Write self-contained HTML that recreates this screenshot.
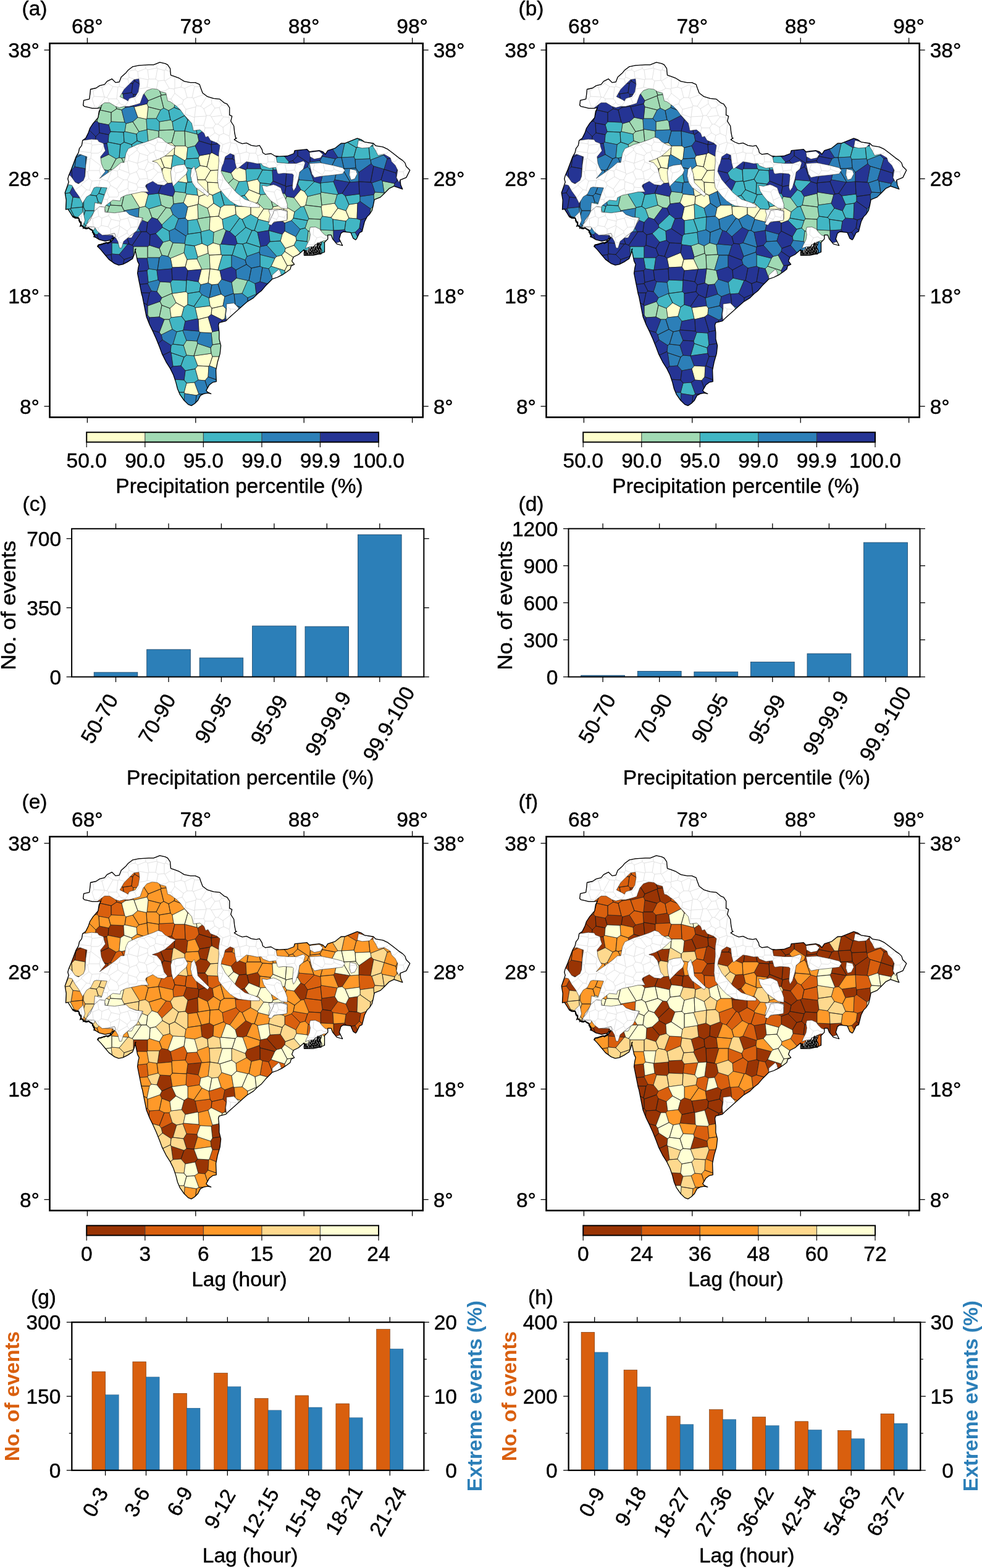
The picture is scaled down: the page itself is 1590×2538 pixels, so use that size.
<!DOCTYPE html>
<html><head><meta charset="utf-8"><style>html,body{margin:0;padding:0;background:#fff;}svg{display:block;}text{stroke-width:0.45px;}</style></head><body>
<svg width="1590" height="2538" viewBox="0 0 1590 2538" font-family='"Liberation Sans", Arial, Helvetica, sans-serif' font-size="33.5">
<rect width="1590" height="2538" fill="#fff"/>
<clipPath id="clip0"><path d="M134.6,170.3 135.6,162.4 144.6,160.4 145.6,153.5 146.5,144.5 155.5,142.5 161.4,138.6 169.4,136.6 173.3,131.6 181.3,127.7 187.2,133.6 193.2,132.6 196.2,124.7 204.1,117.7 207.1,113.8 215.0,107.8 224.9,105.8 240.8,104.8 248.7,104.8 258.7,100.9 267.6,102.9 271.5,104.8 275.5,110.8 276.5,121.7 282.5,123.7 290.4,126.7 298.3,131.6 308.3,133.6 316.2,133.6 323.1,136.6 325.1,142.5 328.1,150.5 336.0,156.4 346.0,159.4 355.9,160.4 362.8,166.3 367.8,168.3 371.7,174.3 371.7,186.2 375.7,188.2 373.7,196.1 378.7,204.0 379.7,214.0 381.7,223.9 383.2,223.4 379.2,226.0 385.8,230.0 392.4,232.6 399.0,231.3 407.0,235.3 414.9,236.6 420.2,235.3 424.2,241.9 425.5,247.2 429.5,249.8 438.7,248.5 445.3,252.5 452.0,253.1 465.2,252.5 475.8,248.5 477.2,243.7 497.1,241.7 501.0,245.7 507.0,244.7 516.9,243.7 522.9,245.7 526.8,249.7 530.8,243.7 542.7,239.8 552.6,231.8 558.6,231.8 568.5,227.9 578.4,223.9 584.4,225.9 590.3,229.8 604.2,231.8 608.2,235.8 620.1,237.8 628.0,241.7 636.0,247.7 645.9,255.6 651.8,259.6 655.8,263.6 657.8,269.5 663.7,275.5 659.8,283.4 657.8,287.4 647.9,291.3 648.8,299.3 651.8,306.2 643.9,303.3 637.9,301.3 630.0,305.2 622.1,313.2 616.1,319.1 606.2,323.1 604.2,333.0 602.2,341.0 598.3,346.9 594.3,350.9 590.3,358.8 588.3,366.7 586.3,374.7 582.1,376.7 577.3,386.6 575.8,388.2 571.8,385.6 567.8,376.3 555.9,375.0 552.0,377.6 549.3,386.9 554.6,397.5 545.3,394.8 538.7,386.9 536.1,380.3 530.8,380.3 530.8,386.9 525.5,392.2 525.5,408.0 518.9,410.7 507.0,413.3 492.4,413.3 493.8,406.7 492.4,404.1 483.2,412.0 475.2,416.0 472.6,422.6 476.6,427.9 471.3,430.5 469.9,435.8 464.7,439.8 456.7,445.1 448.8,449.0 440.8,451.7 436.9,455.7 430.3,462.3 423.7,470.2 417.0,475.5 410.4,482.1 399.8,488.7 370.8,514.4 365.5,519.7 354.9,522.3 353.6,526.3 354.9,538.2 354.9,548.8 357.6,559.4 356.2,572.6 352.3,585.8 349.6,599.0 350.3,617.6 344.3,618.9 339.0,622.9 333.8,632.1 336.4,634.8 341.7,637.4 336.4,636.1 329.8,637.4 324.5,640.1 320.5,648.0 315.2,653.3 309.9,656.6 304.7,654.6 298.0,648.0 291.4,638.7 287.5,629.5 284.8,618.9 280.8,607.0 275.6,596.4 268.9,585.8 262.3,572.6 258.4,562.0 253.1,548.8 247.8,536.9 242.5,526.3 237.2,513.1 233.2,493.2 230.6,480.0 229.2,475.5 227.9,468.9 226.6,462.3 225.2,455.7 223.9,449.0 222.6,442.4 223.9,433.2 225.2,427.9 222.6,422.6 221.3,416.0 219.9,409.4 218.6,404.1 219.9,402.8 218.6,406.7 217.3,412.0 214.7,418.6 206.7,423.9 198.8,427.9 192.2,429.2 185.6,426.6 176.3,419.9 169.7,412.0 163.1,404.1 157.8,398.8 158.4,397.5 160.8,395.9 164.0,395.1 170.3,393.5 176.7,392.7 181.4,389.5 185.4,384.0 183.0,385.6 178.3,388.7 170.3,390.3 160.8,387.9 154.4,384.0 151.3,379.2 149.7,374.4 148.1,371.3 143.3,369.7 135.4,368.1 131.4,364.9 129.8,358.6 127.5,353.8 121.9,352.2 117.1,349.8 114.8,345.9 110.0,338.3 106.5,339.1 107.2,323.9 105.2,312.0 111.2,294.8 109.8,289.5 111.2,284.2 115.1,274.9 119.1,264.4 123.1,253.8 127.0,247.2 128.4,240.6 132.3,235.3 133.7,227.3 138.9,223.4 142.9,215.4 145.6,207.5 150.8,199.6 158.8,190.3 160.4,180.2 163.4,174.3 157.5,175.3 149.5,175.3 141.6,173.3 136.6,172.3Z"/></clipPath>
<g clip-path="url(#clip0)">
<path d="M238 192L240 173L238 168L217 173L223 190L237 193ZM280 252L282 250L283 236L278 231L261 233L258 252L259 253ZM299 260L282 250L283 236L300 236L304 239L302 257ZM266 271L263 273L243 276L242 275L241 256L258 252L259 253ZM277 273L280 252L259 253L266 271ZM340 249L335 270L324 268L321 256L323 252ZM360 257L360 256L343 247L340 249L335 270L341 276L356 275ZM223 288L227 279L242 275L243 276L247 290L238 297ZM243 276L263 273L260 296L247 290ZM277 273L283 278L282 293L279 296L262 298L260 296L263 273L266 271ZM300 271L304 295L302 296L282 293L283 278L299 270ZM324 268L335 270L341 276L332 291L320 291L316 274ZM357 276L356 296L336 295L332 291L341 276L356 275ZM378 289L374 280L384 270L398 275L399 293L387 294ZM336 295L332 291L320 291L317 294L320 316L322 318L337 313ZM360 306L356 296L336 295L337 313L344 316L357 310L361 306ZM421 296L420 314L403 307L400 294L417 290ZM217 308L212 313L226 336L235 334L240 315L236 311ZM304 335L297 328L302 314L320 316L322 318L321 330L320 331ZM344 316L337 313L322 318L321 330L336 337L346 329ZM420 314L403 307L396 316L408 331L417 328L422 315ZM487 307L476 320L487 335L492 334L495 332L498 318L493 310ZM319 355L304 357L300 353L304 335L320 331L321 354ZM340 351L354 350L357 336L346 329L336 337L340 351ZM354 350L357 336L363 332L380 332L381 334L382 347L360 355ZM406 347L392 355L388 353L382 347L381 334L406 334ZM406 347L406 334L408 331L417 328L427 338L417 353ZM417 353L418 355L438 360L443 356L440 339L427 338ZM458 359L460 333L459 331L442 335L440 339L443 356ZM458 359L460 333L477 343L475 353L472 357L461 361ZM536 352L547 337L542 329L521 332L520 335L522 350ZM560 358L565 353L560 341L547 337L536 352L539 355ZM579 329L578 354L565 353L560 341L565 331ZM362 370L360 355L354 350L340 351L339 372L346 376ZM476 397L462 402L454 390L457 379L461 374L479 383L480 389ZM337 410L320 416L315 398L327 394L336 398ZM356 396L345 393L336 398L337 410L339 413L358 412ZM480 420L488 411L476 397L462 402L461 407ZM298 409L276 418L279 433L300 432L303 420ZM327 436L319 419L303 420L300 432L304 438L326 436ZM358 412L360 413L353 437L340 435L339 413ZM465 430L461 438L439 431L445 418L448 415L456 413ZM480 420L461 407L456 413L465 430L479 428ZM327 436L340 435L337 458L325 461L321 456L326 436ZM340 435L340 435L353 437L356 438L359 452L353 460L343 461L337 458ZM479 428L484 434L482 453L478 455L467 452L462 448L461 438L465 430ZM304 493L298 497L285 490L278 475L279 475L301 472L304 475ZM339 482L338 482L340 495L343 499L361 495L364 480L358 476ZM277 514L294 512L298 497L285 490L275 499ZM340 495L343 499L342 509L337 513L321 517L320 516L316 498ZM361 495L366 500L364 516L360 518L342 509L343 499ZM324 538L342 539L344 537L337 513L321 517L322 536ZM342 572L314 576L320 592L338 593L339 592L344 577ZM344 577L358 577L362 579L359 600L339 592ZM338 593L337 610L332 616L321 615L316 597L320 592ZM315 619L322 638L318 640L299 637L298 635L302 620Z" fill="#ffffcc" stroke="#1a1a1a" stroke-width="0.7" stroke-linejoin="round"/>
<path d="M242 115L226 82L256 -648L276 -53L269 75L258 108ZM264 118L258 108L269 75L283 113L275 120ZM264 118L258 108L242 115L240 119L246 135L255 138L257 137ZM264 118L257 137L277 132L275 120ZM275 120L283 113L293 116L297 131L296 132L280 135L277 132ZM320 114L304 106L293 116L297 131L313 129ZM332 116L338 135L337 137L323 143L313 129L320 114L323 113ZM240 163L233 152L236 142L246 135L255 138L261 154L260 155ZM257 137L255 138L261 154L277 152L280 135L277 132ZM296 155L286 157L277 152L280 135L296 132L299 153ZM317 155L323 143L313 129L297 131L296 132L299 153ZM343 160L320 161L317 155L323 143L337 137L345 156ZM119 178L135 180L142 170L140 156L139 156L117 158L114 172ZM162 178L142 170L140 156L155 150L170 156L162 178ZM162 178L170 156L178 154L181 155L189 176L180 182ZM199 152L195 150L181 155L189 176L197 178L203 174ZM260 178L240 173L238 168L240 163L260 155L265 175ZM265 175L260 155L261 154L277 152L286 157L282 174L273 179ZM162 178L142 170L135 180L137 189L147 199L157 196ZM176 202L180 197L180 182L162 178L162 178L157 196L160 199ZM180 182L189 176L197 178L202 198L180 197ZM260 178L240 173L238 192L253 192ZM225 213L221 217L202 213L204 200L215 197ZM237 193L238 209L238 210L225 213L215 197L223 190ZM276 194L279 197L281 210L258 211L258 197ZM257 230L257 212L238 209L238 210L240 230ZM278 231L283 212L281 210L258 211L257 212L257 230L261 233ZM283 236L300 236L299 212L283 212L278 231ZM319 217L299 212L299 212L300 236L304 239L316 236L322 228L320 218ZM261 233L257 230L240 230L237 233L234 252L241 256L258 252ZM188 257L179 274L175 276L160 273L159 272L159 258L176 250ZM188 257L179 274L199 286L200 285L205 274L197 256L193 255ZM219 270L222 254L217 251L197 256L205 274ZM177 299L197 289L199 286L179 274L175 276L176 299ZM223 288L227 279L219 270L205 274L200 285L217 293ZM378 289L374 280L357 276L356 296L360 306ZM201 315L212 313L217 308L217 293L200 285L199 286L197 289L198 313ZM378 289L360 306L361 306L378 314L387 294ZM635 314L639 297L619 293L622 312L626 314ZM201 315L197 333L179 332L178 318L186 311L198 313ZM201 315L212 313L226 336L225 337L201 341L197 333ZM261 332L269 336L276 337L281 330L280 318L257 313ZM281 330L280 318L283 310L300 312L302 314L297 328ZM436 314L442 335L440 339L427 338L417 328L422 315ZM436 314L442 335L459 331L464 318L461 313L437 313ZM464 318L459 331L460 333L477 343L487 335L476 320ZM498 318L495 332L520 335L521 332L519 313ZM546 315L542 329L521 332L519 313L520 311ZM617 332L606 332L605 315L607 311L622 312L626 314ZM162 354L173 347L177 334L159 327L153 341L161 353ZM179 332L177 334L173 347L185 354L199 353L201 341L197 333ZM225 337L226 336L235 334L241 338L246 352L239 360L224 354ZM241 338L246 352L255 355L269 336L261 332ZM276 337L269 336L255 355L262 364L280 347ZM340 351L336 337L321 330L320 331L321 354ZM522 350L520 335L495 332L492 334L500 354L519 355ZM627 340L617 332L606 332L600 338L599 348L621 352ZM162 354L168 369L176 371L185 354L173 347ZM199 353L185 354L176 371L183 378L200 372L203 361ZM326 375L319 355L321 354L340 351L340 351L339 372ZM519 355L500 354L498 357L494 369L499 374L518 375L519 372ZM356 396L358 395L366 373L362 370L346 376L345 393ZM503 397L518 388L518 375L499 374L497 391ZM540 373L540 393L527 395L518 388L518 375L519 372L540 373ZM238 418L219 418L216 415L216 399L239 399L239 417ZM239 417L239 399L242 397L258 402L262 413L258 417ZM272 415L280 393L275 389L264 392L258 402L262 413ZM300 396L299 394L280 393L272 415L276 418L298 409ZM327 436L319 419L320 416L337 410L339 413L340 435L340 435ZM254 472L259 456L276 457L279 475L278 475L262 482ZM375 457L378 475L379 476L392 475L401 454L383 450ZM262 494L275 499L285 490L278 475L262 482L259 488ZM262 494L258 513L242 514L239 510L239 495L259 488ZM262 494L275 499L277 514L274 517L266 517L258 513ZM274 517L279 533L261 542L258 538L266 517ZM342 539L344 558L364 555L364 541L354 535L344 537ZM302 551L297 559L302 575L314 576L320 556L319 552ZM342 572L341 563L320 556L314 576L314 576ZM342 572L341 563L344 558L364 555L365 556L358 577L344 577Z" fill="#a1dab4" stroke="#1a1a1a" stroke-width="0.7" stroke-linejoin="round"/>
<path d="M300 180L300 181L282 174L286 157L296 155ZM320 171L320 161L317 155L299 153L296 155L300 180ZM320 172L320 171L320 161L343 160L346 176L340 181ZM356 177L364 154L361 153L345 156L343 160L346 176L356 177ZM356 177L364 154L375 154L377 155L377 175L375 178ZM260 178L253 192L258 197L276 194L273 179L265 175ZM273 179L282 174L300 181L299 187L279 197L276 194ZM321 193L316 196L304 194L299 187L300 181L300 180L320 171L320 172ZM321 193L338 197L340 181L320 172ZM338 197L338 198L360 196L356 177L346 176L340 181ZM378 199L375 178L356 177L356 177L360 196L363 199ZM179 213L200 214L202 213L204 200L202 198L180 197L176 202ZM258 197L258 211L257 212L238 209L237 193L238 192L253 192ZM299 212L299 212L283 212L281 210L279 197L299 187L304 194ZM319 217L299 212L304 194L316 196ZM321 193L316 196L319 217L320 218L338 206L338 198L338 197ZM363 199L360 196L338 198L338 206L346 216L355 214ZM378 199L363 199L355 214L364 221L377 217L379 214L379 199ZM195 234L201 230L200 214L179 213L176 218L175 230ZM213 234L201 230L200 214L202 213L221 217L222 228ZM240 230L237 233L222 228L221 217L225 213L238 210ZM441 233L439 216L419 220L421 238L425 241L436 238ZM586 236L577 239L560 229L559 217L574 216L578 218ZM598 213L578 218L586 236L595 236L599 214ZM599 214L616 219L617 234L597 237L595 236ZM188 257L176 250L173 232L175 230L195 234L193 255ZM193 255L197 256L217 251L213 234L201 230L195 234ZM237 233L222 228L213 234L217 251L222 254L234 252ZM323 252L321 256L302 257L304 239L316 236ZM436 238L425 241L424 252L442 258L442 258ZM553 255L553 255L558 232L560 229L577 239L573 254ZM599 257L597 237L595 236L586 236L577 239L573 254L575 258ZM600 259L621 251L622 238L617 234L597 237L599 257ZM242 275L241 256L234 252L222 254L219 270L227 279ZM277 273L283 278L299 270L299 260L282 250L280 252ZM324 268L316 274L300 271L299 270L299 260L302 257L321 256ZM441 276L442 275L442 258L424 252L419 257L422 273L425 275ZM468 262L461 275L442 275L442 258L442 258L457 249ZM300 271L304 295L317 294L320 291L316 274ZM425 275L422 273L400 273L398 275L399 293L400 294L417 290ZM438 298L421 296L417 290L425 275L441 276L442 293ZM121 296L113 312L-45 336L-267 343L117 291ZM160 313L164 303L155 290L137 295L135 297L142 315L156 317ZM186 311L177 299L176 299L164 303L160 313L178 318ZM198 313L197 289L177 299L186 311ZM302 296L300 312L283 310L279 296L282 293ZM304 295L317 294L320 316L302 314L300 312L302 296ZM387 294L399 293L400 294L403 307L396 316L382 320L378 314ZM438 298L437 313L436 314L422 315L420 314L421 296ZM484 291L482 298L487 307L493 310L509 294L508 293ZM493 310L498 318L519 313L520 311L519 297L509 294ZM519 296L519 297L520 311L546 315L548 314L540 294ZM115 337L114 338L74 342L-45 336L113 312L118 319ZM115 337L135 335L136 321L118 319ZM159 327L156 317L142 315L136 321L135 335L138 341L153 341ZM179 332L177 334L159 327L156 317L160 313L178 318ZM240 315L256 313L257 313L261 332L241 338L235 334ZM357 310L363 332L357 336L346 329L344 316ZM378 314L382 320L380 332L363 332L357 310L361 306ZM408 331L396 316L382 320L380 332L381 334L406 334ZM565 331L559 317L554 313L548 314L546 315L542 329L547 337L560 341ZM579 329L583 326L583 318L582 314L559 317L565 331ZM123 356L118 360L74 342L114 338ZM138 341L135 335L115 337L114 338L123 356L133 357ZM161 353L139 366L133 357L138 341L153 341ZM475 353L477 343L487 335L492 334L500 354L498 357ZM139 366L140 369L117 381L111 376L118 360L123 356L133 357ZM162 354L168 369L157 380L145 377L140 369L139 366L161 353ZM280 347L262 364L263 368L274 374L283 370L289 354ZM326 375L319 355L304 357L304 379L325 376ZM366 373L362 370L360 355L382 347L388 353L372 375ZM381 383L398 368L392 355L388 353L372 375ZM406 347L392 355L398 368L408 373L412 373L418 355L417 353ZM435 373L438 360L418 355L412 373L417 376ZM475 353L498 357L494 369L486 371L472 357ZM539 355L536 352L522 350L519 355L519 372L540 373ZM558 372L540 373L540 373L539 355L560 358ZM584 356L578 354L565 353L560 358L558 372L562 378L575 376L582 369ZM275 389L274 374L263 368L252 378L264 392ZM315 398L300 396L299 394L301 382L304 379L325 376L327 394ZM345 393L346 376L339 372L326 375L325 376L327 394L336 398ZM384 394L393 395L399 393L408 373L398 368L381 383ZM421 400L422 399L417 376L412 373L408 373L399 393ZM437 391L435 373L457 379L454 390ZM480 389L479 383L486 371L494 369L499 374L497 391ZM575 376L562 378L560 388L564 393L585 394ZM207 395L181 393L181 411L193 412ZM320 416L315 398L300 396L298 409L303 420L319 419ZM356 396L358 395L381 397L376 413L375 413L360 413L358 412ZM381 397L376 413L397 421L400 415L393 395L384 394ZM393 395L399 393L421 400L420 408L400 415ZM456 413L448 415L432 397L437 391L454 390L462 402L461 407ZM501 411L503 397L497 391L480 389L476 397L488 411ZM501 411L502 412L524 412L527 395L518 388L503 397ZM375 413L375 432L356 438L353 437L360 413ZM439 431L445 418L421 412L421 431L425 433L435 435ZM480 420L488 411L501 411L502 412L504 430L484 434L479 428ZM504 430L509 435L519 436L519 436L529 419L524 412L502 412ZM254 437L256 453L240 457L238 438L241 435ZM439 431L461 438L462 448L442 454L435 435ZM301 472L279 475L276 457L279 453L302 454ZM325 461L323 472L304 475L301 472L302 454L302 453L321 456ZM392 475L401 482L415 476L413 459L403 454L401 454ZM327 477L314 496L304 493L304 475L323 472ZM327 477L314 496L316 498L340 495L338 482ZM314 496L304 493L298 497L294 512L300 520L320 516L316 498ZM274 517L279 533L286 537L296 535L297 534L300 520L294 512L277 514ZM296 535L286 537L280 557L297 559L302 551ZM280 557L277 559L276 569L277 571L298 578L302 575L297 559ZM298 578L293 592L280 593L277 571ZM314 576L314 576L302 575L298 578L293 592L300 600L316 597L320 592ZM315 619L321 615L316 597L300 600L298 615L302 620ZM302 620L298 615L280 614L278 617L277 630L282 635L298 635ZM298 635L282 635L275 653L277 655L298 653L299 637Z" fill="#41b6c4" stroke="#1a1a1a" stroke-width="0.7" stroke-linejoin="round"/>
<path d="M223 190L215 197L204 200L202 198L197 178L203 174L216 172L217 173ZM137 236L118 230L116 231L115 250L123 255L136 248ZM547 255L535 236L558 232L553 255ZM121 270L123 255L115 250L75 261L116 275ZM121 270L123 255L136 248L139 251L139 273L138 273ZM159 258L159 272L139 273L139 251L158 257ZM500 264L498 270L501 273L524 277L526 274L518 260L502 262ZM526 274L518 260L522 253L543 257L535 273ZM556 276L557 273L553 255L553 255L547 255L543 257L535 273L544 282ZM576 272L557 273L553 255L573 254L575 258ZM576 272L575 258L599 257L600 259L601 265L581 279ZM600 259L621 251L627 257L622 274L622 274L605 269L601 265ZM164 303L155 290L160 273L175 276L176 299ZM487 276L483 283L484 291L508 293L501 273L498 270ZM544 282L535 273L526 274L524 277L519 296L540 294L542 291ZM566 295L542 291L544 282L556 276L567 295ZM576 272L557 273L556 276L567 295L581 294L581 294L581 279ZM617 291L602 296L607 311L622 312L619 293ZM606 332L600 338L583 326L583 318L605 315ZM199 353L201 341L225 337L224 354L218 360L203 361ZM300 353L289 354L280 347L276 337L281 330L297 328L304 335ZM203 376L200 372L203 361L218 360L228 375ZM304 379L301 382L283 370L289 354L300 353L304 357ZM461 361L472 357L486 371L479 383L461 374ZM299 394L280 393L275 389L274 374L283 370L301 382ZM421 412L420 408L421 400L422 399L432 397L448 415L445 418ZM254 437L241 435L238 418L239 417L258 417L255 437ZM255 437L278 435L279 433L276 418L272 415L262 413L258 417ZM375 413L376 413L397 421L399 428L382 437L375 432ZM397 421L400 415L420 408L421 412L421 431L407 434L399 428ZM399 428L407 434L403 454L401 454L383 450L382 437ZM421 431L407 434L403 454L413 459L421 456L425 433ZM435 435L425 433L421 456L439 461L442 454ZM240 457L239 459L245 471L254 472L259 456L256 453ZM325 461L323 472L327 477L338 482L339 482L343 461L337 458ZM343 461L339 482L358 476L353 460ZM353 460L359 452L375 457L378 475L364 480L358 476ZM378 475L379 476L381 494L377 498L366 500L361 495L364 480ZM392 475L401 482L401 497L398 501L381 494L379 476ZM401 482L401 497L418 500L422 497L420 478L415 476ZM366 500L364 516L378 521L383 518L377 498ZM398 501L395 514L383 518L377 498L381 494ZM261 542L263 550L277 559L280 557L286 537L279 533ZM296 535L302 551L319 552L324 538L322 536L297 534ZM324 538L342 539L344 558L341 563L320 556L319 552ZM339 592L359 600L361 602L363 614L360 618L337 610L338 593ZM315 619L321 615L332 616L338 635L336 637L322 638ZM337 610L332 616L338 635L357 632L360 618ZM318 640L316 659L301 657L298 653L299 637ZM322 638L336 637L337 653L320 662L316 659L318 640Z" fill="#2c7fb8" stroke="#1a1a1a" stroke-width="0.7" stroke-linejoin="round"/>
<path d="M170 -8L197 113L197 114L213 114L226 82L256 -648L249 -2154L175 -2077L169 -32ZM240 119L219 122L213 114L226 82L242 115ZM177 141L162 129L165 120L175 116L179 117L183 132ZM196 134L197 134L197 114L197 113L179 117L183 132ZM218 131L219 122L213 114L197 114L197 134L215 135ZM240 119L219 122L218 131L236 142L246 135ZM140 156L155 150L156 135L142 129L133 138L139 156ZM155 150L156 135L162 129L177 141L178 154L170 156ZM195 150L196 134L183 132L177 141L178 154L181 155ZM213 150L215 135L197 134L196 134L195 150L199 152ZM216 153L233 152L236 142L218 131L215 135L213 150ZM216 153L216 172L203 174L199 152L213 150ZM238 168L240 163L233 152L216 153L216 172L217 173ZM161 215L155 221L142 208L147 199L157 196L160 199ZM176 218L161 215L160 199L176 202L179 213ZM379 199L391 196L408 217L402 222L379 214ZM139 235L137 211L120 210L119 212L118 230L137 236ZM139 235L137 211L142 208L155 221L154 231ZM173 232L158 234L154 231L155 221L161 215L176 218L175 230ZM320 218L322 228L342 234L342 234L346 216L338 206ZM364 221L360 232L342 234L346 216L355 214ZM377 217L381 236L381 236L366 239L360 232L364 221ZM377 217L381 236L398 239L402 222L379 214ZM399 242L421 238L419 220L411 216L408 217L402 222L398 239ZM158 257L139 251L136 248L137 236L139 235L154 231L158 234ZM176 250L159 258L158 257L158 234L173 232ZM343 247L342 234L322 228L316 236L323 252L340 249ZM366 239L360 256L343 247L342 234L342 234L360 232ZM366 239L360 256L360 257L376 257L381 236ZM381 236L376 257L381 260L400 249L399 242L398 239L381 236ZM399 242L421 238L425 241L424 252L419 257L403 253L400 249ZM459 240L441 233L436 238L442 258L457 249ZM482 237L482 252L474 260L468 262L457 249L459 240L463 236L479 236ZM482 237L490 234L503 241L502 262L500 264L482 252ZM502 262L518 260L522 253L520 236L519 236L503 241ZM543 257L522 253L520 236L531 234L535 236L547 255ZM621 251L622 238L634 234L639 239L646 254L646 254L627 257ZM376 257L360 257L356 275L357 276L374 280L384 270L381 260ZM381 260L384 270L398 275L400 273L403 253L400 249ZM419 257L403 253L400 273L422 273ZM474 260L487 276L483 283L464 278L461 275L468 262ZM482 252L500 264L498 270L487 276L474 260ZM627 257L646 254L643 276L641 280L622 274ZM663 257L660 274L643 276L646 254L646 254L658 252ZM663 257L660 274L664 279L681 271L677 261ZM117 291L-267 343L-302 345L-1084 359L-2275 364L-2116 218L-894 221L-147 240L75 261L116 275ZM137 295L138 273L121 270L116 275L117 291L121 296L135 297ZM137 295L155 290L160 273L159 272L139 273L138 273ZM442 293L462 301L464 278L461 275L442 275L441 276ZM483 283L464 278L462 301L463 302L482 298L484 291ZM524 277L501 273L508 293L509 294L519 297L519 296ZM581 279L581 294L600 295L605 269L601 265ZM622 274L617 291L602 296L600 295L605 269ZM622 274L617 291L619 293L639 297L643 292L641 280L622 274ZM663 297L664 297L664 279L660 274L643 276L641 280L643 292ZM135 297L142 315L136 321L118 319L113 312L121 296ZM223 288L238 297L236 311L217 308L217 293ZM238 297L247 290L260 296L262 298L256 313L240 315L236 311ZM256 313L262 298L279 296L283 310L280 318L257 313ZM438 298L437 313L461 313L463 302L462 301L442 293ZM487 307L476 320L464 318L461 313L463 302L482 298ZM566 295L554 313L548 314L540 294L542 291ZM566 295L554 313L559 317L582 314L581 294L567 295ZM607 311L605 315L583 318L582 314L581 294L581 294L600 295L602 296ZM638 318L656 320L663 310L663 297L643 292L639 297L635 314ZM596 352L599 348L600 338L583 326L579 329L578 354L584 356ZM229 375L237 375L239 360L224 354L218 360L228 375ZM237 375L239 360L246 352L255 355L262 364L263 368L252 378L243 380ZM435 373L438 360L443 356L458 359L461 361L461 374L457 379L435 373ZM596 352L606 372L597 382L582 369L584 356ZM157 380L161 391L157 400L142 404L136 394L145 377ZM176 371L168 369L157 380L161 391L180 392L183 378ZM209 395L207 395L181 393L180 392L183 378L200 372L203 376ZM214 397L229 375L228 375L203 376L209 395ZM214 397L216 399L239 399L242 397L243 380L237 375L229 375ZM242 397L258 402L264 392L252 378L243 380ZM381 397L358 395L366 373L372 375L381 383L384 394ZM432 397L422 399L417 376L435 373L435 373L437 391ZM558 372L562 378L560 388L542 394L540 393L540 373ZM582 369L575 376L585 394L587 395L594 394L597 382ZM161 391L157 400L167 414L180 412L181 411L181 393L180 392ZM214 397L216 399L216 415L201 420L193 412L207 395L209 395ZM165 416L167 414L180 412L182 429L176 435L159 433ZM198 436L182 429L180 412L181 411L193 412L201 420ZM218 440L199 437L198 436L201 420L216 415L219 418ZM241 435L238 438L219 440L218 440L219 418L238 418ZM240 457L239 459L220 461L219 459L219 440L238 438ZM254 437L256 453L259 456L276 457L279 453L278 435L255 437ZM304 438L302 453L302 454L279 453L278 435L279 433L300 432ZM326 436L304 438L302 453L321 456ZM375 432L382 437L383 450L375 457L359 452L356 438ZM245 471L239 459L220 461L220 467L225 474L242 474ZM415 476L420 478L437 474L441 469L439 461L421 456L413 459ZM227 488L225 474L242 474L238 493ZM259 488L262 482L254 472L245 471L242 474L238 493L239 495ZM239 495L238 493L227 488L217 492L220 509L223 511L239 510ZM239 510L223 511L217 532L220 534L238 535L240 533L242 514ZM242 514L240 533L258 538L266 517L258 513ZM297 534L300 520L320 516L321 517L322 536ZM337 513L342 509L360 518L354 535L344 537ZM378 521L364 516L360 518L354 535L364 541L379 534ZM258 538L240 533L238 535L237 551L239 555L255 557L263 550L261 542ZM277 559L276 569L255 579L255 579L255 557L263 550ZM277 571L276 569L255 579L260 592L263 595L275 597L280 593ZM293 592L300 600L298 615L280 614L275 597L280 593Z" fill="#253494" stroke="#1a1a1a" stroke-width="0.7" stroke-linejoin="round"/>
<path d="M309.8,274.4 314.5,269.1 318.4,281.0 320.4,295.5 328.4,303.5 338.9,314.0 336.3,318.0 325.7,310.1 316.5,303.5 311.2,295.5 308.5,284.9Z" fill="#fff" fill-rule="evenodd" stroke="#222" stroke-width="0.6"/>
<path d="M278.9,270.1 286.9,267.4 298.8,266.1 304.1,275.4 301.4,282.0 293.5,288.6 285.6,296.5 280.3,301.8 277.6,291.2 276.3,278.0Z" fill="#fff" fill-rule="evenodd" stroke="#222" stroke-width="0.6"/>
<path d="M134.6,170.3 135.6,162.4 144.6,160.4 145.6,153.5 146.5,144.5 155.5,142.5 161.4,138.6 169.4,136.6 173.3,131.6 181.3,127.7 187.2,133.6 193.2,132.6 196.2,124.7 204.1,117.7 207.1,113.8 215.0,107.8 224.9,105.8 240.8,104.8 248.7,104.8 258.7,100.9 267.6,102.9 271.5,104.8 275.5,110.8 276.5,121.7 282.5,123.7 290.4,126.7 298.3,131.6 308.3,133.6 316.2,133.6 323.1,136.6 325.1,142.5 328.1,150.5 336.0,156.4 346.0,159.4 355.9,160.4 362.8,166.3 367.8,168.3 371.7,174.3 371.7,186.2 375.7,188.2 373.7,196.1 378.7,204.0 379.7,214.0 381.7,223.9 383.2,223.4 379.2,226.0 385.8,230.0 392.4,232.6 399.0,231.3 407.0,235.3 414.9,236.6 420.2,235.3 424.2,241.9 425.5,247.2 429.5,249.8 438.7,248.5 446.7,252.5 448.7,263.0 465.2,264.4 480.0,264.4 491.1,260.6 494.1,263.6 491.1,273.5 485.2,278.5 483.2,289.4 479.2,303.3 475.2,309.2 473.3,303.3 475.2,283.4 473.3,281.4 459.4,280.4 451.4,281.4 449.3,280.2 446.7,271.0 436.1,272.3 425.5,268.3 422.9,264.4 416.2,265.0 407.0,263.0 399.0,261.7 393.8,265.7 385.8,272.3 383.2,273.6 380.5,263.0 379.2,251.1 372.6,248.5 364.7,253.8 362.0,264.4 359.4,269.7 358.0,277.6 364.7,290.8 372.6,300.1 383.2,312.0 396.4,322.6 412.3,327.9 420.2,331.8 420.2,335.8 407.0,335.8 396.4,334.5 385.8,333.1 380.5,330.5 372.6,325.2 364.7,317.3 359.4,310.7 354.1,304.0 352.1,290.8 352.8,277.6 354.1,264.4 354.1,248.5 356.1,235.3 351.4,231.3 340.8,227.3 336.9,220.7 332.9,222.0 330.3,215.4 323.7,210.1 313.1,211.5 310.4,199.6 297.2,185.0 292.4,178.3 286.4,172.3 275.5,164.4 271.5,163.4 268.6,150.5 260.6,148.5 254.7,144.5 246.7,143.5 237.8,146.5 231.9,153.5 228.9,161.4 226.9,167.3 217.0,170.3 209.0,172.3 201.1,172.3 193.2,174.3 187.2,172.3 177.3,166.3 169.4,166.3 166.4,168.3 157.5,175.3 149.5,175.3 141.6,173.3 136.6,172.3ZM194.2,156.4 201.1,144.5 209.0,136.6 217.0,128.7 224.9,127.7 225.9,136.6 223.9,148.5 219.0,156.4 209.0,159.4 207.1,163.4 204.1,161.4Z" fill="#fff" fill-rule="evenodd" stroke="#222" stroke-width="0.6"/>
<path d="M133.7,227.3 148.2,225.3 158.1,226.0 160.1,229.3 167.4,232.0 168.7,237.9 170.7,243.9 162.8,253.8 164.1,264.4 166.7,271.0 170.7,277.6 161.4,288.8 174.7,279.6 186.6,271.0 195.8,263.0 201.1,263.0 203.8,248.5 207.7,240.6 222.3,233.9 235.5,230.0 248.7,225.3 256.0,222.0 262.0,224.0 267.2,229.3 275.2,233.9 284.4,237.2 275.2,245.8 267.2,252.5 256.7,257.8 246.7,261.1 254.0,263.0 256.7,266.3 260.6,271.0 263.3,280.2 265.9,289.5 271.2,296.1 265.9,300.1 255.3,298.8 247.4,293.5 236.8,298.8 235.5,301.4 240.8,310.7 228.9,310.7 217.0,313.3 203.8,316.0 195.8,319.9 194.5,325.2 182.6,323.9 170.7,333.1 169.4,338.4 172.0,343.7 182.6,346.4 194.5,343.7 202.4,342.4 209.0,347.7 222.3,351.7 231.5,353.0 230.2,357.0 222.3,370.2 217.0,378.1 213.0,385.0 185.2,385.0 182.6,380.8 172.0,380.8 161.4,375.5 153.5,368.9 152.2,372.8 145.6,370.2 135.0,366.2 129.7,360.9 125.7,351.7 116.5,349.0 106.5,339.1 107.2,323.9 105.2,312.0 111.2,294.8 109.8,289.5 111.2,284.2 115.1,274.9 119.1,264.4 123.1,253.8 127.0,247.2 128.4,240.6 132.3,235.3ZM118.4,264.4 123.1,251.1 129.7,249.8 140.9,253.8 138.9,267.0 137.6,285.5 135.0,292.1 127.0,297.4 121.7,294.8 115.1,285.5 111.8,282.9 116.5,271.0ZM104.6,312.0 111.2,298.8 116.5,300.1 121.7,309.3 128.4,318.6 133.7,329.2 133.7,343.7 125.7,351.7 116.5,349.0 106.5,339.1 105.9,323.9ZM133.7,366.2 137.6,357.0 133.7,337.1 133.7,329.2 140.3,318.6 146.9,314.6 152.2,304.0 156.1,302.7 173.3,304.0 169.4,314.6 164.1,330.5 153.5,327.9 152.2,343.7 142.9,357.0 138.9,366.9Z" fill="#fff" fill-rule="evenodd" stroke="#222" stroke-width="0.6"/>
<path d="M424.2,300.1 432.1,301.4 442.7,298.8 446.7,300.1 454.6,304.0 457.2,312.0 462.5,322.6 465.2,330.5 465.2,338.4 455.9,337.1 446.7,330.5 438.7,325.2 432.1,317.3 426.8,309.3Z" fill="#fff" fill-rule="evenodd" stroke="#222" stroke-width="0.6"/>
<path d="M434.8,339.8 444.0,338.4 455.9,338.4 465.2,341.1 465.2,354.3 455.9,357.0 445.3,359.6 437.4,363.6 434.8,357.0 437.4,347.7Z" fill="#fff" fill-rule="evenodd" stroke="#222" stroke-width="0.6"/>
<path d="M443.5,340.6 454.1,339.3 464.7,341.9 464.7,356.5 458.0,357.8 443.5,359.1 439.5,364.4 434.2,363.1 438.2,353.8 442.2,345.9Z" fill="#fff" fill-rule="evenodd" stroke="#222" stroke-width="0.6"/>
<path d="M152.5,341.9 161.7,334.0 169.7,335.3 169.7,343.2 185.6,344.6 204.1,341.9 209.4,347.2 219.9,351.2 230.5,352.5 225.2,365.7 221.3,373.7 209.4,382.9 200.1,390.8 196.8,401.4 193.5,401.4 190.8,390.8 186.9,384.2 187.0,380.8 185.4,377.6 175.1,380.0 165.6,380.8 157.6,374.4 152.9,367.3 141.9,367.0 139.3,364.4 145.9,356.5Z" fill="#fff" fill-rule="evenodd" stroke="#222" stroke-width="0.6"/>
<path d="M604.2,231.8 608.2,235.8 620.1,237.8 628.0,241.7 636.0,247.7 645.9,255.6 651.8,259.6 655.8,263.6 657.8,269.5 663.7,275.5 659.8,283.4 657.8,287.4 647.9,291.3 645.9,295.3 641.9,287.4 643.9,275.5 639.9,267.5 634.0,261.6 632.0,255.6 622.1,249.7 612.1,251.7 608.2,243.7 604.2,237.8Z" fill="#fff" fill-rule="evenodd" stroke="#222" stroke-width="0.6"/>
<path d="M501.0,264.6 518.9,263.6 538.7,267.5 554.6,271.5 558.6,275.5 554.6,281.4 538.7,283.4 518.9,285.4 509.0,287.4 505.0,281.4 503.0,273.5Z" fill="#fff" fill-rule="evenodd" stroke="#222" stroke-width="0.6"/>
<path d="M566.5,273.5 576.4,275.5 578.4,281.4 574.4,289.4 568.5,291.3 565.5,283.4Z" fill="#fff" fill-rule="evenodd" stroke="#222" stroke-width="0.6"/>
<path d="M501.0,246.7 516.9,244.7 522.9,249.7 518.9,255.6 509.0,257.6 502.0,253.7Z" fill="#fff" fill-rule="evenodd" stroke="#222" stroke-width="0.6"/>
<path d="M580.4,226.9 590.3,229.8 604.2,232.8 598.3,238.8 586.3,239.8 578.4,237.8Z" fill="#fff" fill-rule="evenodd" stroke="#222" stroke-width="0.6"/>
<path d="M502.3,367.9 510.3,367.3 517.5,370.6 520.8,375.2 526.1,380.5 530.1,381.8 531.4,385.8 528.8,389.1 523.5,389.8 519.5,391.7 518.2,397.0 516.9,399.7 506.3,399.0 501.0,399.7 497.0,401.0 494.4,402.3 496.4,397.0 501.0,387.8 502.3,379.8 501.0,373.2Z" fill="#fff" fill-rule="evenodd" stroke="#222" stroke-width="0.6"/>
<path d="M440.8,445.1 451.4,435.8 454.1,439.8 455.4,445.1 448.8,449.0 440.8,451.7Z" fill="#fff" fill-rule="evenodd" stroke="#222" stroke-width="0.6"/>
<path d="M366.8,491.9 378.7,490.6 385.3,497.2 388.0,503.8 378.7,509.1 370.8,514.4 366.8,519.7 365.5,509.1 366.8,499.8Z" fill="#fff" fill-rule="evenodd" stroke="#222" stroke-width="0.6"/>
<clipPath id="wclip0"><path clip-rule="evenodd" d="M309.8,274.4 314.5,269.1 318.4,281.0 320.4,295.5 328.4,303.5 338.9,314.0 336.3,318.0 325.7,310.1 316.5,303.5 311.2,295.5 308.5,284.9Z"/><path clip-rule="evenodd" d="M278.9,270.1 286.9,267.4 298.8,266.1 304.1,275.4 301.4,282.0 293.5,288.6 285.6,296.5 280.3,301.8 277.6,291.2 276.3,278.0Z"/><path clip-rule="evenodd" d="M134.6,170.3 135.6,162.4 144.6,160.4 145.6,153.5 146.5,144.5 155.5,142.5 161.4,138.6 169.4,136.6 173.3,131.6 181.3,127.7 187.2,133.6 193.2,132.6 196.2,124.7 204.1,117.7 207.1,113.8 215.0,107.8 224.9,105.8 240.8,104.8 248.7,104.8 258.7,100.9 267.6,102.9 271.5,104.8 275.5,110.8 276.5,121.7 282.5,123.7 290.4,126.7 298.3,131.6 308.3,133.6 316.2,133.6 323.1,136.6 325.1,142.5 328.1,150.5 336.0,156.4 346.0,159.4 355.9,160.4 362.8,166.3 367.8,168.3 371.7,174.3 371.7,186.2 375.7,188.2 373.7,196.1 378.7,204.0 379.7,214.0 381.7,223.9 383.2,223.4 379.2,226.0 385.8,230.0 392.4,232.6 399.0,231.3 407.0,235.3 414.9,236.6 420.2,235.3 424.2,241.9 425.5,247.2 429.5,249.8 438.7,248.5 446.7,252.5 448.7,263.0 465.2,264.4 480.0,264.4 491.1,260.6 494.1,263.6 491.1,273.5 485.2,278.5 483.2,289.4 479.2,303.3 475.2,309.2 473.3,303.3 475.2,283.4 473.3,281.4 459.4,280.4 451.4,281.4 449.3,280.2 446.7,271.0 436.1,272.3 425.5,268.3 422.9,264.4 416.2,265.0 407.0,263.0 399.0,261.7 393.8,265.7 385.8,272.3 383.2,273.6 380.5,263.0 379.2,251.1 372.6,248.5 364.7,253.8 362.0,264.4 359.4,269.7 358.0,277.6 364.7,290.8 372.6,300.1 383.2,312.0 396.4,322.6 412.3,327.9 420.2,331.8 420.2,335.8 407.0,335.8 396.4,334.5 385.8,333.1 380.5,330.5 372.6,325.2 364.7,317.3 359.4,310.7 354.1,304.0 352.1,290.8 352.8,277.6 354.1,264.4 354.1,248.5 356.1,235.3 351.4,231.3 340.8,227.3 336.9,220.7 332.9,222.0 330.3,215.4 323.7,210.1 313.1,211.5 310.4,199.6 297.2,185.0 292.4,178.3 286.4,172.3 275.5,164.4 271.5,163.4 268.6,150.5 260.6,148.5 254.7,144.5 246.7,143.5 237.8,146.5 231.9,153.5 228.9,161.4 226.9,167.3 217.0,170.3 209.0,172.3 201.1,172.3 193.2,174.3 187.2,172.3 177.3,166.3 169.4,166.3 166.4,168.3 157.5,175.3 149.5,175.3 141.6,173.3 136.6,172.3ZM194.2,156.4 201.1,144.5 209.0,136.6 217.0,128.7 224.9,127.7 225.9,136.6 223.9,148.5 219.0,156.4 209.0,159.4 207.1,163.4 204.1,161.4Z"/><path clip-rule="evenodd" d="M133.7,227.3 148.2,225.3 158.1,226.0 160.1,229.3 167.4,232.0 168.7,237.9 170.7,243.9 162.8,253.8 164.1,264.4 166.7,271.0 170.7,277.6 161.4,288.8 174.7,279.6 186.6,271.0 195.8,263.0 201.1,263.0 203.8,248.5 207.7,240.6 222.3,233.9 235.5,230.0 248.7,225.3 256.0,222.0 262.0,224.0 267.2,229.3 275.2,233.9 284.4,237.2 275.2,245.8 267.2,252.5 256.7,257.8 246.7,261.1 254.0,263.0 256.7,266.3 260.6,271.0 263.3,280.2 265.9,289.5 271.2,296.1 265.9,300.1 255.3,298.8 247.4,293.5 236.8,298.8 235.5,301.4 240.8,310.7 228.9,310.7 217.0,313.3 203.8,316.0 195.8,319.9 194.5,325.2 182.6,323.9 170.7,333.1 169.4,338.4 172.0,343.7 182.6,346.4 194.5,343.7 202.4,342.4 209.0,347.7 222.3,351.7 231.5,353.0 230.2,357.0 222.3,370.2 217.0,378.1 213.0,385.0 185.2,385.0 182.6,380.8 172.0,380.8 161.4,375.5 153.5,368.9 152.2,372.8 145.6,370.2 135.0,366.2 129.7,360.9 125.7,351.7 116.5,349.0 106.5,339.1 107.2,323.9 105.2,312.0 111.2,294.8 109.8,289.5 111.2,284.2 115.1,274.9 119.1,264.4 123.1,253.8 127.0,247.2 128.4,240.6 132.3,235.3ZM118.4,264.4 123.1,251.1 129.7,249.8 140.9,253.8 138.9,267.0 137.6,285.5 135.0,292.1 127.0,297.4 121.7,294.8 115.1,285.5 111.8,282.9 116.5,271.0ZM104.6,312.0 111.2,298.8 116.5,300.1 121.7,309.3 128.4,318.6 133.7,329.2 133.7,343.7 125.7,351.7 116.5,349.0 106.5,339.1 105.9,323.9ZM133.7,366.2 137.6,357.0 133.7,337.1 133.7,329.2 140.3,318.6 146.9,314.6 152.2,304.0 156.1,302.7 173.3,304.0 169.4,314.6 164.1,330.5 153.5,327.9 152.2,343.7 142.9,357.0 138.9,366.9Z"/><path clip-rule="evenodd" d="M424.2,300.1 432.1,301.4 442.7,298.8 446.7,300.1 454.6,304.0 457.2,312.0 462.5,322.6 465.2,330.5 465.2,338.4 455.9,337.1 446.7,330.5 438.7,325.2 432.1,317.3 426.8,309.3Z"/><path clip-rule="evenodd" d="M434.8,339.8 444.0,338.4 455.9,338.4 465.2,341.1 465.2,354.3 455.9,357.0 445.3,359.6 437.4,363.6 434.8,357.0 437.4,347.7Z"/><path clip-rule="evenodd" d="M443.5,340.6 454.1,339.3 464.7,341.9 464.7,356.5 458.0,357.8 443.5,359.1 439.5,364.4 434.2,363.1 438.2,353.8 442.2,345.9Z"/><path clip-rule="evenodd" d="M152.5,341.9 161.7,334.0 169.7,335.3 169.7,343.2 185.6,344.6 204.1,341.9 209.4,347.2 219.9,351.2 230.5,352.5 225.2,365.7 221.3,373.7 209.4,382.9 200.1,390.8 196.8,401.4 193.5,401.4 190.8,390.8 186.9,384.2 187.0,380.8 185.4,377.6 175.1,380.0 165.6,380.8 157.6,374.4 152.9,367.3 141.9,367.0 139.3,364.4 145.9,356.5Z"/><path clip-rule="evenodd" d="M604.2,231.8 608.2,235.8 620.1,237.8 628.0,241.7 636.0,247.7 645.9,255.6 651.8,259.6 655.8,263.6 657.8,269.5 663.7,275.5 659.8,283.4 657.8,287.4 647.9,291.3 645.9,295.3 641.9,287.4 643.9,275.5 639.9,267.5 634.0,261.6 632.0,255.6 622.1,249.7 612.1,251.7 608.2,243.7 604.2,237.8Z"/><path clip-rule="evenodd" d="M501.0,264.6 518.9,263.6 538.7,267.5 554.6,271.5 558.6,275.5 554.6,281.4 538.7,283.4 518.9,285.4 509.0,287.4 505.0,281.4 503.0,273.5Z"/><path clip-rule="evenodd" d="M566.5,273.5 576.4,275.5 578.4,281.4 574.4,289.4 568.5,291.3 565.5,283.4Z"/><path clip-rule="evenodd" d="M501.0,246.7 516.9,244.7 522.9,249.7 518.9,255.6 509.0,257.6 502.0,253.7Z"/><path clip-rule="evenodd" d="M580.4,226.9 590.3,229.8 604.2,232.8 598.3,238.8 586.3,239.8 578.4,237.8Z"/><path clip-rule="evenodd" d="M502.3,367.9 510.3,367.3 517.5,370.6 520.8,375.2 526.1,380.5 530.1,381.8 531.4,385.8 528.8,389.1 523.5,389.8 519.5,391.7 518.2,397.0 516.9,399.7 506.3,399.0 501.0,399.7 497.0,401.0 494.4,402.3 496.4,397.0 501.0,387.8 502.3,379.8 501.0,373.2Z"/><path clip-rule="evenodd" d="M440.8,445.1 451.4,435.8 454.1,439.8 455.4,445.1 448.8,449.0 440.8,451.7Z"/><path clip-rule="evenodd" d="M366.8,491.9 378.7,490.6 385.3,497.2 388.0,503.8 378.7,509.1 370.8,514.4 366.8,519.7 365.5,509.1 366.8,499.8Z"/></clipPath>
<path clip-path="url(#wclip0)" d="M165 142L169 157M165 142L175 135M175 135L183 140M183 140L173 158M173 158L170 157M169 157L170 157M138 160L133 171M132 300L132 298M119 309L132 300M116 290L112 295M414 248L416 238M417 252L432 247M414 248L417 252M132 300L140 307M140 307L128 323M444 262L446 248M444 262L434 262M434 262L433 248M449 267L444 262M449 267L461 264M449 267L446 275M431 265L436 277M431 265L434 262M419 264L431 265M417 252L419 264M522 385L536 387M175 134L175 135M165 142L162 141M152 156L151 147M152 156L169 157M162 141L151 147M149 160L152 156M151 147L146 144M175 134L179 127M183 140L191 141M176 160L189 160M173 158L176 160M189 160L191 141M404 248L414 248M401 264L404 248M419 264L418 264M446 361L448 355M448 355L433 350M460 352L461 354M451 350L448 355M451 350L460 352M451 350L449 342M449 342L434 341M159 369L151 367M151 367L145 370M163 384L159 369M179 379L179 371M179 371L175 367M159 369L164 365M164 365L175 367M151 367L150 354M150 354L148 353M132 351L133 368M132 298L144 289M144 289L142 278M142 278L135 276M526 276L522 283M526 276L523 264M507 274L522 283M507 274L507 273M507 273L511 263M461 264L464 277M464 277L463 280M446 275L452 283M591 231L585 231M595 236L591 231M492 264L489 267M489 267L479 265M479 265L479 265M504 248L508 260M494 274L489 267M464 277L477 275M477 275L479 265M390 264L374 265M371 190L372 198M374 200L372 198M390 264L388 249M401 264L390 264M404 248L399 246M388 249L399 246M399 246L399 230M273 98L268 113M268 113L283 119M236 111L235 100M254 97L254 110M236 111L239 113M239 113L254 110M266 114L268 113M266 114L255 111M255 111L254 110M236 111L223 116M219 103L219 113M219 113L223 116M191 141L193 140M193 140L194 127M219 113L208 115M296 130L293 141M299 143L293 141M299 143L312 137M179 379L190 383M190 383L192 385M192 385L193 392M193 392L193 392M206 377L192 385M206 377L206 374M190 383L194 366M206 374L194 366M179 371L193 365M194 366L193 365M419 340L415 325M402 337L409 324M444 311L431 309M444 311L448 324M448 324L448 325M429 307L431 309M452 336L448 325M449 342L452 336M389 323L388 312M388 324L391 333M388 324L389 323M507 380L513 385M521 383L513 385M507 380L508 367M521 383L522 385M459 319L448 324M452 336L466 335M460 352L470 337M526 276L537 277M581 277L567 279M567 279L568 291M165 290L174 293M165 290L161 276M180 278L174 293M159 173L153 172M153 172L150 175M170 157L159 173M175 172L176 160M149 160L153 172M193 365L194 358M175 367L180 355M180 355L194 358M145 308L149 311M145 308L149 293M159 304L162 292M149 293L162 292M144 289L149 293M132 298L132 298M140 307L145 308M174 323L177 319M173 310L177 319M174 323L163 322M165 353L176 349M165 353L160 350M160 350L158 337M176 349L178 339M161 335L158 337M161 335L175 337M164 365L165 353M180 355L176 349M150 354L160 350M150 336L158 337M195 356L194 358M189 337L195 356M174 323L175 337M190 319L177 319M132 351L132 350M132 350L132 343M165 290L162 292M161 276L161 276M142 278L144 276M144 276L161 276M477 275L481 282M507 274L504 290M448 306L460 311M444 311L448 306M541 274L554 279M541 274L539 264M554 279L556 277M537 277L541 274M332 207L329 219M332 207L345 207M345 207L348 215M348 215L337 223M337 223L329 219M347 232L353 228M355 219L353 228M355 219L348 215M330 203L332 207M330 203L314 203M312 214L314 203M371 190L371 190M371 190L368 170M353 159L359 170M359 170L368 170M353 228L361 234M353 247L358 245M361 234L358 245M513 385L508 396M495 396L508 396M283 263L282 277M361 275L358 263M353 247L356 262M297 162L303 158M297 162L283 151M303 158L299 143M283 151L282 144M293 141L283 143M283 143L282 144M283 143L283 122M239 113L241 128M255 111L252 128M241 128L252 128M241 128L240 129M223 116L224 126M224 126L240 129M180 177L193 166M196 169L193 166M189 160L192 163M193 166L192 163M203 171L196 169M203 171L204 171M315 189L317 173M315 189L334 188M334 188L334 187M334 187L330 176M330 176L325 172M325 172L318 171M317 173L318 171M335 156L325 172M342 157L343 168M343 168L330 176M283 151L277 160M295 168L283 172M297 162L295 168M283 172L277 160M277 160L270 161M311 158L313 159M311 158L315 140M313 159L330 153M315 140L326 141M295 168L301 177M301 177L317 173M303 158L311 158M318 171L313 159M312 137L315 140M335 156L330 153M195 356L207 353M206 374L212 368M212 368L207 353M209 351L207 353M206 377L210 383M193 392L205 395M209 351L224 356M212 368L223 367M224 356L223 367M225 369L223 367M390 264L390 264M585 231L584 233M200 291L191 286M200 291L189 306M191 286L177 295M189 306L179 300M179 300L177 295M174 293L177 295M180 278L183 275M190 277L183 275M190 277L191 286M192 312L192 316M192 316L190 319M173 310L179 300M192 312L189 306M206 261L196 262M206 261L209 280M196 262L193 274M209 280L193 274M210 282L209 280M210 282L221 278M221 278L225 273M222 264L225 273M222 264L208 260M208 260L206 261M190 277L193 274M206 291L210 282M206 291L200 291M192 312L207 305M206 291L208 294M208 294L207 305M132 350L121 352M159 248L164 245M168 234L164 245M161 276L163 268M481 282L477 290M475 291L477 290M298 186L300 185M300 185L315 190M315 190L314 202M314 203L314 202M301 177L300 185M315 189L315 190M330 203L334 188M361 206L372 198M361 206L353 201M371 190L362 189M362 189L353 201M362 216L361 206M355 219L362 216M345 207L349 201M349 201L353 201M356 262L358 263M358 245L369 249M388 249L387 248M371 252L387 248M508 396L508 396M520 402L508 396M285 280L283 290M268 295L266 293M282 277L285 280M262 279L266 293M266 293L252 297M254 147L267 147M253 145L256 131M267 147L274 143M274 143L267 131M256 131L266 130M266 130L267 131M240 129L238 141M238 141L253 145M252 128L256 131M282 144L274 143M283 121L267 131M266 114L266 130M208 115L209 125M222 130L209 125M194 127L207 128M207 128L209 125M238 141L237 142M224 356L226 354M144 276L146 257M134 261L146 257M159 248L148 248M163 268L147 256M148 248L147 256M146 257L147 256M208 260L209 253M209 253L203 245M207 305L209 309M209 309L208 320M504 248L506 244M359 187L342 189M359 187L355 174M348 175L355 174M348 175L340 187M340 187L342 189M362 189L359 187M349 201L342 189M359 170L355 174M343 168L348 175M334 187L340 187M383 233L383 233M383 233L374 231M373 230L374 231M373 230L371 220M372 218L371 220M387 248L383 233M369 249L374 231M361 234L373 230M362 216L371 220M374 200L372 218M167 233L168 234M222 264L223 264M225 273L234 275M223 264L239 258M234 275L240 262M239 258L240 262M252 243L251 236M252 243L265 246M255 230L251 236M255 230L271 231M271 231L267 244M267 244L265 246M249 246L255 261M249 246L252 243M268 259L265 246M253 219L255 230M240 231L251 236M284 246L267 244M221 278L226 290M208 294L221 298M226 290L221 298M245 291L256 279M245 291L240 291M239 289L240 291M239 289L237 278M237 278L249 273M249 273L256 279M262 279L256 279M252 297L245 291M234 275L237 278M226 290L239 289M240 262L249 266M249 266L249 273M255 261L249 266M283 290L286 295M315 276L316 277M316 277L309 291M298 275L294 278M313 265L315 276M298 261L298 275M316 298L309 291M285 280L294 278M317 303L316 298M388 324L371 326M375 308L368 322M361 292L345 289M361 292L358 278M225 144L225 153M225 153L218 160M218 160L212 158M237 142L225 144M207 128L210 141M203 171L212 158M193 140L206 144M218 160L223 172M609 249L613 231M610 250L627 248M628 246L627 248M453 442L451 439M239 252L243 248M239 252L226 248M243 248L233 235M226 248L222 243M222 243L222 240M222 240L227 234M227 234L233 235M249 246L243 248M239 258L239 252M223 264L226 248M240 231L233 235M209 253L222 243M211 234L222 240M221 309L223 303M223 303L236 304M239 310L236 304M209 309L221 309M221 298L223 303M240 291L236 304M317 303L330 308M329 318L330 308M330 308L331 307M361 292L361 292M375 308L374 304M629 260L639 262M656 292L653 278M653 278L643 278M658 271L645 256M653 278L656 275M656 275L658 271M639 262L645 256M130 235L129 245M130 235L135 231M129 245L147 247M135 231L148 233M147 247L149 235M149 235L148 233M129 246L129 245M148 248L147 247M149 223L148 233M167 233L149 235M371 516L363 514M453 442L449 453M388 501L373 500M373 500L373 515M369 497L373 500M374 304L355 309M361 292L355 308" fill="none" stroke="#d2d2d2" stroke-width="0.7"/>
</g>
<path d="M492.4,413.3 493.0,407.6 497.0,405.0 502.0,400.0 507.0,398.5 512.0,397.0 516.0,394.0 519.5,393.0 520.0,404.0 519.0,410.7 507.0,413.3Z" fill="#fff"/><path d="M492.5 413.0L492.1 409.9L492.9 406.7L491.0 404.6M493.7 412.9L495.2 410.5L494.7 407.5L494.1 404.6M494.6 412.9L494.7 409.2L495.1 405.7M495.4 412.9L494.8 409.7L496.5 407.6L496.1 404.7M496.7 412.8L496.4 408.9L496.5 405.3M497.9 412.7L496.8 410.5L499.3 408.1L498.3 405.2M498.9 412.7L498.4 409.9L499.1 406.7L499.4 402.9M500.1 412.6L500.7 408.6L501.2 406.3L501.4 402.4M501.2 412.6L502.2 410.1L500.6 407.0L502.3 404.9L500.0 400.9M502.4 412.5L501.8 410.2L503.6 406.7L502.8 404.6L503.1 402.5L503.6 399.8M503.7 412.4L503.2 408.4L504.0 406.3L502.8 404.2L504.1 401.4M504.6 412.4L504.0 408.7L505.8 404.7L504.5 402.0L505.0 398.9M505.7 412.3L507.0 409.1L505.5 406.1L504.9 402.6L507.1 400.0M506.8 412.3L506.5 410.3L505.3 407.1L507.2 403.9L507.1 401.8L507.3 398.8M507.7 412.2L506.3 408.8L508.3 406.6L507.0 402.7L508.0 399.8M508.7 412.2L508.3 409.6L508.1 406.4L509.5 403.6L508.9 401.6L508.1 398.1M509.6 412.1L508.7 409.7L510.2 406.8L509.1 404.6L510.6 401.9L510.7 399.0M510.5 412.1L511.6 408.8L509.7 405.9L510.6 403.7L511.4 401.3L509.5 397.6L511.4 395.0M511.6 412.0L510.5 409.4L512.5 406.8L511.2 404.2L511.4 401.4L512.9 398.6M512.5 412.0L513.6 408.1L512.3 404.1L513.8 400.2L513.2 397.8L513.0 394.1M513.6 411.9L512.7 409.3L513.8 407.1L514.5 404.6L514.8 402.5L514.8 399.1L514.7 395.3M514.6 411.9L513.7 408.4L515.1 405.8L514.4 402.8L515.0 398.9L513.9 396.2L514.6 392.5M515.8 411.8L515.9 409.4L514.8 405.8L517.1 402.2L516.8 398.6L516.2 396.6L514.5 392.9M516.8 411.8L516.5 408.7L517.6 405.8L515.4 403.8L515.6 401.5L518.2 399.4L515.5 395.7L516.2 392.7M517.7 411.7L518.0 408.4L516.8 405.7L516.6 403.1L518.4 400.0L516.5 397.2L517.3 394.8L518.6 391.6M518.7 411.7L518.5 408.4L518.7 405.7L518.5 402.3L518.6 398.9L518.8 396.4L517.4 393.0M519.7 411.6L521.0 407.9L520.9 405.1L519.0 401.5L518.6 398.6L520.2 395.0L520.6 391.2" fill="none" stroke="#000" stroke-width="1.2"/>
<path d="M134.6,170.3 135.6,162.4 144.6,160.4 145.6,153.5 146.5,144.5 155.5,142.5 161.4,138.6 169.4,136.6 173.3,131.6 181.3,127.7 187.2,133.6 193.2,132.6 196.2,124.7 204.1,117.7 207.1,113.8 215.0,107.8 224.9,105.8 240.8,104.8 248.7,104.8 258.7,100.9 267.6,102.9 271.5,104.8 275.5,110.8 276.5,121.7 282.5,123.7 290.4,126.7 298.3,131.6 308.3,133.6 316.2,133.6 323.1,136.6 325.1,142.5 328.1,150.5 336.0,156.4 346.0,159.4 355.9,160.4 362.8,166.3 367.8,168.3 371.7,174.3 371.7,186.2 375.7,188.2 373.7,196.1 378.7,204.0 379.7,214.0 381.7,223.9 383.2,223.4 379.2,226.0 385.8,230.0 392.4,232.6 399.0,231.3 407.0,235.3 414.9,236.6 420.2,235.3 424.2,241.9 425.5,247.2 429.5,249.8 438.7,248.5 445.3,252.5 452.0,253.1 465.2,252.5 475.8,248.5 477.2,243.7 497.1,241.7 501.0,245.7 507.0,244.7 516.9,243.7 522.9,245.7 526.8,249.7 530.8,243.7 542.7,239.8 552.6,231.8 558.6,231.8 568.5,227.9 578.4,223.9 584.4,225.9 590.3,229.8 604.2,231.8 608.2,235.8 620.1,237.8 628.0,241.7 636.0,247.7 645.9,255.6 651.8,259.6 655.8,263.6 657.8,269.5 663.7,275.5 659.8,283.4 657.8,287.4 647.9,291.3 648.8,299.3 651.8,306.2 643.9,303.3 637.9,301.3 630.0,305.2 622.1,313.2 616.1,319.1 606.2,323.1 604.2,333.0 602.2,341.0 598.3,346.9 594.3,350.9 590.3,358.8 588.3,366.7 586.3,374.7 582.1,376.7 577.3,386.6 575.8,388.2 571.8,385.6 567.8,376.3 555.9,375.0 552.0,377.6 549.3,386.9 554.6,397.5 545.3,394.8 538.7,386.9 536.1,380.3 530.8,380.3 530.8,386.9 525.5,392.2 525.5,408.0 518.9,410.7 507.0,413.3 492.4,413.3 493.8,406.7 492.4,404.1 483.2,412.0 475.2,416.0 472.6,422.6 476.6,427.9 471.3,430.5 469.9,435.8 464.7,439.8 456.7,445.1 448.8,449.0 440.8,451.7 436.9,455.7 430.3,462.3 423.7,470.2 417.0,475.5 410.4,482.1 399.8,488.7 370.8,514.4 365.5,519.7 354.9,522.3 353.6,526.3 354.9,538.2 354.9,548.8 357.6,559.4 356.2,572.6 352.3,585.8 349.6,599.0 350.3,617.6 344.3,618.9 339.0,622.9 333.8,632.1 336.4,634.8 341.7,637.4 336.4,636.1 329.8,637.4 324.5,640.1 320.5,648.0 315.2,653.3 309.9,656.6 304.7,654.6 298.0,648.0 291.4,638.7 287.5,629.5 284.8,618.9 280.8,607.0 275.6,596.4 268.9,585.8 262.3,572.6 258.4,562.0 253.1,548.8 247.8,536.9 242.5,526.3 237.2,513.1 233.2,493.2 230.6,480.0 229.2,475.5 227.9,468.9 226.6,462.3 225.2,455.7 223.9,449.0 222.6,442.4 223.9,433.2 225.2,427.9 222.6,422.6 221.3,416.0 219.9,409.4 218.6,404.1 219.9,402.8 218.6,406.7 217.3,412.0 214.7,418.6 206.7,423.9 198.8,427.9 192.2,429.2 185.6,426.6 176.3,419.9 169.7,412.0 163.1,404.1 157.8,398.8 158.4,397.5 160.8,395.9 164.0,395.1 170.3,393.5 176.7,392.7 181.4,389.5 185.4,384.0 183.0,385.6 178.3,388.7 170.3,390.3 160.8,387.9 154.4,384.0 151.3,379.2 149.7,374.4 148.1,371.3 143.3,369.7 135.4,368.1 131.4,364.9 129.8,358.6 127.5,353.8 121.9,352.2 117.1,349.8 114.8,345.9 110.0,338.3 106.5,339.1 107.2,323.9 105.2,312.0 111.2,294.8 109.8,289.5 111.2,284.2 115.1,274.9 119.1,264.4 123.1,253.8 127.0,247.2 128.4,240.6 132.3,235.3 133.7,227.3 138.9,223.4 142.9,215.4 145.6,207.5 150.8,199.6 158.8,190.3 160.4,180.2 163.4,174.3 157.5,175.3 149.5,175.3 141.6,173.3 136.6,172.3Z" fill="none" stroke="#000" stroke-width="1.3" stroke-linejoin="round"/>
<path d="M117.4 350.4L119.5 351.8L120.9 352.5L120.7 352.1L124.9 353.1L126.7 352.3L127.4 353.1L128.4 355.6L127.8 356.3L129.2 359.7L130.9 359.3L131.4 360.8L131.3 362.4L130.1 365.9L132.0 365.2L135.3 368.0L134.9 369.3L137.1 368.9L137.8 369.9L140.6 370.3L142.7 368.9L142.9 368.8L144.0 369.1L146.0 371.0L146.8 371.8L148.5 372.4L150.5 374.3L149.8 376.0L151.3 376.4L152.5 378.0L153.0 381.7L152.1 383.1L154.4 384.0" fill="none" stroke="#000" stroke-width="1.8"/>
<path d="M158.4 399.8L159.2 396.8L159.5 396.3L162.3 396.2L163.7 395.8L165.0 395.5L167.7 394.1L168.8 394.4L169.5 393.6L172.7 392.7L174.3 393.6L176.0 392.5L175.6 393.5L179.1 391.5L178.8 389.8L181.4 389.5" fill="none" stroke="#000" stroke-width="1.8"/>
<clipPath id="clip1"><path d="M938.6,170.3 939.6,162.4 948.6,160.4 949.6,153.5 950.5,144.5 959.5,142.5 965.4,138.6 973.4,136.6 977.3,131.6 985.3,127.7 991.2,133.6 997.2,132.6 1000.2,124.7 1008.1,117.7 1011.1,113.8 1019.0,107.8 1028.9,105.8 1044.8,104.8 1052.7,104.8 1062.7,100.9 1071.6,102.9 1075.5,104.8 1079.5,110.8 1080.5,121.7 1086.5,123.7 1094.4,126.7 1102.3,131.6 1112.3,133.6 1120.2,133.6 1127.1,136.6 1129.1,142.5 1132.1,150.5 1140.0,156.4 1150.0,159.4 1159.9,160.4 1166.8,166.3 1171.8,168.3 1175.7,174.3 1175.7,186.2 1179.7,188.2 1177.7,196.1 1182.7,204.0 1183.7,214.0 1185.7,223.9 1187.2,223.4 1183.2,226.0 1189.8,230.0 1196.4,232.6 1203.0,231.3 1211.0,235.3 1218.9,236.6 1224.2,235.3 1228.2,241.9 1229.5,247.2 1233.5,249.8 1242.7,248.5 1249.3,252.5 1256.0,253.1 1269.2,252.5 1279.8,248.5 1281.2,243.7 1301.1,241.7 1305.0,245.7 1311.0,244.7 1320.9,243.7 1326.9,245.7 1330.8,249.7 1334.8,243.7 1346.7,239.8 1356.6,231.8 1362.6,231.8 1372.5,227.9 1382.4,223.9 1388.4,225.9 1394.3,229.8 1408.2,231.8 1412.2,235.8 1424.1,237.8 1432.0,241.7 1440.0,247.7 1449.9,255.6 1455.8,259.6 1459.8,263.6 1461.8,269.5 1467.7,275.5 1463.8,283.4 1461.8,287.4 1451.9,291.3 1452.8,299.3 1455.8,306.2 1447.9,303.3 1441.9,301.3 1434.0,305.2 1426.1,313.2 1420.1,319.1 1410.2,323.1 1408.2,333.0 1406.2,341.0 1402.3,346.9 1398.3,350.9 1394.3,358.8 1392.3,366.7 1390.3,374.7 1386.1,376.7 1381.3,386.6 1379.8,388.2 1375.8,385.6 1371.8,376.3 1359.9,375.0 1356.0,377.6 1353.3,386.9 1358.6,397.5 1349.3,394.8 1342.7,386.9 1340.1,380.3 1334.8,380.3 1334.8,386.9 1329.5,392.2 1329.5,408.0 1322.9,410.7 1311.0,413.3 1296.4,413.3 1297.8,406.7 1296.4,404.1 1287.2,412.0 1279.2,416.0 1276.6,422.6 1280.6,427.9 1275.3,430.5 1273.9,435.8 1268.7,439.8 1260.7,445.1 1252.8,449.0 1244.8,451.7 1240.9,455.7 1234.3,462.3 1227.7,470.2 1221.0,475.5 1214.4,482.1 1203.8,488.7 1174.8,514.4 1169.5,519.7 1158.9,522.3 1157.6,526.3 1158.9,538.2 1158.9,548.8 1161.6,559.4 1160.2,572.6 1156.3,585.8 1153.6,599.0 1154.3,617.6 1148.3,618.9 1143.0,622.9 1137.8,632.1 1140.4,634.8 1145.7,637.4 1140.4,636.1 1133.8,637.4 1128.5,640.1 1124.5,648.0 1119.2,653.3 1113.9,656.6 1108.7,654.6 1102.0,648.0 1095.4,638.7 1091.5,629.5 1088.8,618.9 1084.8,607.0 1079.6,596.4 1072.9,585.8 1066.3,572.6 1062.4,562.0 1057.1,548.8 1051.8,536.9 1046.5,526.3 1041.2,513.1 1037.2,493.2 1034.6,480.0 1033.2,475.5 1031.9,468.9 1030.6,462.3 1029.2,455.7 1027.9,449.0 1026.6,442.4 1027.9,433.2 1029.2,427.9 1026.6,422.6 1025.3,416.0 1023.9,409.4 1022.6,404.1 1023.9,402.8 1022.6,406.7 1021.3,412.0 1018.7,418.6 1010.7,423.9 1002.8,427.9 996.2,429.2 989.6,426.6 980.3,419.9 973.7,412.0 967.1,404.1 961.8,398.8 962.4,397.5 964.8,395.9 968.0,395.1 974.3,393.5 980.7,392.7 985.4,389.5 989.4,384.0 987.0,385.6 982.3,388.7 974.3,390.3 964.8,387.9 958.4,384.0 955.3,379.2 953.7,374.4 952.1,371.3 947.3,369.7 939.4,368.1 935.4,364.9 933.8,358.6 931.5,353.8 925.9,352.2 921.1,349.8 918.8,345.9 914.0,338.3 910.5,339.1 911.2,323.9 909.2,312.0 915.2,294.8 913.8,289.5 915.2,284.2 919.1,274.9 923.1,264.4 927.1,253.8 931.0,247.2 932.4,240.6 936.3,235.3 937.7,227.3 942.9,223.4 946.9,215.4 949.6,207.5 954.8,199.6 962.8,190.3 964.4,180.2 967.4,174.3 961.5,175.3 953.5,175.3 945.6,173.3 940.6,172.3Z"/></clipPath>
<g clip-path="url(#clip1)">
<path d="M1084 252L1086 250L1087 236L1082 231L1065 233L1062 252L1063 253ZM1103 260L1086 250L1087 236L1104 236L1108 239L1106 257ZM1070 271L1067 273L1047 276L1046 275L1045 256L1062 252L1063 253ZM1081 273L1084 252L1063 253L1070 271ZM1144 249L1139 270L1128 268L1125 256L1127 252ZM1164 257L1164 256L1147 247L1144 249L1139 270L1145 276L1160 275ZM1027 288L1031 279L1046 275L1047 276L1051 290L1042 297ZM1047 276L1067 273L1064 296L1051 290ZM1081 273L1087 278L1086 293L1083 296L1066 298L1064 296L1067 273L1070 271ZM1128 268L1139 270L1145 276L1136 291L1124 291L1120 274ZM1161 276L1160 296L1140 295L1136 291L1145 276L1160 275ZM1140 295L1136 291L1124 291L1121 294L1124 316L1126 318L1141 313ZM1164 306L1160 296L1140 295L1141 313L1148 316L1161 310L1165 306ZM1108 335L1101 328L1106 314L1124 316L1126 318L1125 330L1124 331ZM1148 316L1141 313L1126 318L1125 330L1140 337L1150 329ZM1123 355L1108 357L1104 353L1108 335L1124 331L1125 354ZM1158 350L1161 336L1167 332L1184 332L1185 334L1186 347L1164 355ZM1210 347L1196 355L1192 353L1186 347L1185 334L1210 334ZM1210 347L1210 334L1212 331L1221 328L1231 338L1221 353ZM1221 353L1222 355L1242 360L1247 356L1244 339L1231 338ZM1262 359L1264 333L1263 331L1246 335L1244 339L1247 356ZM1262 359L1264 333L1281 343L1279 353L1276 357L1265 361ZM1102 409L1080 418L1083 433L1104 432L1107 420ZM1131 436L1123 419L1107 420L1104 432L1108 438L1130 436ZM1081 514L1098 512L1102 497L1089 490L1079 499ZM1144 495L1147 499L1146 509L1141 513L1125 517L1124 516L1120 498ZM1142 593L1141 610L1136 616L1125 615L1120 597L1124 592Z" fill="#ffffcc" stroke="#1a1a1a" stroke-width="0.7" stroke-linejoin="round"/>
<path d="M1046 115L1030 82L1060 -648L1080 -53L1073 75L1062 108ZM1068 118L1062 108L1073 75L1087 113L1079 120ZM1068 118L1062 108L1046 115L1044 119L1050 135L1059 138L1061 137ZM1068 118L1061 137L1081 132L1079 120ZM1079 120L1087 113L1097 116L1101 131L1100 132L1084 135L1081 132ZM1124 114L1108 106L1097 116L1101 131L1117 129ZM1136 116L1142 135L1141 137L1127 143L1117 129L1124 114L1127 113ZM1044 163L1037 152L1040 142L1050 135L1059 138L1065 154L1064 155ZM1061 137L1059 138L1065 154L1081 152L1084 135L1081 132ZM1100 155L1090 157L1081 152L1084 135L1100 132L1103 153ZM1121 155L1127 143L1117 129L1101 131L1100 132L1103 153ZM1147 160L1124 161L1121 155L1127 143L1141 137L1149 156ZM1064 178L1044 173L1042 168L1044 163L1064 155L1069 175ZM1069 175L1064 155L1065 154L1081 152L1090 157L1086 174L1077 179ZM1064 178L1044 173L1042 192L1057 192ZM1029 213L1025 217L1006 213L1008 200L1019 197ZM1041 193L1042 209L1042 210L1029 213L1019 197L1027 190ZM1080 194L1083 197L1085 210L1062 211L1062 197ZM1044 230L1041 233L1026 228L1025 217L1029 213L1042 210ZM1061 230L1061 212L1042 209L1042 210L1044 230ZM1041 233L1026 228L1017 234L1021 251L1026 254L1038 252ZM1065 233L1061 230L1044 230L1041 233L1038 252L1045 256L1062 252ZM1046 275L1045 256L1038 252L1026 254L1023 270L1031 279ZM1005 315L1016 313L1021 308L1021 293L1004 285L1003 286L1001 289L1002 313ZM1005 315L1016 313L1030 336L1029 337L1005 341L1001 333ZM1065 332L1073 336L1080 337L1085 330L1084 318L1061 313ZM1085 330L1084 318L1087 310L1104 312L1106 314L1101 328ZM1268 318L1263 331L1264 333L1281 343L1291 335L1280 320ZM1302 318L1299 332L1324 335L1325 332L1323 313ZM1350 315L1346 329L1325 332L1323 313L1324 311ZM1045 338L1050 352L1059 355L1073 336L1065 332ZM1326 350L1324 335L1299 332L1296 334L1304 354L1323 355ZM1323 355L1304 354L1302 357L1298 369L1303 374L1322 375L1323 372ZM1307 397L1322 388L1322 375L1303 374L1301 391ZM1344 373L1344 393L1331 395L1322 388L1322 375L1323 372L1344 373ZM1141 410L1124 416L1119 398L1131 394L1140 398ZM1160 396L1149 393L1140 398L1141 410L1143 413L1162 412ZM1131 436L1123 419L1124 416L1141 410L1143 413L1144 435L1144 435ZM1162 412L1164 413L1157 437L1144 435L1143 413ZM1269 430L1265 438L1243 431L1249 418L1252 415L1260 413ZM1144 435L1144 435L1157 437L1160 438L1163 452L1157 460L1147 461L1141 458ZM1243 431L1265 438L1266 448L1246 454L1239 435ZM1066 494L1062 513L1046 514L1043 510L1043 495L1063 488ZM1066 494L1079 499L1081 514L1078 517L1070 517L1062 513Z" fill="#a1dab4" stroke="#1a1a1a" stroke-width="0.7" stroke-linejoin="round"/>
<path d="M983 213L1004 214L1006 213L1008 200L1006 198L984 197L980 202ZM999 234L1005 230L1004 214L983 213L980 218L979 230ZM1017 234L1005 230L1004 214L1006 213L1025 217L1026 228ZM1245 233L1243 216L1223 220L1225 238L1229 241L1240 238ZM997 255L1001 256L1021 251L1017 234L1005 230L999 234ZM1240 238L1229 241L1228 252L1246 258L1246 258ZM1357 255L1357 255L1362 232L1364 229L1381 239L1377 254ZM1403 257L1401 237L1399 236L1390 236L1381 239L1377 254L1379 258ZM1404 259L1425 251L1426 238L1421 234L1401 237L1403 257ZM1245 276L1246 275L1246 258L1228 252L1223 257L1226 273L1229 275ZM1272 262L1265 275L1246 275L1246 258L1246 258L1261 249ZM1104 271L1108 295L1106 296L1086 293L1087 278L1103 270ZM1182 289L1178 280L1188 270L1202 275L1203 293L1191 294ZM1229 275L1226 273L1204 273L1202 275L1203 293L1204 294L1221 290ZM1242 298L1225 296L1221 290L1229 275L1245 276L1246 293ZM1191 294L1203 293L1204 294L1207 307L1200 316L1186 320L1182 314ZM1225 296L1224 314L1207 307L1204 294L1221 290ZM1242 298L1241 313L1240 314L1226 315L1224 314L1225 296ZM1288 291L1286 298L1291 307L1297 310L1313 294L1312 293ZM1005 315L1001 333L983 332L982 318L990 311L1002 313ZM1021 308L1016 313L1030 336L1039 334L1044 315L1040 311ZM1044 315L1060 313L1061 313L1065 332L1045 338L1039 334ZM1212 331L1200 316L1186 320L1184 332L1185 334L1210 334ZM1224 314L1207 307L1200 316L1212 331L1221 328L1226 315ZM1240 314L1246 335L1244 339L1231 338L1221 328L1226 315ZM1240 314L1246 335L1263 331L1268 318L1265 313L1241 313ZM1291 307L1280 320L1291 335L1296 334L1299 332L1302 318L1297 310ZM1383 329L1387 326L1387 318L1386 314L1363 317L1369 331ZM966 354L977 347L981 334L963 327L957 341L965 353ZM983 332L981 334L977 347L989 354L1003 353L1005 341L1001 333ZM1029 337L1030 336L1039 334L1045 338L1050 352L1043 360L1028 354ZM1144 351L1140 337L1125 330L1124 331L1125 354ZM1279 353L1281 343L1291 335L1296 334L1304 354L1302 357ZM1340 352L1351 337L1346 329L1325 332L1324 335L1326 350ZM1364 358L1369 353L1364 341L1351 337L1340 352L1343 355ZM1383 329L1382 354L1369 353L1364 341L1369 331ZM966 354L972 369L980 371L989 354L977 347ZM1003 353L989 354L980 371L987 378L1004 372L1007 361ZM1084 347L1066 364L1067 368L1078 374L1087 370L1093 354ZM1130 375L1123 355L1108 357L1108 379L1129 376ZM1130 375L1123 355L1125 354L1144 351L1144 351L1143 372ZM1279 353L1302 357L1298 369L1290 371L1276 357ZM1343 355L1340 352L1326 350L1323 355L1323 372L1344 373ZM1362 372L1344 373L1344 373L1343 355L1364 358ZM1079 389L1078 374L1067 368L1056 378L1068 392ZM1119 398L1104 396L1103 394L1105 382L1108 379L1129 376L1131 394ZM1284 389L1283 383L1290 371L1298 369L1303 374L1301 391ZM1042 418L1023 418L1020 415L1020 399L1043 399L1043 417ZM1058 437L1045 435L1042 418L1043 417L1062 417L1059 437ZM1243 431L1249 418L1225 412L1225 431L1229 433L1239 435ZM1105 472L1083 475L1080 457L1083 453L1106 454ZM1179 457L1182 475L1183 476L1196 475L1205 454L1187 450ZM1066 494L1079 499L1089 490L1082 475L1066 482L1063 488ZM1108 493L1102 497L1089 490L1082 475L1083 475L1105 472L1108 475ZM1118 496L1108 493L1102 497L1098 512L1104 520L1124 516L1120 498ZM1128 538L1146 539L1148 558L1145 563L1124 556L1123 552ZM1146 572L1145 563L1124 556L1118 576L1118 576ZM1119 619L1126 638L1122 640L1103 637L1102 635L1106 620Z" fill="#41b6c4" stroke="#1a1a1a" stroke-width="0.7" stroke-linejoin="round"/>
<path d="M1104 180L1104 181L1086 174L1090 157L1100 155ZM1124 171L1124 161L1121 155L1103 153L1100 155L1104 180ZM1124 172L1124 171L1124 161L1147 160L1150 176L1144 181ZM1160 177L1168 154L1165 153L1149 156L1147 160L1150 176L1160 177ZM1160 177L1168 154L1179 154L1181 155L1181 175L1179 178ZM1064 178L1057 192L1062 197L1080 194L1077 179L1069 175ZM1077 179L1086 174L1104 181L1103 187L1083 197L1080 194ZM1125 193L1120 196L1108 194L1103 187L1104 181L1104 180L1124 171L1124 172ZM1125 193L1142 197L1144 181L1124 172ZM1142 197L1142 198L1164 196L1160 177L1150 176L1144 181ZM1182 199L1179 178L1160 177L1160 177L1164 196L1167 199ZM1062 197L1062 211L1061 212L1042 209L1041 193L1042 192L1057 192ZM1082 231L1087 212L1085 210L1062 211L1061 212L1061 230L1065 233ZM1087 236L1104 236L1103 212L1087 212L1082 231ZM1123 217L1103 212L1103 212L1104 236L1108 239L1120 236L1126 228L1124 218ZM992 257L980 250L977 232L979 230L999 234L997 255ZM1127 252L1125 256L1106 257L1108 239L1120 236ZM1351 255L1339 236L1362 232L1357 255ZM992 257L983 274L979 276L964 273L963 272L963 258L980 250ZM992 257L983 274L1003 286L1004 285L1009 274L1001 256L997 255ZM1023 270L1026 254L1021 251L1001 256L1009 274ZM1081 273L1087 278L1103 270L1103 260L1086 250L1084 252ZM1128 268L1120 274L1104 271L1103 270L1103 260L1106 257L1125 256ZM1360 276L1361 273L1357 255L1357 255L1351 255L1347 257L1339 273L1348 282ZM1380 272L1361 273L1357 255L1377 254L1379 258ZM1380 272L1379 258L1403 257L1404 259L1405 265L1385 279ZM1404 259L1425 251L1431 257L1426 274L1426 274L1409 269L1405 265ZM968 303L959 290L964 273L979 276L980 299ZM981 299L1001 289L1003 286L983 274L979 276L980 299ZM1027 288L1031 279L1023 270L1009 274L1004 285L1021 293ZM1104 271L1108 295L1121 294L1124 291L1120 274ZM1370 295L1346 291L1348 282L1360 276L1371 295ZM1380 272L1361 273L1360 276L1371 295L1385 294L1385 294L1385 279ZM1426 274L1421 291L1406 296L1404 295L1409 269ZM964 313L968 303L959 290L941 295L939 297L946 315L960 317ZM990 311L981 299L980 299L968 303L964 313L982 318ZM1002 313L1001 289L981 299L990 311ZM1106 296L1104 312L1087 310L1083 296L1086 293ZM1108 295L1121 294L1124 316L1106 314L1104 312L1106 296ZM1421 291L1406 296L1411 311L1426 312L1423 293ZM1439 314L1443 297L1423 293L1426 312L1430 314ZM1442 318L1460 320L1467 310L1467 297L1447 292L1443 297L1439 314ZM963 327L960 317L946 315L940 321L939 335L942 341L957 341ZM983 332L981 334L963 327L960 317L964 313L982 318ZM1161 310L1167 332L1161 336L1150 329L1148 316ZM1182 314L1186 320L1184 332L1167 332L1161 310L1165 306ZM1421 332L1410 332L1409 315L1411 311L1426 312L1430 314ZM942 341L939 335L919 337L918 338L927 356L937 357ZM965 353L943 366L937 357L942 341L957 341ZM1003 353L1005 341L1029 337L1028 354L1022 360L1007 361ZM1144 351L1158 350L1161 336L1150 329L1140 337L1144 351ZM1431 340L1421 332L1410 332L1404 338L1403 348L1425 352ZM943 366L944 369L921 381L915 376L922 360L927 356L937 357ZM966 354L972 369L961 380L949 377L944 369L943 366L965 353ZM1007 376L1004 372L1007 361L1022 360L1032 375ZM1166 370L1164 355L1158 350L1144 351L1143 372L1150 376ZM1170 373L1166 370L1164 355L1186 347L1192 353L1176 375ZM1185 383L1202 368L1196 355L1192 353L1176 375ZM1210 347L1196 355L1202 368L1212 373L1216 373L1222 355L1221 353ZM1239 373L1242 360L1222 355L1216 373L1221 376ZM1149 393L1150 376L1143 372L1130 375L1129 376L1131 394L1140 398ZM1160 396L1162 395L1170 373L1166 370L1150 376L1149 393ZM1225 400L1226 399L1221 376L1216 373L1212 373L1203 393ZM1241 391L1239 373L1261 379L1258 390ZM1160 396L1162 395L1185 397L1180 413L1179 413L1164 413L1162 412ZM1197 395L1203 393L1225 400L1224 408L1204 415ZM1260 413L1252 415L1236 397L1241 391L1258 390L1266 402L1265 407ZM1305 411L1307 397L1301 391L1284 389L1280 397L1292 411ZM1305 411L1306 412L1328 412L1331 395L1322 388L1307 397ZM1179 413L1179 432L1160 438L1157 437L1164 413ZM1201 421L1204 415L1224 408L1225 412L1225 431L1211 434L1203 428ZM1284 420L1292 411L1305 411L1306 412L1308 430L1288 434L1283 428ZM1308 430L1313 435L1323 436L1323 436L1333 419L1328 412L1306 412ZM1058 472L1063 456L1080 457L1083 475L1082 475L1066 482ZM1157 460L1163 452L1179 457L1182 475L1168 480L1162 476ZM1143 482L1142 482L1144 495L1147 499L1165 495L1168 480L1162 476ZM1165 495L1170 500L1168 516L1164 518L1146 509L1147 499ZM1202 501L1199 514L1187 518L1181 498L1185 494ZM1078 517L1083 533L1065 542L1062 538L1070 517ZM1078 517L1083 533L1090 537L1100 535L1101 534L1104 520L1098 512L1081 514ZM1065 542L1067 550L1081 559L1084 557L1090 537L1083 533ZM1100 535L1090 537L1084 557L1101 559L1106 551ZM1084 557L1081 559L1080 569L1081 571L1102 578L1106 575L1101 559ZM1102 578L1097 592L1084 593L1081 571ZM1118 576L1118 576L1106 575L1102 578L1097 592L1104 600L1120 597L1124 592ZM1102 635L1086 635L1079 653L1081 655L1102 653L1103 637Z" fill="#2c7fb8" stroke="#1a1a1a" stroke-width="0.7" stroke-linejoin="round"/>
<path d="M974 -8L1001 113L1001 114L1017 114L1030 82L1060 -648L1053 -2154L979 -2077L973 -32ZM1044 119L1023 122L1017 114L1030 82L1046 115ZM981 141L966 129L969 120L979 116L983 117L987 132ZM1000 134L1001 134L1001 114L1001 113L983 117L987 132ZM1022 131L1023 122L1017 114L1001 114L1001 134L1019 135ZM1044 119L1023 122L1022 131L1040 142L1050 135ZM944 156L959 150L960 135L946 129L937 138L943 156ZM959 150L960 135L966 129L981 141L982 154L974 156ZM999 150L1000 134L987 132L981 141L982 154L985 155ZM1017 150L1019 135L1001 134L1000 134L999 150L1003 152ZM1020 153L1037 152L1040 142L1022 131L1019 135L1017 150ZM923 178L939 180L946 170L944 156L943 156L921 158L918 172ZM966 178L946 170L944 156L959 150L974 156L966 178ZM966 178L974 156L982 154L985 155L993 176L984 182ZM1003 152L999 150L985 155L993 176L1001 178L1007 174ZM1020 153L1020 172L1007 174L1003 152L1017 150ZM1042 168L1044 163L1037 152L1020 153L1020 172L1021 173ZM966 178L946 170L939 180L941 189L951 199L961 196ZM980 202L984 197L984 182L966 178L966 178L961 196L964 199ZM984 182L993 176L1001 178L1006 198L984 197ZM1027 190L1019 197L1008 200L1006 198L1001 178L1007 174L1020 172L1021 173ZM1042 192L1044 173L1042 168L1021 173L1027 190L1041 193ZM965 215L959 221L946 208L951 199L961 196L964 199ZM980 218L965 215L964 199L980 202L983 213ZM1103 212L1103 212L1087 212L1085 210L1083 197L1103 187L1108 194ZM1123 217L1103 212L1108 194L1120 196ZM1125 193L1120 196L1123 217L1124 218L1142 206L1142 198L1142 197ZM1167 199L1164 196L1142 198L1142 206L1150 216L1159 214ZM1182 199L1167 199L1159 214L1168 221L1181 217L1183 214L1183 199ZM1183 199L1195 196L1212 217L1206 222L1183 214ZM943 235L941 211L924 210L923 212L922 230L941 236ZM943 235L941 211L946 208L959 221L958 231ZM977 232L962 234L958 231L959 221L965 215L980 218L979 230ZM1124 218L1126 228L1146 234L1146 234L1150 216L1142 206ZM1168 221L1164 232L1146 234L1150 216L1159 214ZM1181 217L1185 236L1185 236L1170 239L1164 232L1168 221ZM1181 217L1185 236L1202 239L1206 222L1183 214ZM1203 242L1225 238L1223 220L1215 216L1212 217L1206 222L1202 239ZM1390 236L1381 239L1364 229L1363 217L1378 216L1382 218ZM1402 213L1382 218L1390 236L1399 236L1403 214ZM1403 214L1420 219L1421 234L1401 237L1399 236ZM941 236L922 230L920 231L919 250L927 255L940 248ZM962 257L943 251L940 248L941 236L943 235L958 231L962 234ZM980 250L963 258L962 257L962 234L977 232ZM1147 247L1146 234L1126 228L1120 236L1127 252L1144 249ZM1170 239L1164 256L1147 247L1146 234L1146 234L1164 232ZM1170 239L1164 256L1164 257L1180 257L1185 236ZM1185 236L1180 257L1185 260L1204 249L1203 242L1202 239L1185 236ZM1203 242L1225 238L1229 241L1228 252L1223 257L1207 253L1204 249ZM1263 240L1245 233L1240 238L1246 258L1261 249ZM1286 237L1286 252L1278 260L1272 262L1261 249L1263 240L1267 236L1283 236ZM1286 237L1294 234L1307 241L1306 262L1304 264L1286 252ZM1306 262L1322 260L1326 253L1324 236L1323 236L1307 241ZM1347 257L1326 253L1324 236L1335 234L1339 236L1351 255ZM1425 251L1426 238L1438 234L1443 239L1450 254L1450 254L1431 257ZM925 270L927 255L919 250L879 261L920 275ZM925 270L927 255L940 248L943 251L943 273L942 273ZM963 258L963 272L943 273L943 251L962 257ZM1180 257L1164 257L1160 275L1161 276L1178 280L1188 270L1185 260ZM1185 260L1188 270L1202 275L1204 273L1207 253L1204 249ZM1223 257L1207 253L1204 273L1226 273ZM1278 260L1291 276L1287 283L1268 278L1265 275L1272 262ZM1286 252L1304 264L1302 270L1291 276L1278 260ZM1304 264L1302 270L1305 273L1328 277L1330 274L1322 260L1306 262ZM1330 274L1322 260L1326 253L1347 257L1339 273ZM1431 257L1450 254L1447 276L1445 280L1426 274ZM1467 257L1464 274L1447 276L1450 254L1450 254L1462 252ZM1467 257L1464 274L1468 279L1485 271L1481 261ZM921 291L537 343L502 345L-280 359L-1471 364L-1312 218L-90 221L657 240L879 261L920 275ZM941 295L942 273L925 270L920 275L921 291L925 296L939 297ZM941 295L959 290L964 273L963 272L943 273L942 273ZM1182 289L1178 280L1161 276L1160 296L1164 306ZM1246 293L1266 301L1268 278L1265 275L1246 275L1245 276ZM1287 283L1268 278L1266 301L1267 302L1286 298L1288 291ZM1291 276L1287 283L1288 291L1312 293L1305 273L1302 270ZM1328 277L1305 273L1312 293L1313 294L1323 297L1323 296ZM1348 282L1339 273L1330 274L1328 277L1323 296L1344 294L1346 291ZM1385 279L1385 294L1404 295L1409 269L1405 265ZM1426 274L1421 291L1423 293L1443 297L1447 292L1445 280L1426 274ZM1467 297L1468 297L1468 279L1464 274L1447 276L1445 280L1447 292ZM925 296L917 312L759 336L537 343L921 291ZM939 297L946 315L940 321L922 319L917 312L925 296ZM1027 288L1042 297L1040 311L1021 308L1021 293ZM1042 297L1051 290L1064 296L1066 298L1060 313L1044 315L1040 311ZM1060 313L1066 298L1083 296L1087 310L1084 318L1061 313ZM1182 289L1164 306L1165 306L1182 314L1191 294ZM1242 298L1241 313L1265 313L1267 302L1266 301L1246 293ZM1291 307L1280 320L1268 318L1265 313L1267 302L1286 298ZM1297 310L1302 318L1323 313L1324 311L1323 297L1313 294ZM1323 296L1323 297L1324 311L1350 315L1352 314L1344 294ZM1370 295L1358 313L1352 314L1344 294L1346 291ZM1370 295L1358 313L1363 317L1386 314L1385 294L1371 295ZM1411 311L1409 315L1387 318L1386 314L1385 294L1385 294L1404 295L1406 296ZM919 337L918 338L878 342L759 336L917 312L922 319ZM919 337L939 335L940 321L922 319ZM1369 331L1363 317L1358 313L1352 314L1350 315L1346 329L1351 337L1364 341ZM1410 332L1404 338L1387 326L1387 318L1409 315ZM927 356L922 360L878 342L918 338ZM1080 337L1073 336L1059 355L1066 364L1084 347ZM1104 353L1093 354L1084 347L1080 337L1085 330L1101 328L1108 335ZM1400 352L1403 348L1404 338L1387 326L1383 329L1382 354L1388 356ZM1033 375L1041 375L1043 360L1028 354L1022 360L1032 375ZM1041 375L1043 360L1050 352L1059 355L1066 364L1067 368L1056 378L1047 380ZM1108 379L1105 382L1087 370L1093 354L1104 353L1108 357ZM1239 373L1242 360L1247 356L1262 359L1265 361L1265 374L1261 379L1239 373ZM1265 361L1276 357L1290 371L1283 383L1265 374ZM1388 356L1382 354L1369 353L1364 358L1362 372L1366 378L1379 376L1386 369ZM1400 352L1410 372L1401 382L1386 369L1388 356ZM961 380L965 391L961 400L946 404L940 394L949 377ZM980 371L972 369L961 380L965 391L984 392L987 378ZM1013 395L1011 395L985 393L984 392L987 378L1004 372L1007 376ZM1018 397L1033 375L1032 375L1007 376L1013 395ZM1018 397L1020 399L1043 399L1046 397L1047 380L1041 375L1033 375ZM1046 397L1062 402L1068 392L1056 378L1047 380ZM1103 394L1084 393L1079 389L1078 374L1087 370L1105 382ZM1185 397L1162 395L1170 373L1176 375L1185 383L1188 394ZM1188 394L1197 395L1203 393L1212 373L1202 368L1185 383ZM1236 397L1226 399L1221 376L1239 373L1239 373L1241 391ZM1280 397L1266 402L1258 390L1261 379L1265 374L1283 383L1284 389ZM1362 372L1366 378L1364 388L1346 394L1344 393L1344 373ZM1379 376L1366 378L1364 388L1368 393L1389 394ZM1386 369L1379 376L1389 394L1391 395L1398 394L1401 382ZM965 391L961 400L971 414L984 412L985 411L985 393L984 392ZM1011 395L985 393L985 411L997 412ZM1018 397L1020 399L1020 415L1005 420L997 412L1011 395L1013 395ZM1043 417L1043 399L1046 397L1062 402L1066 413L1062 417ZM1076 415L1084 393L1079 389L1068 392L1062 402L1066 413ZM1104 396L1103 394L1084 393L1076 415L1080 418L1102 409ZM1124 416L1119 398L1104 396L1102 409L1107 420L1123 419ZM1185 397L1180 413L1201 421L1204 415L1197 395L1188 394ZM1225 412L1224 408L1225 400L1226 399L1236 397L1252 415L1249 418ZM1284 420L1292 411L1280 397L1266 402L1265 407ZM969 416L971 414L984 412L986 429L980 435L963 433ZM1002 436L986 429L984 412L985 411L997 412L1005 420ZM1022 440L1003 437L1002 436L1005 420L1020 415L1023 418ZM1045 435L1042 438L1023 440L1022 440L1023 418L1042 418ZM1059 437L1082 435L1083 433L1080 418L1076 415L1066 413L1062 417ZM1179 413L1180 413L1201 421L1203 428L1186 437L1179 432ZM1284 420L1265 407L1260 413L1269 430L1283 428ZM1044 457L1043 459L1024 461L1023 459L1023 440L1042 438ZM1058 437L1060 453L1044 457L1042 438L1045 435ZM1058 437L1060 453L1063 456L1080 457L1083 453L1082 435L1059 437ZM1108 438L1106 453L1106 454L1083 453L1082 435L1083 433L1104 432ZM1130 436L1108 438L1106 453L1125 456ZM1131 436L1144 435L1141 458L1129 461L1125 456L1130 436ZM1179 432L1186 437L1187 450L1179 457L1163 452L1160 438ZM1203 428L1211 434L1207 454L1205 454L1187 450L1186 437ZM1225 431L1211 434L1207 454L1217 459L1225 456L1229 433ZM1239 435L1229 433L1225 456L1243 461L1246 454ZM1283 428L1288 434L1286 453L1282 455L1271 452L1266 448L1265 438L1269 430ZM1049 471L1043 459L1024 461L1024 467L1029 474L1046 474ZM1044 457L1043 459L1049 471L1058 472L1063 456L1060 453ZM1129 461L1127 472L1108 475L1105 472L1106 454L1106 453L1125 456ZM1129 461L1127 472L1131 477L1142 482L1143 482L1147 461L1141 458ZM1147 461L1143 482L1162 476L1157 460ZM1196 475L1205 482L1219 476L1217 459L1207 454L1205 454ZM1219 476L1224 478L1241 474L1245 469L1243 461L1225 456L1217 459ZM1031 488L1029 474L1046 474L1042 493ZM1063 488L1066 482L1058 472L1049 471L1046 474L1042 493L1043 495ZM1131 477L1118 496L1108 493L1108 475L1127 472ZM1131 477L1118 496L1120 498L1144 495L1142 482ZM1182 475L1183 476L1185 494L1181 498L1170 500L1165 495L1168 480ZM1196 475L1205 482L1205 497L1202 501L1185 494L1183 476ZM1205 482L1205 497L1222 500L1226 497L1224 478L1219 476ZM1043 495L1042 493L1031 488L1021 492L1024 509L1027 511L1043 510ZM1170 500L1168 516L1182 521L1187 518L1181 498ZM1043 510L1027 511L1021 532L1024 534L1042 535L1044 533L1046 514ZM1046 514L1044 533L1062 538L1070 517L1062 513ZM1101 534L1104 520L1124 516L1125 517L1126 536ZM1128 538L1146 539L1148 537L1141 513L1125 517L1126 536ZM1141 513L1146 509L1164 518L1158 535L1148 537ZM1182 521L1168 516L1164 518L1158 535L1168 541L1183 534ZM1062 538L1044 533L1042 535L1041 551L1043 555L1059 557L1067 550L1065 542ZM1100 535L1106 551L1123 552L1128 538L1126 536L1101 534ZM1146 539L1148 558L1168 555L1168 541L1158 535L1148 537ZM1081 559L1080 569L1059 579L1059 579L1059 557L1067 550ZM1106 551L1101 559L1106 575L1118 576L1124 556L1123 552ZM1146 572L1145 563L1148 558L1168 555L1169 556L1162 577L1148 577ZM1081 571L1080 569L1059 579L1064 592L1067 595L1079 597L1084 593ZM1146 572L1118 576L1124 592L1142 593L1143 592L1148 577ZM1148 577L1162 577L1166 579L1163 600L1143 592ZM1097 592L1104 600L1102 615L1084 614L1079 597L1084 593ZM1119 619L1125 615L1120 597L1104 600L1102 615L1106 620ZM1143 592L1163 600L1165 602L1167 614L1164 618L1141 610L1142 593ZM1106 620L1102 615L1084 614L1082 617L1081 630L1086 635L1102 635ZM1119 619L1125 615L1136 616L1142 635L1140 637L1126 638ZM1141 610L1136 616L1142 635L1161 632L1164 618ZM1122 640L1120 659L1105 657L1102 653L1103 637ZM1126 638L1140 637L1141 653L1124 662L1120 659L1122 640Z" fill="#253494" stroke="#1a1a1a" stroke-width="0.7" stroke-linejoin="round"/>
<path d="M1113.8,274.4 1118.5,269.1 1122.4,281.0 1124.4,295.5 1132.4,303.5 1142.9,314.0 1140.3,318.0 1129.7,310.1 1120.5,303.5 1115.2,295.5 1112.5,284.9Z" fill="#fff" fill-rule="evenodd" stroke="#222" stroke-width="0.6"/>
<path d="M1082.9,270.1 1090.9,267.4 1102.8,266.1 1108.1,275.4 1105.4,282.0 1097.5,288.6 1089.6,296.5 1084.3,301.8 1081.6,291.2 1080.3,278.0Z" fill="#fff" fill-rule="evenodd" stroke="#222" stroke-width="0.6"/>
<path d="M938.6,170.3 939.6,162.4 948.6,160.4 949.6,153.5 950.5,144.5 959.5,142.5 965.4,138.6 973.4,136.6 977.3,131.6 985.3,127.7 991.2,133.6 997.2,132.6 1000.2,124.7 1008.1,117.7 1011.1,113.8 1019.0,107.8 1028.9,105.8 1044.8,104.8 1052.7,104.8 1062.7,100.9 1071.6,102.9 1075.5,104.8 1079.5,110.8 1080.5,121.7 1086.5,123.7 1094.4,126.7 1102.3,131.6 1112.3,133.6 1120.2,133.6 1127.1,136.6 1129.1,142.5 1132.1,150.5 1140.0,156.4 1150.0,159.4 1159.9,160.4 1166.8,166.3 1171.8,168.3 1175.7,174.3 1175.7,186.2 1179.7,188.2 1177.7,196.1 1182.7,204.0 1183.7,214.0 1185.7,223.9 1187.2,223.4 1183.2,226.0 1189.8,230.0 1196.4,232.6 1203.0,231.3 1211.0,235.3 1218.9,236.6 1224.2,235.3 1228.2,241.9 1229.5,247.2 1233.5,249.8 1242.7,248.5 1250.7,252.5 1252.7,263.0 1269.2,264.4 1284.0,264.4 1295.1,260.6 1298.1,263.6 1295.1,273.5 1289.2,278.5 1287.2,289.4 1283.2,303.3 1279.2,309.2 1277.3,303.3 1279.2,283.4 1277.3,281.4 1263.4,280.4 1255.4,281.4 1253.3,280.2 1250.7,271.0 1240.1,272.3 1229.5,268.3 1226.9,264.4 1220.2,265.0 1211.0,263.0 1203.0,261.7 1197.8,265.7 1189.8,272.3 1187.2,273.6 1184.5,263.0 1183.2,251.1 1176.6,248.5 1168.7,253.8 1166.0,264.4 1163.4,269.7 1162.0,277.6 1168.7,290.8 1176.6,300.1 1187.2,312.0 1200.4,322.6 1216.3,327.9 1224.2,331.8 1224.2,335.8 1211.0,335.8 1200.4,334.5 1189.8,333.1 1184.5,330.5 1176.6,325.2 1168.7,317.3 1163.4,310.7 1158.1,304.0 1156.1,290.8 1156.8,277.6 1158.1,264.4 1158.1,248.5 1160.1,235.3 1155.4,231.3 1144.8,227.3 1140.9,220.7 1136.9,222.0 1134.3,215.4 1127.7,210.1 1117.1,211.5 1114.4,199.6 1101.2,185.0 1096.4,178.3 1090.4,172.3 1079.5,164.4 1075.5,163.4 1072.6,150.5 1064.6,148.5 1058.7,144.5 1050.7,143.5 1041.8,146.5 1035.9,153.5 1032.9,161.4 1030.9,167.3 1021.0,170.3 1013.0,172.3 1005.1,172.3 997.2,174.3 991.2,172.3 981.3,166.3 973.4,166.3 970.4,168.3 961.5,175.3 953.5,175.3 945.6,173.3 940.6,172.3ZM998.2,156.4 1005.1,144.5 1013.0,136.6 1021.0,128.7 1028.9,127.7 1029.9,136.6 1027.9,148.5 1023.0,156.4 1013.0,159.4 1011.1,163.4 1008.1,161.4Z" fill="#fff" fill-rule="evenodd" stroke="#222" stroke-width="0.6"/>
<path d="M937.7,227.3 952.2,225.3 962.1,226.0 964.1,229.3 971.4,232.0 972.7,237.9 974.7,243.9 966.8,253.8 968.1,264.4 970.7,271.0 974.7,277.6 965.4,288.8 978.7,279.6 990.6,271.0 999.8,263.0 1005.1,263.0 1007.8,248.5 1011.7,240.6 1026.3,233.9 1039.5,230.0 1052.7,225.3 1060.0,222.0 1066.0,224.0 1071.2,229.3 1079.2,233.9 1088.4,237.2 1079.2,245.8 1071.2,252.5 1060.7,257.8 1050.7,261.1 1058.0,263.0 1060.7,266.3 1064.6,271.0 1067.3,280.2 1069.9,289.5 1075.2,296.1 1069.9,300.1 1059.3,298.8 1051.4,293.5 1040.8,298.8 1039.5,301.4 1044.8,310.7 1032.9,310.7 1021.0,313.3 1007.8,316.0 999.8,319.9 998.5,325.2 986.6,323.9 974.7,333.1 973.4,338.4 976.0,343.7 986.6,346.4 998.5,343.7 1006.4,342.4 1013.0,347.7 1026.3,351.7 1035.5,353.0 1034.2,357.0 1026.3,370.2 1021.0,378.1 1017.0,385.0 989.2,385.0 986.6,380.8 976.0,380.8 965.4,375.5 957.5,368.9 956.2,372.8 949.6,370.2 939.0,366.2 933.7,360.9 929.7,351.7 920.5,349.0 910.5,339.1 911.2,323.9 909.2,312.0 915.2,294.8 913.8,289.5 915.2,284.2 919.1,274.9 923.1,264.4 927.1,253.8 931.0,247.2 932.4,240.6 936.3,235.3ZM922.4,264.4 927.1,251.1 933.7,249.8 944.9,253.8 942.9,267.0 941.6,285.5 939.0,292.1 931.0,297.4 925.7,294.8 919.1,285.5 915.8,282.9 920.5,271.0ZM908.6,312.0 915.2,298.8 920.5,300.1 925.7,309.3 932.4,318.6 937.7,329.2 937.7,343.7 929.7,351.7 920.5,349.0 910.5,339.1 909.9,323.9ZM937.7,366.2 941.6,357.0 937.7,337.1 937.7,329.2 944.3,318.6 950.9,314.6 956.2,304.0 960.1,302.7 977.3,304.0 973.4,314.6 968.1,330.5 957.5,327.9 956.2,343.7 946.9,357.0 942.9,366.9Z" fill="#fff" fill-rule="evenodd" stroke="#222" stroke-width="0.6"/>
<path d="M1228.2,300.1 1236.1,301.4 1246.7,298.8 1250.7,300.1 1258.6,304.0 1261.2,312.0 1266.5,322.6 1269.2,330.5 1269.2,338.4 1259.9,337.1 1250.7,330.5 1242.7,325.2 1236.1,317.3 1230.8,309.3Z" fill="#fff" fill-rule="evenodd" stroke="#222" stroke-width="0.6"/>
<path d="M1238.8,339.8 1248.0,338.4 1259.9,338.4 1269.2,341.1 1269.2,354.3 1259.9,357.0 1249.3,359.6 1241.4,363.6 1238.8,357.0 1241.4,347.7Z" fill="#fff" fill-rule="evenodd" stroke="#222" stroke-width="0.6"/>
<path d="M1247.5,340.6 1258.1,339.3 1268.7,341.9 1268.7,356.5 1262.0,357.8 1247.5,359.1 1243.5,364.4 1238.2,363.1 1242.2,353.8 1246.2,345.9Z" fill="#fff" fill-rule="evenodd" stroke="#222" stroke-width="0.6"/>
<path d="M956.5,341.9 965.7,334.0 973.7,335.3 973.7,343.2 989.6,344.6 1008.1,341.9 1013.4,347.2 1023.9,351.2 1034.5,352.5 1029.2,365.7 1025.3,373.7 1013.4,382.9 1004.1,390.8 1000.8,401.4 997.5,401.4 994.8,390.8 990.9,384.2 991.0,380.8 989.4,377.6 979.1,380.0 969.6,380.8 961.6,374.4 956.9,367.3 945.9,367.0 943.3,364.4 949.9,356.5Z" fill="#fff" fill-rule="evenodd" stroke="#222" stroke-width="0.6"/>
<path d="M1408.2,231.8 1412.2,235.8 1424.1,237.8 1432.0,241.7 1440.0,247.7 1449.9,255.6 1455.8,259.6 1459.8,263.6 1461.8,269.5 1467.7,275.5 1463.8,283.4 1461.8,287.4 1451.9,291.3 1449.9,295.3 1445.9,287.4 1447.9,275.5 1443.9,267.5 1438.0,261.6 1436.0,255.6 1426.1,249.7 1416.1,251.7 1412.2,243.7 1408.2,237.8Z" fill="#fff" fill-rule="evenodd" stroke="#222" stroke-width="0.6"/>
<path d="M1305.0,264.6 1322.9,263.6 1342.7,267.5 1358.6,271.5 1362.6,275.5 1358.6,281.4 1342.7,283.4 1322.9,285.4 1313.0,287.4 1309.0,281.4 1307.0,273.5Z" fill="#fff" fill-rule="evenodd" stroke="#222" stroke-width="0.6"/>
<path d="M1370.5,273.5 1380.4,275.5 1382.4,281.4 1378.4,289.4 1372.5,291.3 1369.5,283.4Z" fill="#fff" fill-rule="evenodd" stroke="#222" stroke-width="0.6"/>
<path d="M1305.0,246.7 1320.9,244.7 1326.9,249.7 1322.9,255.6 1313.0,257.6 1306.0,253.7Z" fill="#fff" fill-rule="evenodd" stroke="#222" stroke-width="0.6"/>
<path d="M1384.4,226.9 1394.3,229.8 1408.2,232.8 1402.3,238.8 1390.3,239.8 1382.4,237.8Z" fill="#fff" fill-rule="evenodd" stroke="#222" stroke-width="0.6"/>
<path d="M1306.3,367.9 1314.3,367.3 1321.5,370.6 1324.8,375.2 1330.1,380.5 1334.1,381.8 1335.4,385.8 1332.8,389.1 1327.5,389.8 1323.5,391.7 1322.2,397.0 1320.9,399.7 1310.3,399.0 1305.0,399.7 1301.0,401.0 1298.4,402.3 1300.4,397.0 1305.0,387.8 1306.3,379.8 1305.0,373.2Z" fill="#fff" fill-rule="evenodd" stroke="#222" stroke-width="0.6"/>
<path d="M1244.8,445.1 1255.4,435.8 1258.1,439.8 1259.4,445.1 1252.8,449.0 1244.8,451.7Z" fill="#fff" fill-rule="evenodd" stroke="#222" stroke-width="0.6"/>
<path d="M1170.8,491.9 1182.7,490.6 1189.3,497.2 1192.0,503.8 1182.7,509.1 1174.8,514.4 1170.8,519.7 1169.5,509.1 1170.8,499.8Z" fill="#fff" fill-rule="evenodd" stroke="#222" stroke-width="0.6"/>
<clipPath id="wclip1"><path clip-rule="evenodd" d="M1113.8,274.4 1118.5,269.1 1122.4,281.0 1124.4,295.5 1132.4,303.5 1142.9,314.0 1140.3,318.0 1129.7,310.1 1120.5,303.5 1115.2,295.5 1112.5,284.9Z"/><path clip-rule="evenodd" d="M1082.9,270.1 1090.9,267.4 1102.8,266.1 1108.1,275.4 1105.4,282.0 1097.5,288.6 1089.6,296.5 1084.3,301.8 1081.6,291.2 1080.3,278.0Z"/><path clip-rule="evenodd" d="M938.6,170.3 939.6,162.4 948.6,160.4 949.6,153.5 950.5,144.5 959.5,142.5 965.4,138.6 973.4,136.6 977.3,131.6 985.3,127.7 991.2,133.6 997.2,132.6 1000.2,124.7 1008.1,117.7 1011.1,113.8 1019.0,107.8 1028.9,105.8 1044.8,104.8 1052.7,104.8 1062.7,100.9 1071.6,102.9 1075.5,104.8 1079.5,110.8 1080.5,121.7 1086.5,123.7 1094.4,126.7 1102.3,131.6 1112.3,133.6 1120.2,133.6 1127.1,136.6 1129.1,142.5 1132.1,150.5 1140.0,156.4 1150.0,159.4 1159.9,160.4 1166.8,166.3 1171.8,168.3 1175.7,174.3 1175.7,186.2 1179.7,188.2 1177.7,196.1 1182.7,204.0 1183.7,214.0 1185.7,223.9 1187.2,223.4 1183.2,226.0 1189.8,230.0 1196.4,232.6 1203.0,231.3 1211.0,235.3 1218.9,236.6 1224.2,235.3 1228.2,241.9 1229.5,247.2 1233.5,249.8 1242.7,248.5 1250.7,252.5 1252.7,263.0 1269.2,264.4 1284.0,264.4 1295.1,260.6 1298.1,263.6 1295.1,273.5 1289.2,278.5 1287.2,289.4 1283.2,303.3 1279.2,309.2 1277.3,303.3 1279.2,283.4 1277.3,281.4 1263.4,280.4 1255.4,281.4 1253.3,280.2 1250.7,271.0 1240.1,272.3 1229.5,268.3 1226.9,264.4 1220.2,265.0 1211.0,263.0 1203.0,261.7 1197.8,265.7 1189.8,272.3 1187.2,273.6 1184.5,263.0 1183.2,251.1 1176.6,248.5 1168.7,253.8 1166.0,264.4 1163.4,269.7 1162.0,277.6 1168.7,290.8 1176.6,300.1 1187.2,312.0 1200.4,322.6 1216.3,327.9 1224.2,331.8 1224.2,335.8 1211.0,335.8 1200.4,334.5 1189.8,333.1 1184.5,330.5 1176.6,325.2 1168.7,317.3 1163.4,310.7 1158.1,304.0 1156.1,290.8 1156.8,277.6 1158.1,264.4 1158.1,248.5 1160.1,235.3 1155.4,231.3 1144.8,227.3 1140.9,220.7 1136.9,222.0 1134.3,215.4 1127.7,210.1 1117.1,211.5 1114.4,199.6 1101.2,185.0 1096.4,178.3 1090.4,172.3 1079.5,164.4 1075.5,163.4 1072.6,150.5 1064.6,148.5 1058.7,144.5 1050.7,143.5 1041.8,146.5 1035.9,153.5 1032.9,161.4 1030.9,167.3 1021.0,170.3 1013.0,172.3 1005.1,172.3 997.2,174.3 991.2,172.3 981.3,166.3 973.4,166.3 970.4,168.3 961.5,175.3 953.5,175.3 945.6,173.3 940.6,172.3ZM998.2,156.4 1005.1,144.5 1013.0,136.6 1021.0,128.7 1028.9,127.7 1029.9,136.6 1027.9,148.5 1023.0,156.4 1013.0,159.4 1011.1,163.4 1008.1,161.4Z"/><path clip-rule="evenodd" d="M937.7,227.3 952.2,225.3 962.1,226.0 964.1,229.3 971.4,232.0 972.7,237.9 974.7,243.9 966.8,253.8 968.1,264.4 970.7,271.0 974.7,277.6 965.4,288.8 978.7,279.6 990.6,271.0 999.8,263.0 1005.1,263.0 1007.8,248.5 1011.7,240.6 1026.3,233.9 1039.5,230.0 1052.7,225.3 1060.0,222.0 1066.0,224.0 1071.2,229.3 1079.2,233.9 1088.4,237.2 1079.2,245.8 1071.2,252.5 1060.7,257.8 1050.7,261.1 1058.0,263.0 1060.7,266.3 1064.6,271.0 1067.3,280.2 1069.9,289.5 1075.2,296.1 1069.9,300.1 1059.3,298.8 1051.4,293.5 1040.8,298.8 1039.5,301.4 1044.8,310.7 1032.9,310.7 1021.0,313.3 1007.8,316.0 999.8,319.9 998.5,325.2 986.6,323.9 974.7,333.1 973.4,338.4 976.0,343.7 986.6,346.4 998.5,343.7 1006.4,342.4 1013.0,347.7 1026.3,351.7 1035.5,353.0 1034.2,357.0 1026.3,370.2 1021.0,378.1 1017.0,385.0 989.2,385.0 986.6,380.8 976.0,380.8 965.4,375.5 957.5,368.9 956.2,372.8 949.6,370.2 939.0,366.2 933.7,360.9 929.7,351.7 920.5,349.0 910.5,339.1 911.2,323.9 909.2,312.0 915.2,294.8 913.8,289.5 915.2,284.2 919.1,274.9 923.1,264.4 927.1,253.8 931.0,247.2 932.4,240.6 936.3,235.3ZM922.4,264.4 927.1,251.1 933.7,249.8 944.9,253.8 942.9,267.0 941.6,285.5 939.0,292.1 931.0,297.4 925.7,294.8 919.1,285.5 915.8,282.9 920.5,271.0ZM908.6,312.0 915.2,298.8 920.5,300.1 925.7,309.3 932.4,318.6 937.7,329.2 937.7,343.7 929.7,351.7 920.5,349.0 910.5,339.1 909.9,323.9ZM937.7,366.2 941.6,357.0 937.7,337.1 937.7,329.2 944.3,318.6 950.9,314.6 956.2,304.0 960.1,302.7 977.3,304.0 973.4,314.6 968.1,330.5 957.5,327.9 956.2,343.7 946.9,357.0 942.9,366.9Z"/><path clip-rule="evenodd" d="M1228.2,300.1 1236.1,301.4 1246.7,298.8 1250.7,300.1 1258.6,304.0 1261.2,312.0 1266.5,322.6 1269.2,330.5 1269.2,338.4 1259.9,337.1 1250.7,330.5 1242.7,325.2 1236.1,317.3 1230.8,309.3Z"/><path clip-rule="evenodd" d="M1238.8,339.8 1248.0,338.4 1259.9,338.4 1269.2,341.1 1269.2,354.3 1259.9,357.0 1249.3,359.6 1241.4,363.6 1238.8,357.0 1241.4,347.7Z"/><path clip-rule="evenodd" d="M1247.5,340.6 1258.1,339.3 1268.7,341.9 1268.7,356.5 1262.0,357.8 1247.5,359.1 1243.5,364.4 1238.2,363.1 1242.2,353.8 1246.2,345.9Z"/><path clip-rule="evenodd" d="M956.5,341.9 965.7,334.0 973.7,335.3 973.7,343.2 989.6,344.6 1008.1,341.9 1013.4,347.2 1023.9,351.2 1034.5,352.5 1029.2,365.7 1025.3,373.7 1013.4,382.9 1004.1,390.8 1000.8,401.4 997.5,401.4 994.8,390.8 990.9,384.2 991.0,380.8 989.4,377.6 979.1,380.0 969.6,380.8 961.6,374.4 956.9,367.3 945.9,367.0 943.3,364.4 949.9,356.5Z"/><path clip-rule="evenodd" d="M1408.2,231.8 1412.2,235.8 1424.1,237.8 1432.0,241.7 1440.0,247.7 1449.9,255.6 1455.8,259.6 1459.8,263.6 1461.8,269.5 1467.7,275.5 1463.8,283.4 1461.8,287.4 1451.9,291.3 1449.9,295.3 1445.9,287.4 1447.9,275.5 1443.9,267.5 1438.0,261.6 1436.0,255.6 1426.1,249.7 1416.1,251.7 1412.2,243.7 1408.2,237.8Z"/><path clip-rule="evenodd" d="M1305.0,264.6 1322.9,263.6 1342.7,267.5 1358.6,271.5 1362.6,275.5 1358.6,281.4 1342.7,283.4 1322.9,285.4 1313.0,287.4 1309.0,281.4 1307.0,273.5Z"/><path clip-rule="evenodd" d="M1370.5,273.5 1380.4,275.5 1382.4,281.4 1378.4,289.4 1372.5,291.3 1369.5,283.4Z"/><path clip-rule="evenodd" d="M1305.0,246.7 1320.9,244.7 1326.9,249.7 1322.9,255.6 1313.0,257.6 1306.0,253.7Z"/><path clip-rule="evenodd" d="M1384.4,226.9 1394.3,229.8 1408.2,232.8 1402.3,238.8 1390.3,239.8 1382.4,237.8Z"/><path clip-rule="evenodd" d="M1306.3,367.9 1314.3,367.3 1321.5,370.6 1324.8,375.2 1330.1,380.5 1334.1,381.8 1335.4,385.8 1332.8,389.1 1327.5,389.8 1323.5,391.7 1322.2,397.0 1320.9,399.7 1310.3,399.0 1305.0,399.7 1301.0,401.0 1298.4,402.3 1300.4,397.0 1305.0,387.8 1306.3,379.8 1305.0,373.2Z"/><path clip-rule="evenodd" d="M1244.8,445.1 1255.4,435.8 1258.1,439.8 1259.4,445.1 1252.8,449.0 1244.8,451.7Z"/><path clip-rule="evenodd" d="M1170.8,491.9 1182.7,490.6 1189.3,497.2 1192.0,503.8 1182.7,509.1 1174.8,514.4 1170.8,519.7 1169.5,509.1 1170.8,499.8Z"/></clipPath>
<path clip-path="url(#wclip1)" d="M969 142L973 157M969 142L979 135M979 135L987 140M987 140L977 158M977 158L974 157M973 157L974 157M942 160L937 171M936 300L936 298M923 309L936 300M920 290L916 295M1218 248L1220 238M1221 252L1236 247M1218 248L1221 252M936 300L944 307M944 307L932 323M1248 262L1250 248M1248 262L1238 262M1238 262L1237 248M1253 267L1248 262M1253 267L1265 264M1253 267L1250 275M1235 265L1240 277M1235 265L1238 262M1223 264L1235 265M1221 252L1223 264M1326 385L1340 387M979 134L979 135M969 142L966 141M956 156L955 147M956 156L973 157M966 141L955 147M953 160L956 156M955 147L950 144M979 134L983 127M987 140L995 141M980 160L993 160M977 158L980 160M993 160L995 141M1208 248L1218 248M1205 264L1208 248M1223 264L1222 264M1250 361L1252 355M1252 355L1237 350M1264 352L1265 354M1255 350L1252 355M1255 350L1264 352M1255 350L1253 342M1253 342L1238 341M963 369L955 367M955 367L949 370M967 384L963 369M983 379L983 371M983 371L979 367M963 369L968 365M968 365L979 367M955 367L954 354M954 354L952 353M936 351L937 368M936 298L948 289M948 289L946 278M946 278L939 276M1330 276L1326 283M1330 276L1327 264M1311 274L1326 283M1311 274L1311 273M1311 273L1315 263M1265 264L1268 277M1268 277L1267 280M1250 275L1256 283M1395 231L1389 231M1399 236L1395 231M1296 264L1293 267M1293 267L1283 265M1283 265L1283 265M1308 248L1312 260M1298 274L1293 267M1268 277L1281 275M1281 275L1283 265M1194 264L1178 265M1175 190L1176 198M1178 200L1176 198M1194 264L1192 249M1205 264L1194 264M1208 248L1203 246M1192 249L1203 246M1203 246L1203 230M1077 98L1072 113M1072 113L1087 119M1040 111L1039 100M1058 97L1058 110M1040 111L1043 113M1043 113L1058 110M1070 114L1072 113M1070 114L1059 111M1059 111L1058 110M1040 111L1027 116M1023 103L1023 113M1023 113L1027 116M995 141L997 140M997 140L998 127M1023 113L1012 115M1100 130L1097 141M1103 143L1097 141M1103 143L1116 137M983 379L994 383M994 383L996 385M996 385L997 392M997 392L997 392M1010 377L996 385M1010 377L1010 374M994 383L998 366M1010 374L998 366M983 371L997 365M998 366L997 365M1223 340L1219 325M1206 337L1213 324M1248 311L1235 309M1248 311L1252 324M1252 324L1252 325M1233 307L1235 309M1256 336L1252 325M1253 342L1256 336M1193 323L1192 312M1192 324L1195 333M1192 324L1193 323M1311 380L1317 385M1325 383L1317 385M1311 380L1312 367M1325 383L1326 385M1263 319L1252 324M1256 336L1270 335M1264 352L1274 337M1330 276L1341 277M1385 277L1371 279M1371 279L1372 291M969 290L978 293M969 290L965 276M984 278L978 293M963 173L957 172M957 172L954 175M974 157L963 173M979 172L980 160M953 160L957 172M997 365L998 358M979 367L984 355M984 355L998 358M949 308L953 311M949 308L953 293M963 304L966 292M953 293L966 292M948 289L953 293M936 298L936 298M944 307L949 308M978 323L981 319M977 310L981 319M978 323L967 322M969 353L980 349M969 353L964 350M964 350L962 337M980 349L982 339M965 335L962 337M965 335L979 337M968 365L969 353M984 355L980 349M954 354L964 350M954 336L962 337M999 356L998 358M993 337L999 356M978 323L979 337M994 319L981 319M936 351L936 350M936 350L936 343M969 290L966 292M965 276L965 276M946 278L948 276M948 276L965 276M1281 275L1285 282M1311 274L1308 290M1252 306L1264 311M1248 311L1252 306M1345 274L1358 279M1345 274L1343 264M1358 279L1360 277M1341 277L1345 274M1136 207L1133 219M1136 207L1149 207M1149 207L1152 215M1152 215L1141 223M1141 223L1133 219M1151 232L1157 228M1159 219L1157 228M1159 219L1152 215M1134 203L1136 207M1134 203L1118 203M1116 214L1118 203M1175 190L1175 190M1175 190L1172 170M1157 159L1163 170M1163 170L1172 170M1157 228L1165 234M1157 247L1162 245M1165 234L1162 245M1317 385L1312 396M1299 396L1312 396M1087 263L1086 277M1165 275L1162 263M1157 247L1160 262M1101 162L1107 158M1101 162L1087 151M1107 158L1103 143M1087 151L1086 144M1097 141L1087 143M1087 143L1086 144M1087 143L1087 122M1043 113L1045 128M1059 111L1056 128M1045 128L1056 128M1045 128L1044 129M1027 116L1028 126M1028 126L1044 129M984 177L997 166M1000 169L997 166M993 160L996 163M997 166L996 163M1007 171L1000 169M1007 171L1008 171M1119 189L1121 173M1119 189L1138 188M1138 188L1138 187M1138 187L1134 176M1134 176L1129 172M1129 172L1122 171M1121 173L1122 171M1139 156L1129 172M1146 157L1147 168M1147 168L1134 176M1087 151L1081 160M1099 168L1087 172M1101 162L1099 168M1087 172L1081 160M1081 160L1074 161M1115 158L1117 159M1115 158L1119 140M1117 159L1134 153M1119 140L1130 141M1099 168L1105 177M1105 177L1121 173M1107 158L1115 158M1122 171L1117 159M1116 137L1119 140M1139 156L1134 153M999 356L1011 353M1010 374L1016 368M1016 368L1011 353M1013 351L1011 353M1010 377L1014 383M997 392L1009 395M1013 351L1028 356M1016 368L1027 367M1028 356L1027 367M1029 369L1027 367M1194 264L1194 264M1389 231L1388 233M1004 291L995 286M1004 291L993 306M995 286L981 295M993 306L983 300M983 300L981 295M978 293L981 295M984 278L987 275M994 277L987 275M994 277L995 286M996 312L996 316M996 316L994 319M977 310L983 300M996 312L993 306M1010 261L1000 262M1010 261L1013 280M1000 262L997 274M1013 280L997 274M1014 282L1013 280M1014 282L1025 278M1025 278L1029 273M1026 264L1029 273M1026 264L1012 260M1012 260L1010 261M994 277L997 274M1010 291L1014 282M1010 291L1004 291M996 312L1011 305M1010 291L1012 294M1012 294L1011 305M936 350L925 352M963 248L968 245M972 234L968 245M965 276L967 268M1285 282L1281 290M1279 291L1281 290M1102 186L1104 185M1104 185L1119 190M1119 190L1118 202M1118 203L1118 202M1105 177L1104 185M1119 189L1119 190M1134 203L1138 188M1165 206L1176 198M1165 206L1157 201M1175 190L1166 189M1166 189L1157 201M1166 216L1165 206M1159 219L1166 216M1149 207L1153 201M1153 201L1157 201M1160 262L1162 263M1162 245L1173 249M1192 249L1191 248M1175 252L1191 248M1312 396L1312 396M1324 402L1312 396M1089 280L1087 290M1072 295L1070 293M1086 277L1089 280M1066 279L1070 293M1070 293L1056 297M1058 147L1071 147M1057 145L1060 131M1071 147L1078 143M1078 143L1071 131M1060 131L1070 130M1070 130L1071 131M1044 129L1042 141M1042 141L1057 145M1056 128L1060 131M1086 144L1078 143M1087 121L1071 131M1070 114L1070 130M1012 115L1013 125M1026 130L1013 125M998 127L1011 128M1011 128L1013 125M1042 141L1041 142M1028 356L1030 354M948 276L950 257M938 261L950 257M963 248L952 248M967 268L951 256M952 248L951 256M950 257L951 256M1012 260L1013 253M1013 253L1007 245M1011 305L1013 309M1013 309L1012 320M1308 248L1310 244M1163 187L1146 189M1163 187L1159 174M1152 175L1159 174M1152 175L1144 187M1144 187L1146 189M1166 189L1163 187M1153 201L1146 189M1163 170L1159 174M1147 168L1152 175M1138 187L1144 187M1187 233L1187 233M1187 233L1178 231M1177 230L1178 231M1177 230L1175 220M1176 218L1175 220M1191 248L1187 233M1173 249L1178 231M1165 234L1177 230M1166 216L1175 220M1178 200L1176 218M971 233L972 234M1026 264L1027 264M1029 273L1038 275M1027 264L1043 258M1038 275L1044 262M1043 258L1044 262M1056 243L1055 236M1056 243L1069 246M1059 230L1055 236M1059 230L1075 231M1075 231L1071 244M1071 244L1069 246M1053 246L1059 261M1053 246L1056 243M1072 259L1069 246M1057 219L1059 230M1044 231L1055 236M1088 246L1071 244M1025 278L1030 290M1012 294L1025 298M1030 290L1025 298M1049 291L1060 279M1049 291L1044 291M1043 289L1044 291M1043 289L1041 278M1041 278L1053 273M1053 273L1060 279M1066 279L1060 279M1056 297L1049 291M1038 275L1041 278M1030 290L1043 289M1044 262L1053 266M1053 266L1053 273M1059 261L1053 266M1087 290L1090 295M1119 276L1120 277M1120 277L1113 291M1102 275L1098 278M1117 265L1119 276M1102 261L1102 275M1120 298L1113 291M1089 280L1098 278M1121 303L1120 298M1192 324L1175 326M1179 308L1172 322M1165 292L1149 289M1165 292L1162 278M1029 144L1029 153M1029 153L1022 160M1022 160L1016 158M1041 142L1029 144M1011 128L1014 141M1007 171L1016 158M997 140L1010 144M1022 160L1027 172M1413 249L1417 231M1414 250L1431 248M1432 246L1431 248M1257 442L1255 439M1043 252L1047 248M1043 252L1030 248M1047 248L1037 235M1030 248L1026 243M1026 243L1026 240M1026 240L1031 234M1031 234L1037 235M1053 246L1047 248M1043 258L1043 252M1027 264L1030 248M1044 231L1037 235M1013 253L1026 243M1015 234L1026 240M1025 309L1027 303M1027 303L1040 304M1043 310L1040 304M1013 309L1025 309M1025 298L1027 303M1044 291L1040 304M1121 303L1134 308M1133 318L1134 308M1134 308L1135 307M1165 292L1165 292M1179 308L1178 304M1433 260L1443 262M1460 292L1457 278M1457 278L1447 278M1462 271L1449 256M1457 278L1460 275M1460 275L1462 271M1443 262L1449 256M934 235L933 245M934 235L939 231M933 245L951 247M939 231L952 233M951 247L953 235M953 235L952 233M933 246L933 245M952 248L951 247M953 223L952 233M971 233L953 235M1175 516L1167 514M1257 442L1253 453M1192 501L1177 500M1177 500L1177 515M1173 497L1177 500M1178 304L1159 309M1165 292L1159 308" fill="none" stroke="#d2d2d2" stroke-width="0.7"/>
</g>
<path d="M1296.4,413.3 1297.0,407.6 1301.0,405.0 1306.0,400.0 1311.0,398.5 1316.0,397.0 1320.0,394.0 1323.5,393.0 1324.0,404.0 1323.0,410.7 1311.0,413.3Z" fill="#fff"/><path d="M1296.5 413.0L1296.1 409.9L1296.9 406.7L1295.0 404.6M1297.7 412.9L1299.2 410.5L1298.7 407.5L1298.1 404.6M1298.6 412.9L1298.7 409.2L1299.1 405.7M1299.4 412.9L1298.8 409.7L1300.5 407.6L1300.1 404.7M1300.7 412.8L1300.4 408.9L1300.5 405.3M1301.9 412.7L1300.8 410.5L1303.3 408.1L1302.3 405.2M1302.9 412.7L1302.4 409.9L1303.1 406.7L1303.4 402.9M1304.1 412.6L1304.7 408.6L1305.2 406.3L1305.4 402.4M1305.2 412.6L1306.2 410.1L1304.6 407.0L1306.3 404.9L1304.0 400.9M1306.4 412.5L1305.8 410.2L1307.6 406.7L1306.8 404.6L1307.1 402.5L1307.6 399.8M1307.7 412.4L1307.2 408.4L1308.0 406.3L1306.8 404.2L1308.1 401.4M1308.6 412.4L1308.0 408.7L1309.8 404.7L1308.5 402.0L1309.0 398.9M1309.7 412.3L1311.0 409.1L1309.5 406.1L1308.9 402.6L1311.1 400.0M1310.8 412.3L1310.5 410.3L1309.3 407.1L1311.2 403.9L1311.1 401.8L1311.3 398.8M1311.7 412.2L1310.3 408.8L1312.3 406.6L1311.0 402.7L1312.0 399.8M1312.7 412.2L1312.3 409.6L1312.1 406.4L1313.5 403.6L1312.9 401.6L1312.1 398.1M1313.6 412.1L1312.7 409.7L1314.2 406.8L1313.1 404.6L1314.6 401.9L1314.7 399.0M1314.5 412.1L1315.6 408.8L1313.7 405.9L1314.6 403.7L1315.4 401.3L1313.5 397.6L1315.4 395.0M1315.6 412.0L1314.5 409.4L1316.5 406.8L1315.2 404.2L1315.4 401.4L1316.9 398.6M1316.5 412.0L1317.6 408.1L1316.3 404.1L1317.8 400.2L1317.2 397.8L1317.0 394.1M1317.6 411.9L1316.7 409.3L1317.8 407.1L1318.5 404.6L1318.8 402.5L1318.8 399.1L1318.7 395.3M1318.6 411.9L1317.7 408.4L1319.1 405.8L1318.4 402.8L1319.0 398.9L1317.9 396.2L1318.6 392.5M1319.8 411.8L1319.9 409.4L1318.8 405.8L1321.1 402.2L1320.8 398.6L1320.2 396.6L1318.5 392.9M1320.8 411.8L1320.5 408.7L1321.6 405.8L1319.4 403.8L1319.6 401.5L1322.2 399.4L1319.5 395.7L1320.2 392.7M1321.7 411.7L1322.0 408.4L1320.8 405.7L1320.6 403.1L1322.4 400.0L1320.5 397.2L1321.3 394.8L1322.6 391.6M1322.7 411.7L1322.5 408.4L1322.7 405.7L1322.5 402.3L1322.6 398.9L1322.8 396.4L1321.4 393.0M1323.7 411.6L1325.0 407.9L1324.9 405.1L1323.0 401.5L1322.6 398.6L1324.2 395.0L1324.6 391.2" fill="none" stroke="#000" stroke-width="1.2"/>
<path d="M938.6,170.3 939.6,162.4 948.6,160.4 949.6,153.5 950.5,144.5 959.5,142.5 965.4,138.6 973.4,136.6 977.3,131.6 985.3,127.7 991.2,133.6 997.2,132.6 1000.2,124.7 1008.1,117.7 1011.1,113.8 1019.0,107.8 1028.9,105.8 1044.8,104.8 1052.7,104.8 1062.7,100.9 1071.6,102.9 1075.5,104.8 1079.5,110.8 1080.5,121.7 1086.5,123.7 1094.4,126.7 1102.3,131.6 1112.3,133.6 1120.2,133.6 1127.1,136.6 1129.1,142.5 1132.1,150.5 1140.0,156.4 1150.0,159.4 1159.9,160.4 1166.8,166.3 1171.8,168.3 1175.7,174.3 1175.7,186.2 1179.7,188.2 1177.7,196.1 1182.7,204.0 1183.7,214.0 1185.7,223.9 1187.2,223.4 1183.2,226.0 1189.8,230.0 1196.4,232.6 1203.0,231.3 1211.0,235.3 1218.9,236.6 1224.2,235.3 1228.2,241.9 1229.5,247.2 1233.5,249.8 1242.7,248.5 1249.3,252.5 1256.0,253.1 1269.2,252.5 1279.8,248.5 1281.2,243.7 1301.1,241.7 1305.0,245.7 1311.0,244.7 1320.9,243.7 1326.9,245.7 1330.8,249.7 1334.8,243.7 1346.7,239.8 1356.6,231.8 1362.6,231.8 1372.5,227.9 1382.4,223.9 1388.4,225.9 1394.3,229.8 1408.2,231.8 1412.2,235.8 1424.1,237.8 1432.0,241.7 1440.0,247.7 1449.9,255.6 1455.8,259.6 1459.8,263.6 1461.8,269.5 1467.7,275.5 1463.8,283.4 1461.8,287.4 1451.9,291.3 1452.8,299.3 1455.8,306.2 1447.9,303.3 1441.9,301.3 1434.0,305.2 1426.1,313.2 1420.1,319.1 1410.2,323.1 1408.2,333.0 1406.2,341.0 1402.3,346.9 1398.3,350.9 1394.3,358.8 1392.3,366.7 1390.3,374.7 1386.1,376.7 1381.3,386.6 1379.8,388.2 1375.8,385.6 1371.8,376.3 1359.9,375.0 1356.0,377.6 1353.3,386.9 1358.6,397.5 1349.3,394.8 1342.7,386.9 1340.1,380.3 1334.8,380.3 1334.8,386.9 1329.5,392.2 1329.5,408.0 1322.9,410.7 1311.0,413.3 1296.4,413.3 1297.8,406.7 1296.4,404.1 1287.2,412.0 1279.2,416.0 1276.6,422.6 1280.6,427.9 1275.3,430.5 1273.9,435.8 1268.7,439.8 1260.7,445.1 1252.8,449.0 1244.8,451.7 1240.9,455.7 1234.3,462.3 1227.7,470.2 1221.0,475.5 1214.4,482.1 1203.8,488.7 1174.8,514.4 1169.5,519.7 1158.9,522.3 1157.6,526.3 1158.9,538.2 1158.9,548.8 1161.6,559.4 1160.2,572.6 1156.3,585.8 1153.6,599.0 1154.3,617.6 1148.3,618.9 1143.0,622.9 1137.8,632.1 1140.4,634.8 1145.7,637.4 1140.4,636.1 1133.8,637.4 1128.5,640.1 1124.5,648.0 1119.2,653.3 1113.9,656.6 1108.7,654.6 1102.0,648.0 1095.4,638.7 1091.5,629.5 1088.8,618.9 1084.8,607.0 1079.6,596.4 1072.9,585.8 1066.3,572.6 1062.4,562.0 1057.1,548.8 1051.8,536.9 1046.5,526.3 1041.2,513.1 1037.2,493.2 1034.6,480.0 1033.2,475.5 1031.9,468.9 1030.6,462.3 1029.2,455.7 1027.9,449.0 1026.6,442.4 1027.9,433.2 1029.2,427.9 1026.6,422.6 1025.3,416.0 1023.9,409.4 1022.6,404.1 1023.9,402.8 1022.6,406.7 1021.3,412.0 1018.7,418.6 1010.7,423.9 1002.8,427.9 996.2,429.2 989.6,426.6 980.3,419.9 973.7,412.0 967.1,404.1 961.8,398.8 962.4,397.5 964.8,395.9 968.0,395.1 974.3,393.5 980.7,392.7 985.4,389.5 989.4,384.0 987.0,385.6 982.3,388.7 974.3,390.3 964.8,387.9 958.4,384.0 955.3,379.2 953.7,374.4 952.1,371.3 947.3,369.7 939.4,368.1 935.4,364.9 933.8,358.6 931.5,353.8 925.9,352.2 921.1,349.8 918.8,345.9 914.0,338.3 910.5,339.1 911.2,323.9 909.2,312.0 915.2,294.8 913.8,289.5 915.2,284.2 919.1,274.9 923.1,264.4 927.1,253.8 931.0,247.2 932.4,240.6 936.3,235.3 937.7,227.3 942.9,223.4 946.9,215.4 949.6,207.5 954.8,199.6 962.8,190.3 964.4,180.2 967.4,174.3 961.5,175.3 953.5,175.3 945.6,173.3 940.6,172.3Z" fill="none" stroke="#000" stroke-width="1.3" stroke-linejoin="round"/>
<path d="M921.4 350.4L923.5 351.8L924.9 352.5L924.7 352.1L928.9 353.1L930.7 352.3L931.4 353.1L932.4 355.6L931.8 356.3L933.2 359.7L934.9 359.3L935.4 360.8L935.3 362.4L934.1 365.9L936.0 365.2L939.3 368.0L938.9 369.3L941.1 368.9L941.8 369.9L944.6 370.3L946.7 368.9L946.9 368.8L948.0 369.1L950.0 371.0L950.8 371.8L952.5 372.4L954.5 374.3L953.8 376.0L955.3 376.4L956.5 378.0L957.0 381.7L956.1 383.1L958.4 384.0" fill="none" stroke="#000" stroke-width="1.8"/>
<path d="M962.4 399.8L963.2 396.8L963.5 396.3L966.3 396.2L967.7 395.8L969.0 395.5L971.7 394.1L972.8 394.4L973.5 393.6L976.7 392.7L978.3 393.6L980.0 392.5L979.6 393.5L983.1 391.5L982.8 389.8L985.4 389.5" fill="none" stroke="#000" stroke-width="1.8"/>
<clipPath id="clip2"><path d="M134.6,1454.3 135.6,1446.4 144.6,1444.4 145.6,1437.5 146.5,1428.5 155.5,1426.5 161.4,1422.6 169.4,1420.6 173.3,1415.6 181.3,1411.7 187.2,1417.6 193.2,1416.6 196.2,1408.7 204.1,1401.7 207.1,1397.8 215.0,1391.8 224.9,1389.8 240.8,1388.8 248.7,1388.8 258.7,1384.9 267.6,1386.9 271.5,1388.8 275.5,1394.8 276.5,1405.7 282.5,1407.7 290.4,1410.7 298.3,1415.6 308.3,1417.6 316.2,1417.6 323.1,1420.6 325.1,1426.5 328.1,1434.5 336.0,1440.4 346.0,1443.4 355.9,1444.4 362.8,1450.3 367.8,1452.3 371.7,1458.3 371.7,1470.2 375.7,1472.2 373.7,1480.1 378.7,1488.0 379.7,1498.0 381.7,1507.9 383.2,1507.4 379.2,1510.0 385.8,1514.0 392.4,1516.6 399.0,1515.3 407.0,1519.3 414.9,1520.6 420.2,1519.3 424.2,1525.9 425.5,1531.2 429.5,1533.8 438.7,1532.5 445.3,1536.5 452.0,1537.1 465.2,1536.5 475.8,1532.5 477.2,1527.7 497.1,1525.7 501.0,1529.7 507.0,1528.7 516.9,1527.7 522.9,1529.7 526.8,1533.7 530.8,1527.7 542.7,1523.8 552.6,1515.8 558.6,1515.8 568.5,1511.9 578.4,1507.9 584.4,1509.9 590.3,1513.8 604.2,1515.8 608.2,1519.8 620.1,1521.8 628.0,1525.7 636.0,1531.7 645.9,1539.6 651.8,1543.6 655.8,1547.6 657.8,1553.5 663.7,1559.5 659.8,1567.4 657.8,1571.4 647.9,1575.3 648.8,1583.3 651.8,1590.2 643.9,1587.3 637.9,1585.3 630.0,1589.2 622.1,1597.2 616.1,1603.1 606.2,1607.1 604.2,1617.0 602.2,1625.0 598.3,1630.9 594.3,1634.9 590.3,1642.8 588.3,1650.7 586.3,1658.7 582.1,1660.7 577.3,1670.6 575.8,1672.2 571.8,1669.6 567.8,1660.3 555.9,1659.0 552.0,1661.6 549.3,1670.9 554.6,1681.5 545.3,1678.8 538.7,1670.9 536.1,1664.3 530.8,1664.3 530.8,1670.9 525.5,1676.2 525.5,1692.0 518.9,1694.7 507.0,1697.3 492.4,1697.3 493.8,1690.7 492.4,1688.1 483.2,1696.0 475.2,1700.0 472.6,1706.6 476.6,1711.9 471.3,1714.5 469.9,1719.8 464.7,1723.8 456.7,1729.1 448.8,1733.0 440.8,1735.7 436.9,1739.7 430.3,1746.3 423.7,1754.2 417.0,1759.5 410.4,1766.1 399.8,1772.7 370.8,1798.4 365.5,1803.7 354.9,1806.3 353.6,1810.3 354.9,1822.2 354.9,1832.8 357.6,1843.4 356.2,1856.6 352.3,1869.8 349.6,1883.0 350.3,1901.6 344.3,1902.9 339.0,1906.9 333.8,1916.1 336.4,1918.8 341.7,1921.4 336.4,1920.1 329.8,1921.4 324.5,1924.1 320.5,1932.0 315.2,1937.3 309.9,1940.6 304.7,1938.6 298.0,1932.0 291.4,1922.7 287.5,1913.5 284.8,1902.9 280.8,1891.0 275.6,1880.4 268.9,1869.8 262.3,1856.6 258.4,1846.0 253.1,1832.8 247.8,1820.9 242.5,1810.3 237.2,1797.1 233.2,1777.2 230.6,1764.0 229.2,1759.5 227.9,1752.9 226.6,1746.3 225.2,1739.7 223.9,1733.0 222.6,1726.4 223.9,1717.2 225.2,1711.9 222.6,1706.6 221.3,1700.0 219.9,1693.4 218.6,1688.1 219.9,1686.8 218.6,1690.7 217.3,1696.0 214.7,1702.6 206.7,1707.9 198.8,1711.9 192.2,1713.2 185.6,1710.6 176.3,1703.9 169.7,1696.0 163.1,1688.1 157.8,1682.8 158.4,1681.5 160.8,1679.9 164.0,1679.1 170.3,1677.5 176.7,1676.7 181.4,1673.5 185.4,1668.0 183.0,1669.6 178.3,1672.7 170.3,1674.3 160.8,1671.9 154.4,1668.0 151.3,1663.2 149.7,1658.4 148.1,1655.3 143.3,1653.7 135.4,1652.1 131.4,1648.9 129.8,1642.6 127.5,1637.8 121.9,1636.2 117.1,1633.8 114.8,1629.9 110.0,1622.3 106.5,1623.1 107.2,1607.9 105.2,1596.0 111.2,1578.8 109.8,1573.5 111.2,1568.2 115.1,1558.9 119.1,1548.4 123.1,1537.8 127.0,1531.2 128.4,1524.6 132.3,1519.3 133.7,1511.3 138.9,1507.4 142.9,1499.4 145.6,1491.5 150.8,1483.6 158.8,1474.3 160.4,1464.2 163.4,1458.3 157.5,1459.3 149.5,1459.3 141.6,1457.3 136.6,1456.3Z"/></clipPath>
<g clip-path="url(#clip2)">
<path d="M173 1516L158 1518L154 1515L155 1505L161 1499L176 1502L175 1514ZM195 1518L201 1514L200 1498L179 1497L176 1502L175 1514ZM320 1502L322 1512L342 1518L342 1518L346 1500L338 1490ZM364 1505L360 1516L342 1518L346 1500L355 1498ZM377 1501L381 1520L381 1520L366 1523L360 1516L364 1505ZM137 1520L118 1514L116 1515L115 1534L123 1539L136 1532ZM176 1534L159 1542L158 1541L158 1518L173 1516ZM280 1536L282 1534L283 1520L278 1515L261 1517L258 1536L259 1537ZM299 1544L282 1534L283 1520L300 1520L304 1523L302 1541ZM343 1531L342 1518L322 1512L316 1520L323 1536L340 1533ZM366 1523L360 1540L343 1531L342 1518L342 1518L360 1516ZM366 1523L360 1540L360 1541L376 1541L381 1520ZM121 1554L123 1539L115 1534L75 1545L116 1559ZM121 1554L123 1539L136 1532L139 1535L139 1557L138 1557ZM159 1542L159 1556L139 1557L139 1535L158 1541ZM188 1541L179 1558L175 1560L160 1557L159 1556L159 1542L176 1534ZM266 1555L263 1557L243 1560L242 1559L241 1540L258 1536L259 1537ZM277 1557L280 1536L259 1537L266 1555ZM340 1533L335 1554L324 1552L321 1540L323 1536ZM164 1587L155 1574L160 1557L175 1560L176 1583ZM223 1572L227 1563L242 1559L243 1560L247 1574L238 1581ZM243 1560L263 1557L260 1580L247 1574ZM277 1557L283 1562L282 1577L279 1580L262 1582L260 1580L263 1557L266 1555ZM324 1552L335 1554L341 1560L332 1575L320 1575L316 1558ZM378 1573L374 1564L384 1554L398 1559L399 1577L387 1578ZM581 1563L581 1578L600 1579L605 1553L601 1549ZM336 1579L332 1575L320 1575L317 1578L320 1600L322 1602L337 1597ZM387 1578L399 1577L400 1578L403 1591L396 1600L382 1604L378 1598ZM421 1580L420 1598L403 1591L400 1578L417 1574ZM566 1579L554 1597L548 1598L540 1578L542 1575ZM304 1619L297 1612L302 1598L320 1600L322 1602L321 1614L320 1615ZM344 1600L337 1597L322 1602L321 1614L336 1621L346 1613ZM408 1615L396 1600L382 1604L380 1616L381 1618L406 1618ZM487 1591L476 1604L487 1619L492 1618L495 1616L498 1602L493 1594ZM319 1639L304 1641L300 1637L304 1619L320 1615L321 1638ZM536 1636L547 1621L542 1613L521 1616L520 1619L522 1634ZM579 1613L578 1638L565 1637L560 1625L565 1615ZM539 1639L536 1636L522 1634L519 1639L519 1656L540 1657ZM584 1640L578 1638L565 1637L560 1642L558 1656L562 1662L575 1660L582 1653ZM345 1677L346 1660L339 1656L326 1659L325 1660L327 1678L336 1682ZM384 1678L393 1679L399 1677L408 1657L398 1652L381 1667ZM558 1656L562 1662L560 1672L542 1678L540 1677L540 1657ZM575 1660L562 1662L560 1672L564 1677L585 1678ZM238 1702L219 1702L216 1699L216 1683L239 1683L239 1701ZM421 1696L420 1692L421 1684L422 1683L432 1681L448 1699L445 1702ZM456 1697L448 1699L432 1681L437 1675L454 1674L462 1686L461 1691ZM255 1721L278 1719L279 1717L276 1702L272 1699L262 1697L258 1701ZM397 1705L400 1699L420 1692L421 1696L421 1715L407 1718L399 1712ZM439 1715L445 1702L421 1696L421 1715L425 1717L435 1719ZM326 1720L304 1722L302 1737L321 1740ZM254 1756L259 1740L276 1741L279 1759L278 1759L262 1766ZM262 1778L275 1783L285 1774L278 1759L262 1766L259 1772ZM378 1759L379 1760L381 1778L377 1782L366 1784L361 1779L364 1764ZM314 1780L304 1777L298 1781L294 1796L300 1804L320 1800L316 1782ZM366 1784L364 1800L378 1805L383 1802L377 1782ZM261 1826L263 1834L277 1843L280 1841L286 1821L279 1817ZM342 1823L344 1842L364 1839L364 1825L354 1819L344 1821ZM302 1835L297 1843L302 1859L314 1860L320 1840L319 1836ZM342 1856L341 1847L344 1842L364 1839L365 1840L358 1861L344 1861ZM298 1862L293 1876L280 1877L277 1855ZM314 1860L314 1860L302 1859L298 1862L293 1876L300 1884L316 1881L320 1876ZM338 1877L337 1894L332 1900L321 1899L316 1881L320 1876Z" fill="#993404" stroke="#1a1a1a" stroke-width="0.7" stroke-linejoin="round"/>
<path d="M170 1276L197 1397L197 1398L213 1398L226 1366L256 636L249 -870L175 -793L169 1252ZM240 1403L219 1406L213 1398L226 1366L242 1399ZM177 1425L162 1413L165 1404L175 1400L179 1401L183 1416ZM196 1418L197 1418L197 1398L197 1397L179 1401L183 1416ZM218 1415L219 1406L213 1398L197 1398L197 1418L215 1419ZM240 1403L219 1406L218 1415L236 1426L246 1419ZM140 1440L155 1434L156 1419L142 1413L133 1422L139 1440ZM155 1434L156 1419L162 1413L177 1425L178 1438L170 1440ZM195 1434L196 1418L183 1416L177 1425L178 1438L181 1439ZM213 1434L215 1419L197 1418L196 1418L195 1434L199 1436ZM216 1437L233 1436L236 1426L218 1415L215 1419L213 1434ZM119 1462L135 1464L142 1454L140 1440L139 1440L117 1442L114 1456ZM162 1462L142 1454L140 1440L155 1434L170 1440L162 1462ZM162 1462L170 1440L178 1438L181 1439L189 1460L180 1466ZM199 1436L195 1434L181 1439L189 1460L197 1462L203 1458ZM216 1437L216 1456L203 1458L199 1436L213 1434ZM162 1462L142 1454L135 1464L137 1473L147 1483L157 1480ZM176 1486L180 1481L180 1466L162 1462L162 1462L157 1480L160 1483ZM180 1466L189 1460L197 1462L202 1482L180 1481ZM278 1515L283 1496L281 1494L258 1495L257 1496L257 1514L261 1517ZM283 1520L300 1520L299 1496L283 1496L278 1515ZM319 1501L299 1496L299 1496L300 1520L304 1523L316 1520L322 1512L320 1502ZM586 1520L577 1523L560 1513L559 1501L574 1500L578 1502ZM598 1497L578 1502L586 1520L595 1520L599 1498ZM599 1498L616 1503L617 1518L597 1521L595 1520ZM188 1541L179 1558L199 1570L200 1569L205 1558L197 1540L193 1539ZM219 1554L222 1538L217 1535L197 1540L205 1558ZM376 1541L360 1541L356 1559L357 1560L374 1564L384 1554L381 1544ZM177 1583L197 1573L199 1570L179 1558L175 1560L176 1583ZM223 1572L227 1563L219 1554L205 1558L200 1569L217 1577ZM256 1597L262 1582L279 1580L283 1594L280 1602L257 1597ZM302 1580L300 1596L283 1594L279 1580L282 1577ZM304 1579L317 1578L320 1600L302 1598L300 1596L302 1580ZM360 1590L356 1580L336 1579L337 1597L344 1600L357 1594L361 1590ZM484 1575L482 1582L487 1591L493 1594L509 1578L508 1577ZM493 1594L498 1602L519 1597L520 1595L519 1581L509 1578ZM607 1595L605 1599L583 1602L582 1598L581 1578L581 1578L600 1579L602 1580ZM281 1614L280 1602L283 1594L300 1596L302 1598L297 1612ZM498 1602L495 1616L520 1619L521 1616L519 1597ZM546 1599L542 1613L521 1616L519 1597L520 1595ZM276 1621L269 1620L255 1639L262 1648L280 1631ZM406 1631L392 1639L388 1637L382 1631L381 1618L406 1618ZM522 1634L520 1619L495 1616L492 1618L500 1638L519 1639ZM560 1642L565 1637L560 1625L547 1621L536 1636L539 1639ZM366 1657L362 1654L360 1639L382 1631L388 1637L372 1659ZM461 1645L472 1641L486 1655L479 1667L461 1658ZM475 1637L498 1641L494 1653L486 1655L472 1641ZM519 1639L500 1638L498 1641L494 1653L499 1658L518 1659L519 1656ZM596 1636L606 1656L597 1666L582 1653L584 1640ZM503 1681L518 1672L518 1659L499 1658L497 1675ZM582 1653L575 1660L585 1678L587 1679L594 1678L597 1666ZM298 1693L276 1702L279 1717L300 1716L303 1704ZM327 1720L319 1703L303 1704L300 1716L304 1722L326 1720ZM240 1741L239 1743L220 1745L219 1743L219 1724L238 1722ZM435 1719L425 1717L421 1740L439 1745L442 1738ZM439 1715L461 1722L462 1732L442 1738L435 1719ZM325 1745L323 1756L304 1759L301 1756L302 1738L302 1737L321 1740ZM339 1766L338 1766L340 1779L343 1783L361 1779L364 1764L358 1760ZM340 1779L343 1783L342 1793L337 1797L321 1801L320 1800L316 1782ZM361 1779L366 1784L364 1800L360 1802L342 1793L343 1783ZM239 1794L223 1795L217 1816L220 1818L238 1819L240 1817L242 1798ZM242 1798L240 1817L258 1822L266 1801L258 1797ZM274 1801L279 1817L261 1826L258 1822L266 1801ZM296 1819L302 1835L319 1836L324 1822L322 1820L297 1818ZM344 1861L358 1861L362 1863L359 1884L339 1876Z" fill="#d95f0e" stroke="#1a1a1a" stroke-width="0.7" stroke-linejoin="round"/>
<path d="M242 1399L226 1366L256 636L276 1231L269 1359L258 1392ZM264 1402L258 1392L269 1359L283 1397L275 1404ZM264 1402L258 1392L242 1399L240 1403L246 1419L255 1422L257 1421ZM264 1402L257 1421L277 1416L275 1404ZM275 1404L283 1397L293 1400L297 1415L296 1416L280 1419L277 1416ZM320 1398L304 1390L293 1400L297 1415L313 1413ZM332 1400L338 1419L337 1421L323 1427L313 1413L320 1398L323 1397ZM240 1447L233 1436L236 1426L246 1419L255 1422L261 1438L260 1439ZM257 1421L255 1422L261 1438L277 1436L280 1419L277 1416ZM296 1439L286 1441L277 1436L280 1419L296 1416L299 1437ZM317 1439L323 1427L313 1413L297 1415L296 1416L299 1437ZM343 1444L320 1445L317 1439L323 1427L337 1421L345 1440ZM238 1452L240 1447L233 1436L216 1437L216 1456L217 1457ZM260 1462L240 1457L238 1452L240 1447L260 1439L265 1459ZM265 1459L260 1439L261 1438L277 1436L286 1441L282 1458L273 1463ZM300 1464L300 1465L282 1458L286 1441L296 1439ZM320 1455L320 1445L317 1439L299 1437L296 1439L300 1464ZM320 1456L320 1455L320 1445L343 1444L346 1460L340 1465ZM356 1461L364 1438L361 1437L345 1440L343 1444L346 1460L356 1461ZM356 1461L364 1438L375 1438L377 1439L377 1459L375 1462ZM260 1462L240 1457L238 1476L253 1476ZM260 1462L253 1476L258 1481L276 1478L273 1463L265 1459ZM273 1463L282 1458L300 1465L299 1471L279 1481L276 1478ZM321 1477L316 1480L304 1478L299 1471L300 1465L300 1464L320 1455L320 1456ZM321 1477L338 1481L340 1465L320 1456ZM338 1481L338 1482L360 1480L356 1461L346 1460L340 1465ZM378 1483L375 1462L356 1461L356 1461L360 1480L363 1483ZM161 1499L155 1505L142 1492L147 1483L157 1480L160 1483ZM176 1502L161 1499L160 1483L176 1486L179 1497ZM179 1497L200 1498L202 1497L204 1484L202 1482L180 1481L176 1486ZM225 1497L221 1501L202 1497L204 1484L215 1481ZM237 1477L238 1493L238 1494L225 1497L215 1481L223 1474ZM258 1481L258 1495L257 1496L238 1493L237 1477L238 1476L253 1476ZM276 1478L279 1481L281 1494L258 1495L258 1481ZM379 1483L391 1480L408 1501L402 1506L379 1498ZM139 1519L137 1495L120 1494L119 1496L118 1514L137 1520ZM139 1519L137 1495L142 1492L155 1505L154 1515ZM240 1514L237 1517L222 1512L221 1501L225 1497L238 1494ZM257 1514L257 1496L238 1493L238 1494L240 1514ZM377 1501L381 1520L398 1523L402 1506L379 1498ZM399 1526L421 1522L419 1504L411 1500L408 1501L402 1506L398 1523ZM441 1517L439 1500L419 1504L421 1522L425 1525L436 1522ZM158 1541L139 1535L136 1532L137 1520L139 1519L154 1515L158 1518ZM188 1541L176 1534L173 1516L175 1514L195 1518L193 1539ZM237 1517L222 1512L213 1518L217 1535L222 1538L234 1536ZM261 1517L257 1514L240 1514L237 1517L234 1536L241 1540L258 1536ZM323 1536L321 1540L302 1541L304 1523L316 1520ZM381 1520L376 1541L381 1544L400 1533L399 1526L398 1523L381 1520ZM399 1526L421 1522L425 1525L424 1536L419 1541L403 1537L400 1533ZM436 1522L425 1525L424 1536L442 1542L442 1542ZM459 1524L441 1517L436 1522L442 1542L457 1533ZM482 1521L482 1536L474 1544L468 1546L457 1533L459 1524L463 1520L479 1520ZM482 1521L490 1518L503 1525L502 1546L500 1548L482 1536ZM502 1546L518 1544L522 1537L520 1520L519 1520L503 1525ZM543 1541L522 1537L520 1520L531 1518L535 1520L547 1539ZM553 1539L553 1539L558 1516L560 1513L577 1523L573 1538ZM599 1541L597 1521L595 1520L586 1520L577 1523L573 1538L575 1542ZM600 1543L621 1535L622 1522L617 1518L597 1521L599 1541ZM621 1535L622 1522L634 1518L639 1523L646 1538L646 1538L627 1541ZM242 1559L241 1540L234 1536L222 1538L219 1554L227 1563ZM324 1552L316 1558L300 1555L299 1554L299 1544L302 1541L321 1540ZM381 1544L384 1554L398 1559L400 1557L403 1537L400 1533ZM419 1541L403 1537L400 1557L422 1557ZM441 1560L442 1559L442 1542L424 1536L419 1541L422 1557L425 1559ZM468 1546L461 1559L442 1559L442 1542L442 1542L457 1533ZM474 1544L487 1560L483 1567L464 1562L461 1559L468 1546ZM482 1536L500 1548L498 1554L487 1560L474 1544ZM500 1548L498 1554L501 1557L524 1561L526 1558L518 1544L502 1546ZM526 1558L518 1544L522 1537L543 1541L535 1557ZM627 1541L646 1538L643 1560L641 1564L622 1558ZM663 1541L660 1558L643 1560L646 1538L646 1538L658 1536ZM663 1541L660 1558L664 1563L681 1555L677 1545ZM300 1555L304 1579L317 1578L320 1575L316 1558ZM425 1559L422 1557L400 1557L398 1559L399 1577L400 1578L417 1574ZM438 1582L421 1580L417 1574L425 1559L441 1560L442 1577ZM487 1560L483 1567L484 1575L508 1577L501 1557L498 1554ZM524 1561L501 1557L508 1577L509 1578L519 1581L519 1580ZM544 1566L535 1557L526 1558L524 1561L519 1580L540 1578L542 1575ZM622 1558L617 1575L619 1577L639 1581L643 1576L641 1564L622 1558ZM663 1581L664 1581L664 1563L660 1558L643 1560L641 1564L643 1576ZM223 1572L238 1581L236 1595L217 1592L217 1577ZM238 1581L247 1574L260 1580L262 1582L256 1597L240 1599L236 1595ZM438 1582L437 1597L436 1598L422 1599L420 1598L421 1580ZM519 1580L519 1581L520 1595L546 1599L548 1598L540 1578ZM566 1579L554 1597L559 1601L582 1598L581 1578L567 1579ZM115 1621L135 1619L136 1605L118 1603ZM217 1592L212 1597L226 1620L235 1618L240 1599L236 1595ZM240 1599L256 1597L257 1597L261 1616L241 1622L235 1618ZM261 1616L269 1620L276 1621L281 1614L280 1602L257 1597ZM357 1594L363 1616L357 1620L346 1613L344 1600ZM378 1598L382 1604L380 1616L363 1616L357 1594L361 1590ZM436 1598L442 1619L459 1615L464 1602L461 1597L437 1597ZM464 1602L459 1615L460 1617L477 1627L487 1619L476 1604ZM138 1625L135 1619L115 1621L114 1622L123 1640L133 1641ZM241 1622L246 1636L255 1639L269 1620L261 1616ZM340 1635L336 1621L321 1614L320 1615L321 1638ZM340 1635L354 1634L357 1620L346 1613L336 1621L340 1635ZM354 1634L357 1620L363 1616L380 1616L381 1618L382 1631L360 1639ZM458 1643L460 1617L477 1627L475 1637L472 1641L461 1645ZM475 1637L477 1627L487 1619L492 1618L500 1638L498 1641ZM139 1650L140 1653L117 1665L111 1660L118 1644L123 1640L133 1641ZM326 1659L319 1639L304 1641L304 1663L325 1660ZM326 1659L319 1639L321 1638L340 1635L340 1635L339 1656ZM362 1654L360 1639L354 1634L340 1635L339 1656L346 1660ZM381 1667L398 1652L392 1639L388 1637L372 1659ZM406 1631L392 1639L398 1652L408 1657L412 1657L418 1639L417 1637ZM435 1657L438 1644L418 1639L412 1657L417 1660ZM558 1656L540 1657L540 1657L539 1639L560 1642ZM157 1664L161 1675L157 1684L142 1688L136 1678L145 1661ZM176 1655L168 1653L157 1664L161 1675L180 1676L183 1662ZM209 1679L207 1679L181 1677L180 1676L183 1662L200 1656L203 1660ZM315 1682L300 1680L299 1678L301 1666L304 1663L325 1660L327 1678ZM356 1680L358 1679L366 1657L362 1654L346 1660L345 1677ZM421 1684L422 1683L417 1660L412 1657L408 1657L399 1677ZM480 1673L479 1667L486 1655L494 1653L499 1658L497 1675ZM540 1657L540 1677L527 1679L518 1672L518 1659L519 1656L540 1657ZM239 1701L239 1683L242 1681L258 1686L262 1697L258 1701ZM272 1699L280 1677L275 1673L264 1676L258 1686L262 1697ZM393 1679L399 1677L421 1684L420 1692L400 1699ZM241 1719L238 1722L219 1724L218 1724L219 1702L238 1702ZM327 1720L319 1703L320 1700L337 1694L339 1697L340 1719L340 1719ZM254 1721L256 1737L240 1741L238 1722L241 1719ZM254 1721L256 1737L259 1740L276 1741L279 1737L278 1719L255 1721ZM304 1722L302 1737L302 1738L279 1737L278 1719L279 1717L300 1716ZM327 1720L340 1719L337 1742L325 1745L321 1740L326 1720ZM399 1712L407 1718L403 1738L401 1738L383 1734L382 1721ZM421 1715L407 1718L403 1738L413 1743L421 1740L425 1717ZM245 1755L239 1743L220 1745L220 1751L225 1758L242 1758ZM301 1756L279 1759L276 1741L279 1737L302 1738ZM353 1744L359 1736L375 1741L378 1759L364 1764L358 1760ZM227 1772L225 1758L242 1758L238 1777ZM327 1761L314 1780L304 1777L304 1759L323 1756ZM327 1761L314 1780L316 1782L340 1779L338 1766ZM392 1759L401 1766L401 1781L398 1785L381 1778L379 1760ZM239 1779L238 1777L227 1772L217 1776L220 1793L223 1795L239 1794ZM262 1778L258 1797L242 1798L239 1794L239 1779L259 1772ZM262 1778L275 1783L277 1798L274 1801L266 1801L258 1797ZM324 1822L342 1823L344 1821L337 1797L321 1801L322 1820ZM342 1856L341 1847L320 1840L314 1860L314 1860ZM339 1876L359 1884L361 1886L363 1898L360 1902L337 1894L338 1877ZM315 1903L321 1899L332 1900L338 1919L336 1921L322 1922ZM337 1894L332 1900L338 1919L357 1916L360 1902ZM318 1924L316 1943L301 1941L298 1937L299 1921ZM322 1922L336 1921L337 1937L320 1946L316 1943L318 1924Z" fill="#fe9929" stroke="#1a1a1a" stroke-width="0.7" stroke-linejoin="round"/>
<path d="M547 1539L535 1520L558 1516L553 1539ZM277 1557L283 1562L299 1554L299 1544L282 1534L280 1536ZM360 1541L360 1540L343 1531L340 1533L335 1554L341 1560L356 1559ZM600 1543L621 1535L627 1541L622 1558L622 1558L605 1553L601 1549ZM117 1575L-267 1627L-302 1629L-1084 1643L-2275 1648L-2116 1502L-894 1505L-147 1524L75 1545L116 1559ZM137 1579L138 1557L121 1554L116 1559L117 1575L121 1580L135 1581ZM137 1579L155 1574L160 1557L159 1556L139 1557L138 1557ZM300 1555L304 1579L302 1580L282 1577L283 1562L299 1554ZM357 1560L356 1580L336 1579L332 1575L341 1560L356 1559ZM622 1558L617 1575L602 1580L600 1579L605 1553ZM121 1580L113 1596L-45 1620L-267 1627L117 1575ZM135 1581L142 1599L136 1605L118 1603L113 1596L121 1580ZM160 1597L164 1587L155 1574L137 1579L135 1581L142 1599L156 1601ZM186 1595L177 1583L176 1583L164 1587L160 1597L178 1602ZM198 1597L197 1573L177 1583L186 1595ZM201 1599L212 1597L217 1592L217 1577L200 1569L199 1570L197 1573L198 1597ZM617 1575L602 1580L607 1595L622 1596L619 1577ZM635 1598L639 1581L619 1577L622 1596L626 1598ZM638 1602L656 1604L663 1594L663 1581L643 1576L639 1581L635 1598ZM115 1621L114 1622L74 1626L-45 1620L113 1596L118 1603ZM159 1611L156 1601L142 1599L136 1605L135 1619L138 1625L153 1625ZM179 1616L177 1618L159 1611L156 1601L160 1597L178 1602ZM201 1599L212 1597L226 1620L225 1621L201 1625L197 1617ZM606 1616L600 1622L583 1610L583 1602L605 1599ZM617 1616L606 1616L605 1599L607 1595L622 1596L626 1598ZM161 1637L139 1650L133 1641L138 1625L153 1625ZM199 1637L201 1625L225 1621L224 1638L218 1644L203 1645ZM225 1621L226 1620L235 1618L241 1622L246 1636L239 1644L224 1638ZM300 1637L289 1638L280 1631L276 1621L281 1614L297 1612L304 1619ZM406 1631L406 1618L408 1615L417 1612L427 1622L417 1637ZM596 1636L599 1632L600 1622L583 1610L579 1613L578 1638L584 1640ZM627 1624L617 1616L606 1616L600 1622L599 1632L621 1636ZM162 1638L168 1653L157 1664L145 1661L140 1653L139 1650L161 1637ZM203 1660L200 1656L203 1645L218 1644L228 1659ZM280 1631L262 1648L263 1652L274 1658L283 1654L289 1638ZM304 1663L301 1666L283 1654L289 1638L300 1637L304 1641ZM435 1657L438 1644L443 1640L458 1643L461 1645L461 1658L457 1663L435 1657ZM275 1673L274 1658L263 1652L252 1662L264 1676ZM299 1678L280 1677L275 1673L274 1658L283 1654L301 1666ZM437 1675L435 1657L457 1663L454 1674ZM476 1681L462 1686L454 1674L457 1663L461 1658L479 1667L480 1673ZM214 1681L216 1683L216 1699L201 1704L193 1696L207 1679L209 1679ZM337 1694L320 1700L315 1682L327 1678L336 1682ZM356 1680L345 1677L336 1682L337 1694L339 1697L358 1696ZM480 1704L488 1695L476 1681L462 1686L461 1691ZM198 1720L182 1713L180 1696L181 1695L193 1696L201 1704ZM218 1724L199 1721L198 1720L201 1704L216 1699L219 1702ZM254 1721L241 1719L238 1702L239 1701L258 1701L255 1721ZM358 1696L360 1697L353 1721L340 1719L339 1697ZM375 1697L376 1697L397 1705L399 1712L382 1721L375 1716ZM340 1719L340 1719L353 1721L356 1722L359 1736L353 1744L343 1745L337 1742ZM240 1741L239 1743L245 1755L254 1756L259 1740L256 1737ZM274 1801L279 1817L286 1821L296 1819L297 1818L300 1804L294 1796L277 1798ZM258 1822L240 1817L238 1819L237 1835L239 1839L255 1841L263 1834L261 1826ZM296 1819L286 1821L280 1841L297 1843L302 1835ZM277 1843L276 1853L255 1863L255 1863L255 1841L263 1834ZM280 1841L277 1843L276 1853L277 1855L298 1862L302 1859L297 1843ZM277 1855L276 1853L255 1863L260 1876L263 1879L275 1881L280 1877ZM293 1876L300 1884L298 1899L280 1898L275 1881L280 1877ZM298 1919L282 1919L275 1937L277 1939L298 1937L299 1921Z" fill="#fed98e" stroke="#1a1a1a" stroke-width="0.7" stroke-linejoin="round"/>
<path d="M223 1474L215 1481L204 1484L202 1482L197 1462L203 1458L216 1456L217 1457ZM238 1476L240 1457L238 1452L217 1457L223 1474L237 1477ZM299 1496L299 1496L283 1496L281 1494L279 1481L299 1471L304 1478ZM319 1501L299 1496L304 1478L316 1480ZM321 1477L316 1480L319 1501L320 1502L338 1490L338 1482L338 1481ZM363 1483L360 1480L338 1482L338 1490L346 1500L355 1498ZM378 1483L363 1483L355 1498L364 1505L377 1501L379 1498L379 1483ZM213 1518L201 1514L200 1498L202 1497L221 1501L222 1512ZM193 1539L197 1540L217 1535L213 1518L201 1514L195 1518ZM556 1560L557 1557L553 1539L553 1539L547 1539L543 1541L535 1557L544 1566ZM576 1556L557 1557L553 1539L573 1538L575 1542ZM576 1556L575 1542L599 1541L600 1543L601 1549L581 1563ZM378 1573L374 1564L357 1560L356 1580L360 1590ZM442 1577L462 1585L464 1562L461 1559L442 1559L441 1560ZM483 1567L464 1562L462 1585L463 1586L482 1582L484 1575ZM566 1579L542 1575L544 1566L556 1560L567 1579ZM576 1556L557 1557L556 1560L567 1579L581 1578L581 1578L581 1563ZM378 1573L360 1590L361 1590L378 1598L387 1578ZM438 1582L437 1597L461 1597L463 1586L462 1585L442 1577ZM487 1591L476 1604L464 1602L461 1597L463 1586L482 1582ZM201 1599L197 1617L179 1616L178 1602L186 1595L198 1597ZM420 1598L403 1591L396 1600L408 1615L417 1612L422 1599ZM436 1598L442 1619L440 1623L427 1622L417 1612L422 1599ZM565 1615L559 1601L554 1597L548 1598L546 1599L542 1613L547 1621L560 1625ZM579 1613L583 1610L583 1602L582 1598L559 1601L565 1615ZM123 1640L118 1644L74 1626L114 1622ZM162 1638L173 1631L177 1618L159 1611L153 1625L161 1637ZM179 1616L177 1618L173 1631L185 1638L199 1637L201 1625L197 1617ZM417 1637L418 1639L438 1644L443 1640L440 1623L427 1622ZM458 1643L460 1617L459 1615L442 1619L440 1623L443 1640ZM162 1638L168 1653L176 1655L185 1638L173 1631ZM199 1637L185 1638L176 1655L183 1662L200 1656L203 1645ZM229 1659L237 1659L239 1644L224 1638L218 1644L228 1659ZM237 1659L239 1644L246 1636L255 1639L262 1648L263 1652L252 1662L243 1664ZM214 1681L229 1659L228 1659L203 1660L209 1679ZM214 1681L216 1683L239 1683L242 1681L243 1664L237 1659L229 1659ZM242 1681L258 1686L264 1676L252 1662L243 1664ZM381 1681L358 1679L366 1657L372 1659L381 1667L384 1678ZM432 1681L422 1683L417 1660L435 1657L435 1657L437 1675ZM161 1675L157 1684L167 1698L180 1696L181 1695L181 1677L180 1676ZM207 1679L181 1677L181 1695L193 1696ZM300 1680L299 1678L280 1677L272 1699L276 1702L298 1693ZM320 1700L315 1682L300 1680L298 1693L303 1704L319 1703ZM356 1680L358 1679L381 1681L376 1697L375 1697L360 1697L358 1696ZM381 1681L376 1697L397 1705L400 1699L393 1679L384 1678ZM501 1695L503 1681L497 1675L480 1673L476 1681L488 1695ZM501 1695L502 1696L524 1696L527 1679L518 1672L503 1681ZM165 1700L167 1698L180 1696L182 1713L176 1719L159 1717ZM375 1697L375 1716L356 1722L353 1721L360 1697ZM465 1714L461 1722L439 1715L445 1702L448 1699L456 1697ZM480 1704L461 1691L456 1697L465 1714L479 1712ZM480 1704L488 1695L501 1695L502 1696L504 1714L484 1718L479 1712ZM504 1714L509 1719L519 1720L519 1720L529 1703L524 1696L502 1696ZM375 1716L382 1721L383 1734L375 1741L359 1736L356 1722ZM479 1712L484 1718L482 1737L478 1739L467 1736L462 1732L461 1722L465 1714ZM325 1745L323 1756L327 1761L338 1766L339 1766L343 1745L337 1742ZM343 1745L339 1766L358 1760L353 1744ZM375 1741L378 1759L379 1760L392 1759L401 1738L383 1734ZM392 1759L401 1766L415 1760L413 1743L403 1738L401 1738ZM415 1760L420 1762L437 1758L441 1753L439 1745L421 1740L413 1743ZM259 1772L262 1766L254 1756L245 1755L242 1758L238 1777L239 1779ZM304 1777L298 1781L285 1774L278 1759L279 1759L301 1756L304 1759ZM401 1766L401 1781L418 1784L422 1781L420 1762L415 1760ZM277 1798L294 1796L298 1781L285 1774L275 1783ZM398 1785L395 1798L383 1802L377 1782L381 1778ZM297 1818L300 1804L320 1800L321 1801L322 1820ZM337 1797L342 1793L360 1802L354 1819L344 1821ZM378 1805L364 1800L360 1802L354 1819L364 1825L379 1818ZM324 1822L342 1823L344 1842L341 1847L320 1840L319 1836ZM342 1856L314 1860L320 1876L338 1877L339 1876L344 1861ZM315 1903L321 1899L316 1881L300 1884L298 1899L302 1904ZM302 1904L298 1899L280 1898L278 1901L277 1914L282 1919L298 1919ZM315 1903L322 1922L318 1924L299 1921L298 1919L302 1904Z" fill="#ffffd4" stroke="#1a1a1a" stroke-width="0.7" stroke-linejoin="round"/>
<path d="M309.8,1558.4 314.5,1553.1 318.4,1565.0 320.4,1579.5 328.4,1587.5 338.9,1598.0 336.3,1602.0 325.7,1594.1 316.5,1587.5 311.2,1579.5 308.5,1568.9Z" fill="#fff" fill-rule="evenodd" stroke="#222" stroke-width="0.6"/>
<path d="M278.9,1554.1 286.9,1551.4 298.8,1550.1 304.1,1559.4 301.4,1566.0 293.5,1572.6 285.6,1580.5 280.3,1585.8 277.6,1575.2 276.3,1562.0Z" fill="#fff" fill-rule="evenodd" stroke="#222" stroke-width="0.6"/>
<path d="M134.6,1454.3 135.6,1446.4 144.6,1444.4 145.6,1437.5 146.5,1428.5 155.5,1426.5 161.4,1422.6 169.4,1420.6 173.3,1415.6 181.3,1411.7 187.2,1417.6 193.2,1416.6 196.2,1408.7 204.1,1401.7 207.1,1397.8 215.0,1391.8 224.9,1389.8 240.8,1388.8 248.7,1388.8 258.7,1384.9 267.6,1386.9 271.5,1388.8 275.5,1394.8 276.5,1405.7 282.5,1407.7 290.4,1410.7 298.3,1415.6 308.3,1417.6 316.2,1417.6 323.1,1420.6 325.1,1426.5 328.1,1434.5 336.0,1440.4 346.0,1443.4 355.9,1444.4 362.8,1450.3 367.8,1452.3 371.7,1458.3 371.7,1470.2 375.7,1472.2 373.7,1480.1 378.7,1488.0 379.7,1498.0 381.7,1507.9 383.2,1507.4 379.2,1510.0 385.8,1514.0 392.4,1516.6 399.0,1515.3 407.0,1519.3 414.9,1520.6 420.2,1519.3 424.2,1525.9 425.5,1531.2 429.5,1533.8 438.7,1532.5 446.7,1536.5 448.7,1547.0 465.2,1548.4 480.0,1548.4 491.1,1544.6 494.1,1547.6 491.1,1557.5 485.2,1562.5 483.2,1573.4 479.2,1587.3 475.2,1593.2 473.3,1587.3 475.2,1567.4 473.3,1565.4 459.4,1564.4 451.4,1565.4 449.3,1564.2 446.7,1555.0 436.1,1556.3 425.5,1552.3 422.9,1548.4 416.2,1549.0 407.0,1547.0 399.0,1545.7 393.8,1549.7 385.8,1556.3 383.2,1557.6 380.5,1547.0 379.2,1535.1 372.6,1532.5 364.7,1537.8 362.0,1548.4 359.4,1553.7 358.0,1561.6 364.7,1574.8 372.6,1584.1 383.2,1596.0 396.4,1606.6 412.3,1611.9 420.2,1615.8 420.2,1619.8 407.0,1619.8 396.4,1618.5 385.8,1617.1 380.5,1614.5 372.6,1609.2 364.7,1601.3 359.4,1594.7 354.1,1588.0 352.1,1574.8 352.8,1561.6 354.1,1548.4 354.1,1532.5 356.1,1519.3 351.4,1515.3 340.8,1511.3 336.9,1504.7 332.9,1506.0 330.3,1499.4 323.7,1494.1 313.1,1495.5 310.4,1483.6 297.2,1469.0 292.4,1462.3 286.4,1456.3 275.5,1448.4 271.5,1447.4 268.6,1434.5 260.6,1432.5 254.7,1428.5 246.7,1427.5 237.8,1430.5 231.9,1437.5 228.9,1445.4 226.9,1451.3 217.0,1454.3 209.0,1456.3 201.1,1456.3 193.2,1458.3 187.2,1456.3 177.3,1450.3 169.4,1450.3 166.4,1452.3 157.5,1459.3 149.5,1459.3 141.6,1457.3 136.6,1456.3ZM194.2,1440.4 201.1,1428.5 209.0,1420.6 217.0,1412.7 224.9,1411.7 225.9,1420.6 223.9,1432.5 219.0,1440.4 209.0,1443.4 207.1,1447.4 204.1,1445.4Z" fill="#fff" fill-rule="evenodd" stroke="#222" stroke-width="0.6"/>
<path d="M133.7,1511.3 148.2,1509.3 158.1,1510.0 160.1,1513.3 167.4,1516.0 168.7,1521.9 170.7,1527.9 162.8,1537.8 164.1,1548.4 166.7,1555.0 170.7,1561.6 161.4,1572.8 174.7,1563.6 186.6,1555.0 195.8,1547.0 201.1,1547.0 203.8,1532.5 207.7,1524.6 222.3,1517.9 235.5,1514.0 248.7,1509.3 256.0,1506.0 262.0,1508.0 267.2,1513.3 275.2,1517.9 284.4,1521.2 275.2,1529.8 267.2,1536.5 256.7,1541.8 246.7,1545.1 254.0,1547.0 256.7,1550.3 260.6,1555.0 263.3,1564.2 265.9,1573.5 271.2,1580.1 265.9,1584.1 255.3,1582.8 247.4,1577.5 236.8,1582.8 235.5,1585.4 240.8,1594.7 228.9,1594.7 217.0,1597.3 203.8,1600.0 195.8,1603.9 194.5,1609.2 182.6,1607.9 170.7,1617.1 169.4,1622.4 172.0,1627.7 182.6,1630.4 194.5,1627.7 202.4,1626.4 209.0,1631.7 222.3,1635.7 231.5,1637.0 230.2,1641.0 222.3,1654.2 217.0,1662.1 213.0,1669.0 185.2,1669.0 182.6,1664.8 172.0,1664.8 161.4,1659.5 153.5,1652.9 152.2,1656.8 145.6,1654.2 135.0,1650.2 129.7,1644.9 125.7,1635.7 116.5,1633.0 106.5,1623.1 107.2,1607.9 105.2,1596.0 111.2,1578.8 109.8,1573.5 111.2,1568.2 115.1,1558.9 119.1,1548.4 123.1,1537.8 127.0,1531.2 128.4,1524.6 132.3,1519.3ZM118.4,1548.4 123.1,1535.1 129.7,1533.8 140.9,1537.8 138.9,1551.0 137.6,1569.5 135.0,1576.1 127.0,1581.4 121.7,1578.8 115.1,1569.5 111.8,1566.9 116.5,1555.0ZM104.6,1596.0 111.2,1582.8 116.5,1584.1 121.7,1593.3 128.4,1602.6 133.7,1613.2 133.7,1627.7 125.7,1635.7 116.5,1633.0 106.5,1623.1 105.9,1607.9ZM133.7,1650.2 137.6,1641.0 133.7,1621.1 133.7,1613.2 140.3,1602.6 146.9,1598.6 152.2,1588.0 156.1,1586.7 173.3,1588.0 169.4,1598.6 164.1,1614.5 153.5,1611.9 152.2,1627.7 142.9,1641.0 138.9,1650.9Z" fill="#fff" fill-rule="evenodd" stroke="#222" stroke-width="0.6"/>
<path d="M424.2,1584.1 432.1,1585.4 442.7,1582.8 446.7,1584.1 454.6,1588.0 457.2,1596.0 462.5,1606.6 465.2,1614.5 465.2,1622.4 455.9,1621.1 446.7,1614.5 438.7,1609.2 432.1,1601.3 426.8,1593.3Z" fill="#fff" fill-rule="evenodd" stroke="#222" stroke-width="0.6"/>
<path d="M434.8,1623.8 444.0,1622.4 455.9,1622.4 465.2,1625.1 465.2,1638.3 455.9,1641.0 445.3,1643.6 437.4,1647.6 434.8,1641.0 437.4,1631.7Z" fill="#fff" fill-rule="evenodd" stroke="#222" stroke-width="0.6"/>
<path d="M443.5,1624.6 454.1,1623.3 464.7,1625.9 464.7,1640.5 458.0,1641.8 443.5,1643.1 439.5,1648.4 434.2,1647.1 438.2,1637.8 442.2,1629.9Z" fill="#fff" fill-rule="evenodd" stroke="#222" stroke-width="0.6"/>
<path d="M152.5,1625.9 161.7,1618.0 169.7,1619.3 169.7,1627.2 185.6,1628.6 204.1,1625.9 209.4,1631.2 219.9,1635.2 230.5,1636.5 225.2,1649.7 221.3,1657.7 209.4,1666.9 200.1,1674.8 196.8,1685.4 193.5,1685.4 190.8,1674.8 186.9,1668.2 187.0,1664.8 185.4,1661.6 175.1,1664.0 165.6,1664.8 157.6,1658.4 152.9,1651.3 141.9,1651.0 139.3,1648.4 145.9,1640.5Z" fill="#fff" fill-rule="evenodd" stroke="#222" stroke-width="0.6"/>
<path d="M604.2,1515.8 608.2,1519.8 620.1,1521.8 628.0,1525.7 636.0,1531.7 645.9,1539.6 651.8,1543.6 655.8,1547.6 657.8,1553.5 663.7,1559.5 659.8,1567.4 657.8,1571.4 647.9,1575.3 645.9,1579.3 641.9,1571.4 643.9,1559.5 639.9,1551.5 634.0,1545.6 632.0,1539.6 622.1,1533.7 612.1,1535.7 608.2,1527.7 604.2,1521.8Z" fill="#fff" fill-rule="evenodd" stroke="#222" stroke-width="0.6"/>
<path d="M501.0,1548.6 518.9,1547.6 538.7,1551.5 554.6,1555.5 558.6,1559.5 554.6,1565.4 538.7,1567.4 518.9,1569.4 509.0,1571.4 505.0,1565.4 503.0,1557.5Z" fill="#fff" fill-rule="evenodd" stroke="#222" stroke-width="0.6"/>
<path d="M566.5,1557.5 576.4,1559.5 578.4,1565.4 574.4,1573.4 568.5,1575.3 565.5,1567.4Z" fill="#fff" fill-rule="evenodd" stroke="#222" stroke-width="0.6"/>
<path d="M501.0,1530.7 516.9,1528.7 522.9,1533.7 518.9,1539.6 509.0,1541.6 502.0,1537.7Z" fill="#fff" fill-rule="evenodd" stroke="#222" stroke-width="0.6"/>
<path d="M580.4,1510.9 590.3,1513.8 604.2,1516.8 598.3,1522.8 586.3,1523.8 578.4,1521.8Z" fill="#fff" fill-rule="evenodd" stroke="#222" stroke-width="0.6"/>
<path d="M502.3,1651.9 510.3,1651.3 517.5,1654.6 520.8,1659.2 526.1,1664.5 530.1,1665.8 531.4,1669.8 528.8,1673.1 523.5,1673.8 519.5,1675.7 518.2,1681.0 516.9,1683.7 506.3,1683.0 501.0,1683.7 497.0,1685.0 494.4,1686.3 496.4,1681.0 501.0,1671.8 502.3,1663.8 501.0,1657.2Z" fill="#fff" fill-rule="evenodd" stroke="#222" stroke-width="0.6"/>
<path d="M440.8,1729.1 451.4,1719.8 454.1,1723.8 455.4,1729.1 448.8,1733.0 440.8,1735.7Z" fill="#fff" fill-rule="evenodd" stroke="#222" stroke-width="0.6"/>
<path d="M366.8,1775.9 378.7,1774.6 385.3,1781.2 388.0,1787.8 378.7,1793.1 370.8,1798.4 366.8,1803.7 365.5,1793.1 366.8,1783.8Z" fill="#fff" fill-rule="evenodd" stroke="#222" stroke-width="0.6"/>
<clipPath id="wclip2"><path clip-rule="evenodd" d="M309.8,1558.4 314.5,1553.1 318.4,1565.0 320.4,1579.5 328.4,1587.5 338.9,1598.0 336.3,1602.0 325.7,1594.1 316.5,1587.5 311.2,1579.5 308.5,1568.9Z"/><path clip-rule="evenodd" d="M278.9,1554.1 286.9,1551.4 298.8,1550.1 304.1,1559.4 301.4,1566.0 293.5,1572.6 285.6,1580.5 280.3,1585.8 277.6,1575.2 276.3,1562.0Z"/><path clip-rule="evenodd" d="M134.6,1454.3 135.6,1446.4 144.6,1444.4 145.6,1437.5 146.5,1428.5 155.5,1426.5 161.4,1422.6 169.4,1420.6 173.3,1415.6 181.3,1411.7 187.2,1417.6 193.2,1416.6 196.2,1408.7 204.1,1401.7 207.1,1397.8 215.0,1391.8 224.9,1389.8 240.8,1388.8 248.7,1388.8 258.7,1384.9 267.6,1386.9 271.5,1388.8 275.5,1394.8 276.5,1405.7 282.5,1407.7 290.4,1410.7 298.3,1415.6 308.3,1417.6 316.2,1417.6 323.1,1420.6 325.1,1426.5 328.1,1434.5 336.0,1440.4 346.0,1443.4 355.9,1444.4 362.8,1450.3 367.8,1452.3 371.7,1458.3 371.7,1470.2 375.7,1472.2 373.7,1480.1 378.7,1488.0 379.7,1498.0 381.7,1507.9 383.2,1507.4 379.2,1510.0 385.8,1514.0 392.4,1516.6 399.0,1515.3 407.0,1519.3 414.9,1520.6 420.2,1519.3 424.2,1525.9 425.5,1531.2 429.5,1533.8 438.7,1532.5 446.7,1536.5 448.7,1547.0 465.2,1548.4 480.0,1548.4 491.1,1544.6 494.1,1547.6 491.1,1557.5 485.2,1562.5 483.2,1573.4 479.2,1587.3 475.2,1593.2 473.3,1587.3 475.2,1567.4 473.3,1565.4 459.4,1564.4 451.4,1565.4 449.3,1564.2 446.7,1555.0 436.1,1556.3 425.5,1552.3 422.9,1548.4 416.2,1549.0 407.0,1547.0 399.0,1545.7 393.8,1549.7 385.8,1556.3 383.2,1557.6 380.5,1547.0 379.2,1535.1 372.6,1532.5 364.7,1537.8 362.0,1548.4 359.4,1553.7 358.0,1561.6 364.7,1574.8 372.6,1584.1 383.2,1596.0 396.4,1606.6 412.3,1611.9 420.2,1615.8 420.2,1619.8 407.0,1619.8 396.4,1618.5 385.8,1617.1 380.5,1614.5 372.6,1609.2 364.7,1601.3 359.4,1594.7 354.1,1588.0 352.1,1574.8 352.8,1561.6 354.1,1548.4 354.1,1532.5 356.1,1519.3 351.4,1515.3 340.8,1511.3 336.9,1504.7 332.9,1506.0 330.3,1499.4 323.7,1494.1 313.1,1495.5 310.4,1483.6 297.2,1469.0 292.4,1462.3 286.4,1456.3 275.5,1448.4 271.5,1447.4 268.6,1434.5 260.6,1432.5 254.7,1428.5 246.7,1427.5 237.8,1430.5 231.9,1437.5 228.9,1445.4 226.9,1451.3 217.0,1454.3 209.0,1456.3 201.1,1456.3 193.2,1458.3 187.2,1456.3 177.3,1450.3 169.4,1450.3 166.4,1452.3 157.5,1459.3 149.5,1459.3 141.6,1457.3 136.6,1456.3ZM194.2,1440.4 201.1,1428.5 209.0,1420.6 217.0,1412.7 224.9,1411.7 225.9,1420.6 223.9,1432.5 219.0,1440.4 209.0,1443.4 207.1,1447.4 204.1,1445.4Z"/><path clip-rule="evenodd" d="M133.7,1511.3 148.2,1509.3 158.1,1510.0 160.1,1513.3 167.4,1516.0 168.7,1521.9 170.7,1527.9 162.8,1537.8 164.1,1548.4 166.7,1555.0 170.7,1561.6 161.4,1572.8 174.7,1563.6 186.6,1555.0 195.8,1547.0 201.1,1547.0 203.8,1532.5 207.7,1524.6 222.3,1517.9 235.5,1514.0 248.7,1509.3 256.0,1506.0 262.0,1508.0 267.2,1513.3 275.2,1517.9 284.4,1521.2 275.2,1529.8 267.2,1536.5 256.7,1541.8 246.7,1545.1 254.0,1547.0 256.7,1550.3 260.6,1555.0 263.3,1564.2 265.9,1573.5 271.2,1580.1 265.9,1584.1 255.3,1582.8 247.4,1577.5 236.8,1582.8 235.5,1585.4 240.8,1594.7 228.9,1594.7 217.0,1597.3 203.8,1600.0 195.8,1603.9 194.5,1609.2 182.6,1607.9 170.7,1617.1 169.4,1622.4 172.0,1627.7 182.6,1630.4 194.5,1627.7 202.4,1626.4 209.0,1631.7 222.3,1635.7 231.5,1637.0 230.2,1641.0 222.3,1654.2 217.0,1662.1 213.0,1669.0 185.2,1669.0 182.6,1664.8 172.0,1664.8 161.4,1659.5 153.5,1652.9 152.2,1656.8 145.6,1654.2 135.0,1650.2 129.7,1644.9 125.7,1635.7 116.5,1633.0 106.5,1623.1 107.2,1607.9 105.2,1596.0 111.2,1578.8 109.8,1573.5 111.2,1568.2 115.1,1558.9 119.1,1548.4 123.1,1537.8 127.0,1531.2 128.4,1524.6 132.3,1519.3ZM118.4,1548.4 123.1,1535.1 129.7,1533.8 140.9,1537.8 138.9,1551.0 137.6,1569.5 135.0,1576.1 127.0,1581.4 121.7,1578.8 115.1,1569.5 111.8,1566.9 116.5,1555.0ZM104.6,1596.0 111.2,1582.8 116.5,1584.1 121.7,1593.3 128.4,1602.6 133.7,1613.2 133.7,1627.7 125.7,1635.7 116.5,1633.0 106.5,1623.1 105.9,1607.9ZM133.7,1650.2 137.6,1641.0 133.7,1621.1 133.7,1613.2 140.3,1602.6 146.9,1598.6 152.2,1588.0 156.1,1586.7 173.3,1588.0 169.4,1598.6 164.1,1614.5 153.5,1611.9 152.2,1627.7 142.9,1641.0 138.9,1650.9Z"/><path clip-rule="evenodd" d="M424.2,1584.1 432.1,1585.4 442.7,1582.8 446.7,1584.1 454.6,1588.0 457.2,1596.0 462.5,1606.6 465.2,1614.5 465.2,1622.4 455.9,1621.1 446.7,1614.5 438.7,1609.2 432.1,1601.3 426.8,1593.3Z"/><path clip-rule="evenodd" d="M434.8,1623.8 444.0,1622.4 455.9,1622.4 465.2,1625.1 465.2,1638.3 455.9,1641.0 445.3,1643.6 437.4,1647.6 434.8,1641.0 437.4,1631.7Z"/><path clip-rule="evenodd" d="M443.5,1624.6 454.1,1623.3 464.7,1625.9 464.7,1640.5 458.0,1641.8 443.5,1643.1 439.5,1648.4 434.2,1647.1 438.2,1637.8 442.2,1629.9Z"/><path clip-rule="evenodd" d="M152.5,1625.9 161.7,1618.0 169.7,1619.3 169.7,1627.2 185.6,1628.6 204.1,1625.9 209.4,1631.2 219.9,1635.2 230.5,1636.5 225.2,1649.7 221.3,1657.7 209.4,1666.9 200.1,1674.8 196.8,1685.4 193.5,1685.4 190.8,1674.8 186.9,1668.2 187.0,1664.8 185.4,1661.6 175.1,1664.0 165.6,1664.8 157.6,1658.4 152.9,1651.3 141.9,1651.0 139.3,1648.4 145.9,1640.5Z"/><path clip-rule="evenodd" d="M604.2,1515.8 608.2,1519.8 620.1,1521.8 628.0,1525.7 636.0,1531.7 645.9,1539.6 651.8,1543.6 655.8,1547.6 657.8,1553.5 663.7,1559.5 659.8,1567.4 657.8,1571.4 647.9,1575.3 645.9,1579.3 641.9,1571.4 643.9,1559.5 639.9,1551.5 634.0,1545.6 632.0,1539.6 622.1,1533.7 612.1,1535.7 608.2,1527.7 604.2,1521.8Z"/><path clip-rule="evenodd" d="M501.0,1548.6 518.9,1547.6 538.7,1551.5 554.6,1555.5 558.6,1559.5 554.6,1565.4 538.7,1567.4 518.9,1569.4 509.0,1571.4 505.0,1565.4 503.0,1557.5Z"/><path clip-rule="evenodd" d="M566.5,1557.5 576.4,1559.5 578.4,1565.4 574.4,1573.4 568.5,1575.3 565.5,1567.4Z"/><path clip-rule="evenodd" d="M501.0,1530.7 516.9,1528.7 522.9,1533.7 518.9,1539.6 509.0,1541.6 502.0,1537.7Z"/><path clip-rule="evenodd" d="M580.4,1510.9 590.3,1513.8 604.2,1516.8 598.3,1522.8 586.3,1523.8 578.4,1521.8Z"/><path clip-rule="evenodd" d="M502.3,1651.9 510.3,1651.3 517.5,1654.6 520.8,1659.2 526.1,1664.5 530.1,1665.8 531.4,1669.8 528.8,1673.1 523.5,1673.8 519.5,1675.7 518.2,1681.0 516.9,1683.7 506.3,1683.0 501.0,1683.7 497.0,1685.0 494.4,1686.3 496.4,1681.0 501.0,1671.8 502.3,1663.8 501.0,1657.2Z"/><path clip-rule="evenodd" d="M440.8,1729.1 451.4,1719.8 454.1,1723.8 455.4,1729.1 448.8,1733.0 440.8,1735.7Z"/><path clip-rule="evenodd" d="M366.8,1775.9 378.7,1774.6 385.3,1781.2 388.0,1787.8 378.7,1793.1 370.8,1798.4 366.8,1803.7 365.5,1793.1 366.8,1783.8Z"/></clipPath>
<path clip-path="url(#wclip2)" d="M165 1426L169 1441M165 1426L175 1419M175 1419L183 1424M183 1424L173 1442M173 1442L170 1441M169 1441L170 1441M138 1444L133 1455M132 1584L132 1582M119 1593L132 1584M116 1574L112 1579M414 1532L416 1522M417 1536L432 1531M414 1532L417 1536M132 1584L140 1591M140 1591L128 1607M444 1546L446 1532M444 1546L434 1546M434 1546L433 1532M449 1551L444 1546M449 1551L461 1548M449 1551L446 1559M431 1549L436 1561M431 1549L434 1546M419 1548L431 1549M417 1536L419 1548M522 1669L536 1671M175 1418L175 1419M165 1426L162 1425M152 1440L151 1431M152 1440L169 1441M162 1425L151 1431M149 1444L152 1440M151 1431L146 1428M175 1418L179 1411M183 1424L191 1425M176 1444L189 1444M173 1442L176 1444M189 1444L191 1425M404 1532L414 1532M401 1548L404 1532M419 1548L418 1548M446 1645L448 1639M448 1639L433 1634M460 1636L461 1638M451 1634L448 1639M451 1634L460 1636M451 1634L449 1626M449 1626L434 1625M159 1653L151 1651M151 1651L145 1654M163 1668L159 1653M179 1663L179 1655M179 1655L175 1651M159 1653L164 1649M164 1649L175 1651M151 1651L150 1638M150 1638L148 1637M132 1635L133 1652M132 1582L144 1573M144 1573L142 1562M142 1562L135 1560M526 1560L522 1567M526 1560L523 1548M507 1558L522 1567M507 1558L507 1557M507 1557L511 1547M461 1548L464 1561M464 1561L463 1564M446 1559L452 1567M591 1515L585 1515M595 1520L591 1515M492 1548L489 1551M489 1551L479 1549M479 1549L479 1549M504 1532L508 1544M494 1558L489 1551M464 1561L477 1559M477 1559L479 1549M390 1548L374 1549M371 1474L372 1482M374 1484L372 1482M390 1548L388 1533M401 1548L390 1548M404 1532L399 1530M388 1533L399 1530M399 1530L399 1514M273 1382L268 1397M268 1397L283 1403M236 1395L235 1384M254 1381L254 1394M236 1395L239 1397M239 1397L254 1394M266 1398L268 1397M266 1398L255 1395M255 1395L254 1394M236 1395L223 1400M219 1387L219 1397M219 1397L223 1400M191 1425L193 1424M193 1424L194 1411M219 1397L208 1399M296 1414L293 1425M299 1427L293 1425M299 1427L312 1421M179 1663L190 1667M190 1667L192 1669M192 1669L193 1676M193 1676L193 1676M206 1661L192 1669M206 1661L206 1658M190 1667L194 1650M206 1658L194 1650M179 1655L193 1649M194 1650L193 1649M419 1624L415 1609M402 1621L409 1608M444 1595L431 1593M444 1595L448 1608M448 1608L448 1609M429 1591L431 1593M452 1620L448 1609M449 1626L452 1620M389 1607L388 1596M388 1608L391 1617M388 1608L389 1607M507 1664L513 1669M521 1667L513 1669M507 1664L508 1651M521 1667L522 1669M459 1603L448 1608M452 1620L466 1619M460 1636L470 1621M526 1560L537 1561M581 1561L567 1563M567 1563L568 1575M165 1574L174 1577M165 1574L161 1560M180 1562L174 1577M159 1457L153 1456M153 1456L150 1459M170 1441L159 1457M175 1456L176 1444M149 1444L153 1456M193 1649L194 1642M175 1651L180 1639M180 1639L194 1642M145 1592L149 1595M145 1592L149 1577M159 1588L162 1576M149 1577L162 1576M144 1573L149 1577M132 1582L132 1582M140 1591L145 1592M174 1607L177 1603M173 1594L177 1603M174 1607L163 1606M165 1637L176 1633M165 1637L160 1634M160 1634L158 1621M176 1633L178 1623M161 1619L158 1621M161 1619L175 1621M164 1649L165 1637M180 1639L176 1633M150 1638L160 1634M150 1620L158 1621M195 1640L194 1642M189 1621L195 1640M174 1607L175 1621M190 1603L177 1603M132 1635L132 1634M132 1634L132 1627M165 1574L162 1576M161 1560L161 1560M142 1562L144 1560M144 1560L161 1560M477 1559L481 1566M507 1558L504 1574M448 1590L460 1595M444 1595L448 1590M541 1558L554 1563M541 1558L539 1548M554 1563L556 1561M537 1561L541 1558M332 1491L329 1503M332 1491L345 1491M345 1491L348 1499M348 1499L337 1507M337 1507L329 1503M347 1516L353 1512M355 1503L353 1512M355 1503L348 1499M330 1487L332 1491M330 1487L314 1487M312 1498L314 1487M371 1474L371 1474M371 1474L368 1454M353 1443L359 1454M359 1454L368 1454M353 1512L361 1518M353 1531L358 1529M361 1518L358 1529M513 1669L508 1680M495 1680L508 1680M283 1547L282 1561M361 1559L358 1547M353 1531L356 1546M297 1446L303 1442M297 1446L283 1435M303 1442L299 1427M283 1435L282 1428M293 1425L283 1427M283 1427L282 1428M283 1427L283 1406M239 1397L241 1412M255 1395L252 1412M241 1412L252 1412M241 1412L240 1413M223 1400L224 1410M224 1410L240 1413M180 1461L193 1450M196 1453L193 1450M189 1444L192 1447M193 1450L192 1447M203 1455L196 1453M203 1455L204 1455M315 1473L317 1457M315 1473L334 1472M334 1472L334 1471M334 1471L330 1460M330 1460L325 1456M325 1456L318 1455M317 1457L318 1455M335 1440L325 1456M342 1441L343 1452M343 1452L330 1460M283 1435L277 1444M295 1452L283 1456M297 1446L295 1452M283 1456L277 1444M277 1444L270 1445M311 1442L313 1443M311 1442L315 1424M313 1443L330 1437M315 1424L326 1425M295 1452L301 1461M301 1461L317 1457M303 1442L311 1442M318 1455L313 1443M312 1421L315 1424M335 1440L330 1437M195 1640L207 1637M206 1658L212 1652M212 1652L207 1637M209 1635L207 1637M206 1661L210 1667M193 1676L205 1679M209 1635L224 1640M212 1652L223 1651M224 1640L223 1651M225 1653L223 1651M390 1548L390 1548M585 1515L584 1517M200 1575L191 1570M200 1575L189 1590M191 1570L177 1579M189 1590L179 1584M179 1584L177 1579M174 1577L177 1579M180 1562L183 1559M190 1561L183 1559M190 1561L191 1570M192 1596L192 1600M192 1600L190 1603M173 1594L179 1584M192 1596L189 1590M206 1545L196 1546M206 1545L209 1564M196 1546L193 1558M209 1564L193 1558M210 1566L209 1564M210 1566L221 1562M221 1562L225 1557M222 1548L225 1557M222 1548L208 1544M208 1544L206 1545M190 1561L193 1558M206 1575L210 1566M206 1575L200 1575M192 1596L207 1589M206 1575L208 1578M208 1578L207 1589M132 1634L121 1636M159 1532L164 1529M168 1518L164 1529M161 1560L163 1552M481 1566L477 1574M475 1575L477 1574M298 1470L300 1469M300 1469L315 1474M315 1474L314 1486M314 1487L314 1486M301 1461L300 1469M315 1473L315 1474M330 1487L334 1472M361 1490L372 1482M361 1490L353 1485M371 1474L362 1473M362 1473L353 1485M362 1500L361 1490M355 1503L362 1500M345 1491L349 1485M349 1485L353 1485M356 1546L358 1547M358 1529L369 1533M388 1533L387 1532M371 1536L387 1532M508 1680L508 1680M520 1686L508 1680M285 1564L283 1574M268 1579L266 1577M282 1561L285 1564M262 1563L266 1577M266 1577L252 1581M254 1431L267 1431M253 1429L256 1415M267 1431L274 1427M274 1427L267 1415M256 1415L266 1414M266 1414L267 1415M240 1413L238 1425M238 1425L253 1429M252 1412L256 1415M282 1428L274 1427M283 1405L267 1415M266 1398L266 1414M208 1399L209 1409M222 1414L209 1409M194 1411L207 1412M207 1412L209 1409M238 1425L237 1426M224 1640L226 1638M144 1560L146 1541M134 1545L146 1541M159 1532L148 1532M163 1552L147 1540M148 1532L147 1540M146 1541L147 1540M208 1544L209 1537M209 1537L203 1529M207 1589L209 1593M209 1593L208 1604M504 1532L506 1528M359 1471L342 1473M359 1471L355 1458M348 1459L355 1458M348 1459L340 1471M340 1471L342 1473M362 1473L359 1471M349 1485L342 1473M359 1454L355 1458M343 1452L348 1459M334 1471L340 1471M383 1517L383 1517M383 1517L374 1515M373 1514L374 1515M373 1514L371 1504M372 1502L371 1504M387 1532L383 1517M369 1533L374 1515M361 1518L373 1514M362 1500L371 1504M374 1484L372 1502M167 1517L168 1518M222 1548L223 1548M225 1557L234 1559M223 1548L239 1542M234 1559L240 1546M239 1542L240 1546M252 1527L251 1520M252 1527L265 1530M255 1514L251 1520M255 1514L271 1515M271 1515L267 1528M267 1528L265 1530M249 1530L255 1545M249 1530L252 1527M268 1543L265 1530M253 1503L255 1514M240 1515L251 1520M284 1530L267 1528M221 1562L226 1574M208 1578L221 1582M226 1574L221 1582M245 1575L256 1563M245 1575L240 1575M239 1573L240 1575M239 1573L237 1562M237 1562L249 1557M249 1557L256 1563M262 1563L256 1563M252 1581L245 1575M234 1559L237 1562M226 1574L239 1573M240 1546L249 1550M249 1550L249 1557M255 1545L249 1550M283 1574L286 1579M315 1560L316 1561M316 1561L309 1575M298 1559L294 1562M313 1549L315 1560M298 1545L298 1559M316 1582L309 1575M285 1564L294 1562M317 1587L316 1582M388 1608L371 1610M375 1592L368 1606M361 1576L345 1573M361 1576L358 1562M225 1428L225 1437M225 1437L218 1444M218 1444L212 1442M237 1426L225 1428M207 1412L210 1425M203 1455L212 1442M193 1424L206 1428M218 1444L223 1456M609 1533L613 1515M610 1534L627 1532M628 1530L627 1532M453 1726L451 1723M239 1536L243 1532M239 1536L226 1532M243 1532L233 1519M226 1532L222 1527M222 1527L222 1524M222 1524L227 1518M227 1518L233 1519M249 1530L243 1532M239 1542L239 1536M223 1548L226 1532M240 1515L233 1519M209 1537L222 1527M211 1518L222 1524M221 1593L223 1587M223 1587L236 1588M239 1594L236 1588M209 1593L221 1593M221 1582L223 1587M240 1575L236 1588M317 1587L330 1592M329 1602L330 1592M330 1592L331 1591M361 1576L361 1576M375 1592L374 1588M629 1544L639 1546M656 1576L653 1562M653 1562L643 1562M658 1555L645 1540M653 1562L656 1559M656 1559L658 1555M639 1546L645 1540M130 1519L129 1529M130 1519L135 1515M129 1529L147 1531M135 1515L148 1517M147 1531L149 1519M149 1519L148 1517M129 1530L129 1529M148 1532L147 1531M149 1507L148 1517M167 1517L149 1519M371 1800L363 1798M453 1726L449 1737M388 1785L373 1784M373 1784L373 1799M369 1781L373 1784M374 1588L355 1593M361 1576L355 1592" fill="none" stroke="#d2d2d2" stroke-width="0.7"/>
</g>
<path d="M492.4,1697.3 493.0,1691.6 497.0,1689.0 502.0,1684.0 507.0,1682.5 512.0,1681.0 516.0,1678.0 519.5,1677.0 520.0,1688.0 519.0,1694.7 507.0,1697.3Z" fill="#fff"/><path d="M492.5 1697.0L492.1 1693.9L492.9 1690.7L491.0 1688.6M493.7 1696.9L495.2 1694.5L494.7 1691.5L494.1 1688.6M494.6 1696.9L494.7 1693.2L495.1 1689.7M495.4 1696.9L494.8 1693.7L496.5 1691.6L496.1 1688.7M496.7 1696.8L496.4 1692.9L496.5 1689.3M497.9 1696.7L496.8 1694.5L499.3 1692.1L498.3 1689.2M498.9 1696.7L498.4 1693.9L499.1 1690.7L499.4 1686.9M500.1 1696.6L500.7 1692.6L501.2 1690.3L501.4 1686.4M501.2 1696.6L502.2 1694.1L500.6 1691.0L502.3 1688.9L500.0 1684.9M502.4 1696.5L501.8 1694.2L503.6 1690.7L502.8 1688.6L503.1 1686.5L503.6 1683.8M503.7 1696.4L503.2 1692.4L504.0 1690.3L502.8 1688.2L504.1 1685.4M504.6 1696.4L504.0 1692.7L505.8 1688.7L504.5 1686.0L505.0 1682.9M505.7 1696.3L507.0 1693.1L505.5 1690.1L504.9 1686.6L507.1 1684.0M506.8 1696.3L506.5 1694.3L505.3 1691.1L507.2 1687.9L507.1 1685.8L507.3 1682.8M507.7 1696.2L506.3 1692.8L508.3 1690.6L507.0 1686.7L508.0 1683.8M508.7 1696.2L508.3 1693.6L508.1 1690.4L509.5 1687.6L508.9 1685.6L508.1 1682.1M509.6 1696.1L508.7 1693.7L510.2 1690.8L509.1 1688.6L510.6 1685.9L510.7 1683.0M510.5 1696.1L511.6 1692.8L509.7 1689.9L510.6 1687.7L511.4 1685.3L509.5 1681.6L511.4 1679.0M511.6 1696.0L510.5 1693.4L512.5 1690.8L511.2 1688.2L511.4 1685.4L512.9 1682.6M512.5 1696.0L513.6 1692.1L512.3 1688.1L513.8 1684.2L513.2 1681.8L513.0 1678.1M513.6 1695.9L512.7 1693.3L513.8 1691.1L514.5 1688.6L514.8 1686.5L514.8 1683.1L514.7 1679.3M514.6 1695.9L513.7 1692.4L515.1 1689.8L514.4 1686.8L515.0 1682.9L513.9 1680.2L514.6 1676.5M515.8 1695.8L515.9 1693.4L514.8 1689.8L517.1 1686.2L516.8 1682.6L516.2 1680.6L514.5 1676.9M516.8 1695.8L516.5 1692.7L517.6 1689.8L515.4 1687.8L515.6 1685.5L518.2 1683.4L515.5 1679.7L516.2 1676.7M517.7 1695.7L518.0 1692.4L516.8 1689.7L516.6 1687.1L518.4 1684.0L516.5 1681.2L517.3 1678.8L518.6 1675.6M518.7 1695.7L518.5 1692.4L518.7 1689.7L518.5 1686.3L518.6 1682.9L518.8 1680.4L517.4 1677.0M519.7 1695.6L521.0 1691.9L520.9 1689.1L519.0 1685.5L518.6 1682.6L520.2 1679.0L520.6 1675.2" fill="none" stroke="#000" stroke-width="1.2"/>
<path d="M134.6,1454.3 135.6,1446.4 144.6,1444.4 145.6,1437.5 146.5,1428.5 155.5,1426.5 161.4,1422.6 169.4,1420.6 173.3,1415.6 181.3,1411.7 187.2,1417.6 193.2,1416.6 196.2,1408.7 204.1,1401.7 207.1,1397.8 215.0,1391.8 224.9,1389.8 240.8,1388.8 248.7,1388.8 258.7,1384.9 267.6,1386.9 271.5,1388.8 275.5,1394.8 276.5,1405.7 282.5,1407.7 290.4,1410.7 298.3,1415.6 308.3,1417.6 316.2,1417.6 323.1,1420.6 325.1,1426.5 328.1,1434.5 336.0,1440.4 346.0,1443.4 355.9,1444.4 362.8,1450.3 367.8,1452.3 371.7,1458.3 371.7,1470.2 375.7,1472.2 373.7,1480.1 378.7,1488.0 379.7,1498.0 381.7,1507.9 383.2,1507.4 379.2,1510.0 385.8,1514.0 392.4,1516.6 399.0,1515.3 407.0,1519.3 414.9,1520.6 420.2,1519.3 424.2,1525.9 425.5,1531.2 429.5,1533.8 438.7,1532.5 445.3,1536.5 452.0,1537.1 465.2,1536.5 475.8,1532.5 477.2,1527.7 497.1,1525.7 501.0,1529.7 507.0,1528.7 516.9,1527.7 522.9,1529.7 526.8,1533.7 530.8,1527.7 542.7,1523.8 552.6,1515.8 558.6,1515.8 568.5,1511.9 578.4,1507.9 584.4,1509.9 590.3,1513.8 604.2,1515.8 608.2,1519.8 620.1,1521.8 628.0,1525.7 636.0,1531.7 645.9,1539.6 651.8,1543.6 655.8,1547.6 657.8,1553.5 663.7,1559.5 659.8,1567.4 657.8,1571.4 647.9,1575.3 648.8,1583.3 651.8,1590.2 643.9,1587.3 637.9,1585.3 630.0,1589.2 622.1,1597.2 616.1,1603.1 606.2,1607.1 604.2,1617.0 602.2,1625.0 598.3,1630.9 594.3,1634.9 590.3,1642.8 588.3,1650.7 586.3,1658.7 582.1,1660.7 577.3,1670.6 575.8,1672.2 571.8,1669.6 567.8,1660.3 555.9,1659.0 552.0,1661.6 549.3,1670.9 554.6,1681.5 545.3,1678.8 538.7,1670.9 536.1,1664.3 530.8,1664.3 530.8,1670.9 525.5,1676.2 525.5,1692.0 518.9,1694.7 507.0,1697.3 492.4,1697.3 493.8,1690.7 492.4,1688.1 483.2,1696.0 475.2,1700.0 472.6,1706.6 476.6,1711.9 471.3,1714.5 469.9,1719.8 464.7,1723.8 456.7,1729.1 448.8,1733.0 440.8,1735.7 436.9,1739.7 430.3,1746.3 423.7,1754.2 417.0,1759.5 410.4,1766.1 399.8,1772.7 370.8,1798.4 365.5,1803.7 354.9,1806.3 353.6,1810.3 354.9,1822.2 354.9,1832.8 357.6,1843.4 356.2,1856.6 352.3,1869.8 349.6,1883.0 350.3,1901.6 344.3,1902.9 339.0,1906.9 333.8,1916.1 336.4,1918.8 341.7,1921.4 336.4,1920.1 329.8,1921.4 324.5,1924.1 320.5,1932.0 315.2,1937.3 309.9,1940.6 304.7,1938.6 298.0,1932.0 291.4,1922.7 287.5,1913.5 284.8,1902.9 280.8,1891.0 275.6,1880.4 268.9,1869.8 262.3,1856.6 258.4,1846.0 253.1,1832.8 247.8,1820.9 242.5,1810.3 237.2,1797.1 233.2,1777.2 230.6,1764.0 229.2,1759.5 227.9,1752.9 226.6,1746.3 225.2,1739.7 223.9,1733.0 222.6,1726.4 223.9,1717.2 225.2,1711.9 222.6,1706.6 221.3,1700.0 219.9,1693.4 218.6,1688.1 219.9,1686.8 218.6,1690.7 217.3,1696.0 214.7,1702.6 206.7,1707.9 198.8,1711.9 192.2,1713.2 185.6,1710.6 176.3,1703.9 169.7,1696.0 163.1,1688.1 157.8,1682.8 158.4,1681.5 160.8,1679.9 164.0,1679.1 170.3,1677.5 176.7,1676.7 181.4,1673.5 185.4,1668.0 183.0,1669.6 178.3,1672.7 170.3,1674.3 160.8,1671.9 154.4,1668.0 151.3,1663.2 149.7,1658.4 148.1,1655.3 143.3,1653.7 135.4,1652.1 131.4,1648.9 129.8,1642.6 127.5,1637.8 121.9,1636.2 117.1,1633.8 114.8,1629.9 110.0,1622.3 106.5,1623.1 107.2,1607.9 105.2,1596.0 111.2,1578.8 109.8,1573.5 111.2,1568.2 115.1,1558.9 119.1,1548.4 123.1,1537.8 127.0,1531.2 128.4,1524.6 132.3,1519.3 133.7,1511.3 138.9,1507.4 142.9,1499.4 145.6,1491.5 150.8,1483.6 158.8,1474.3 160.4,1464.2 163.4,1458.3 157.5,1459.3 149.5,1459.3 141.6,1457.3 136.6,1456.3Z" fill="none" stroke="#000" stroke-width="1.3" stroke-linejoin="round"/>
<path d="M117.4 1634.4L119.5 1635.8L120.9 1636.5L120.7 1636.1L124.9 1637.1L126.7 1636.3L127.4 1637.1L128.4 1639.6L127.8 1640.3L129.2 1643.7L130.9 1643.3L131.4 1644.8L131.3 1646.4L130.1 1649.9L132.0 1649.2L135.3 1652.0L134.9 1653.3L137.1 1652.9L137.8 1653.9L140.6 1654.3L142.7 1652.9L142.9 1652.8L144.0 1653.1L146.0 1655.0L146.8 1655.8L148.5 1656.4L150.5 1658.3L149.8 1660.0L151.3 1660.4L152.5 1662.0L153.0 1665.7L152.1 1667.1L154.4 1668.0" fill="none" stroke="#000" stroke-width="1.8"/>
<path d="M158.4 1683.8L159.2 1680.8L159.5 1680.3L162.3 1680.2L163.7 1679.8L165.0 1679.5L167.7 1678.1L168.8 1678.4L169.5 1677.6L172.7 1676.7L174.3 1677.6L176.0 1676.5L175.6 1677.5L179.1 1675.5L178.8 1673.8L181.4 1673.5" fill="none" stroke="#000" stroke-width="1.8"/>
<clipPath id="clip3"><path d="M938.6,1454.3 939.6,1446.4 948.6,1444.4 949.6,1437.5 950.5,1428.5 959.5,1426.5 965.4,1422.6 973.4,1420.6 977.3,1415.6 985.3,1411.7 991.2,1417.6 997.2,1416.6 1000.2,1408.7 1008.1,1401.7 1011.1,1397.8 1019.0,1391.8 1028.9,1389.8 1044.8,1388.8 1052.7,1388.8 1062.7,1384.9 1071.6,1386.9 1075.5,1388.8 1079.5,1394.8 1080.5,1405.7 1086.5,1407.7 1094.4,1410.7 1102.3,1415.6 1112.3,1417.6 1120.2,1417.6 1127.1,1420.6 1129.1,1426.5 1132.1,1434.5 1140.0,1440.4 1150.0,1443.4 1159.9,1444.4 1166.8,1450.3 1171.8,1452.3 1175.7,1458.3 1175.7,1470.2 1179.7,1472.2 1177.7,1480.1 1182.7,1488.0 1183.7,1498.0 1185.7,1507.9 1187.2,1507.4 1183.2,1510.0 1189.8,1514.0 1196.4,1516.6 1203.0,1515.3 1211.0,1519.3 1218.9,1520.6 1224.2,1519.3 1228.2,1525.9 1229.5,1531.2 1233.5,1533.8 1242.7,1532.5 1249.3,1536.5 1256.0,1537.1 1269.2,1536.5 1279.8,1532.5 1281.2,1527.7 1301.1,1525.7 1305.0,1529.7 1311.0,1528.7 1320.9,1527.7 1326.9,1529.7 1330.8,1533.7 1334.8,1527.7 1346.7,1523.8 1356.6,1515.8 1362.6,1515.8 1372.5,1511.9 1382.4,1507.9 1388.4,1509.9 1394.3,1513.8 1408.2,1515.8 1412.2,1519.8 1424.1,1521.8 1432.0,1525.7 1440.0,1531.7 1449.9,1539.6 1455.8,1543.6 1459.8,1547.6 1461.8,1553.5 1467.7,1559.5 1463.8,1567.4 1461.8,1571.4 1451.9,1575.3 1452.8,1583.3 1455.8,1590.2 1447.9,1587.3 1441.9,1585.3 1434.0,1589.2 1426.1,1597.2 1420.1,1603.1 1410.2,1607.1 1408.2,1617.0 1406.2,1625.0 1402.3,1630.9 1398.3,1634.9 1394.3,1642.8 1392.3,1650.7 1390.3,1658.7 1386.1,1660.7 1381.3,1670.6 1379.8,1672.2 1375.8,1669.6 1371.8,1660.3 1359.9,1659.0 1356.0,1661.6 1353.3,1670.9 1358.6,1681.5 1349.3,1678.8 1342.7,1670.9 1340.1,1664.3 1334.8,1664.3 1334.8,1670.9 1329.5,1676.2 1329.5,1692.0 1322.9,1694.7 1311.0,1697.3 1296.4,1697.3 1297.8,1690.7 1296.4,1688.1 1287.2,1696.0 1279.2,1700.0 1276.6,1706.6 1280.6,1711.9 1275.3,1714.5 1273.9,1719.8 1268.7,1723.8 1260.7,1729.1 1252.8,1733.0 1244.8,1735.7 1240.9,1739.7 1234.3,1746.3 1227.7,1754.2 1221.0,1759.5 1214.4,1766.1 1203.8,1772.7 1174.8,1798.4 1169.5,1803.7 1158.9,1806.3 1157.6,1810.3 1158.9,1822.2 1158.9,1832.8 1161.6,1843.4 1160.2,1856.6 1156.3,1869.8 1153.6,1883.0 1154.3,1901.6 1148.3,1902.9 1143.0,1906.9 1137.8,1916.1 1140.4,1918.8 1145.7,1921.4 1140.4,1920.1 1133.8,1921.4 1128.5,1924.1 1124.5,1932.0 1119.2,1937.3 1113.9,1940.6 1108.7,1938.6 1102.0,1932.0 1095.4,1922.7 1091.5,1913.5 1088.8,1902.9 1084.8,1891.0 1079.6,1880.4 1072.9,1869.8 1066.3,1856.6 1062.4,1846.0 1057.1,1832.8 1051.8,1820.9 1046.5,1810.3 1041.2,1797.1 1037.2,1777.2 1034.6,1764.0 1033.2,1759.5 1031.9,1752.9 1030.6,1746.3 1029.2,1739.7 1027.9,1733.0 1026.6,1726.4 1027.9,1717.2 1029.2,1711.9 1026.6,1706.6 1025.3,1700.0 1023.9,1693.4 1022.6,1688.1 1023.9,1686.8 1022.6,1690.7 1021.3,1696.0 1018.7,1702.6 1010.7,1707.9 1002.8,1711.9 996.2,1713.2 989.6,1710.6 980.3,1703.9 973.7,1696.0 967.1,1688.1 961.8,1682.8 962.4,1681.5 964.8,1679.9 968.0,1679.1 974.3,1677.5 980.7,1676.7 985.4,1673.5 989.4,1668.0 987.0,1669.6 982.3,1672.7 974.3,1674.3 964.8,1671.9 958.4,1668.0 955.3,1663.2 953.7,1658.4 952.1,1655.3 947.3,1653.7 939.4,1652.1 935.4,1648.9 933.8,1642.6 931.5,1637.8 925.9,1636.2 921.1,1633.8 918.8,1629.9 914.0,1622.3 910.5,1623.1 911.2,1607.9 909.2,1596.0 915.2,1578.8 913.8,1573.5 915.2,1568.2 919.1,1558.9 923.1,1548.4 927.1,1537.8 931.0,1531.2 932.4,1524.6 936.3,1519.3 937.7,1511.3 942.9,1507.4 946.9,1499.4 949.6,1491.5 954.8,1483.6 962.8,1474.3 964.4,1464.2 967.4,1458.3 961.5,1459.3 953.5,1459.3 945.6,1457.3 940.6,1456.3Z"/></clipPath>
<g clip-path="url(#clip3)">
<path d="M1046 1399L1030 1366L1060 636L1080 1231L1073 1359L1062 1392ZM1068 1402L1062 1392L1073 1359L1087 1397L1079 1404ZM1068 1402L1062 1392L1046 1399L1044 1403L1050 1419L1059 1422L1061 1421ZM1068 1402L1061 1421L1081 1416L1079 1404ZM1079 1404L1087 1397L1097 1400L1101 1415L1100 1416L1084 1419L1081 1416ZM1124 1398L1108 1390L1097 1400L1101 1415L1117 1413ZM1136 1400L1142 1419L1141 1421L1127 1427L1117 1413L1124 1398L1127 1397ZM1044 1447L1037 1436L1040 1426L1050 1419L1059 1422L1065 1438L1064 1439ZM1061 1421L1059 1422L1065 1438L1081 1436L1084 1419L1081 1416ZM1100 1439L1090 1441L1081 1436L1084 1419L1100 1416L1103 1437ZM1121 1439L1127 1427L1117 1413L1101 1415L1100 1416L1103 1437ZM1147 1444L1124 1445L1121 1439L1127 1427L1141 1421L1149 1440ZM1042 1452L1044 1447L1037 1436L1020 1437L1020 1456L1021 1457ZM1064 1462L1044 1457L1042 1452L1044 1447L1064 1439L1069 1459ZM1069 1459L1064 1439L1065 1438L1081 1436L1090 1441L1086 1458L1077 1463ZM1064 1462L1044 1457L1042 1476L1057 1476ZM965 1499L959 1505L946 1492L951 1483L961 1480L964 1483ZM980 1502L965 1499L964 1483L980 1486L983 1497ZM983 1497L1004 1498L1006 1497L1008 1484L1006 1482L984 1481L980 1486ZM1029 1497L1025 1501L1006 1497L1008 1484L1019 1481ZM1062 1481L1062 1495L1061 1496L1042 1493L1041 1477L1042 1476L1057 1476ZM1080 1478L1083 1481L1085 1494L1062 1495L1062 1481ZM1183 1483L1195 1480L1212 1501L1206 1506L1183 1498ZM943 1519L941 1495L924 1494L923 1496L922 1514L941 1520ZM943 1519L941 1495L946 1492L959 1505L958 1515ZM977 1516L962 1518L958 1515L959 1505L965 1499L980 1502L979 1514ZM1044 1514L1041 1517L1026 1512L1025 1501L1029 1497L1042 1494ZM1061 1514L1061 1496L1042 1493L1042 1494L1044 1514ZM1124 1502L1126 1512L1146 1518L1146 1518L1150 1500L1142 1490ZM1168 1505L1164 1516L1146 1518L1150 1500L1159 1498ZM1181 1501L1185 1520L1185 1520L1170 1523L1164 1516L1168 1505ZM1181 1501L1185 1520L1202 1523L1206 1506L1183 1498ZM1203 1526L1225 1522L1223 1504L1215 1500L1212 1501L1206 1506L1202 1523ZM1245 1517L1243 1500L1223 1504L1225 1522L1229 1525L1240 1522ZM1390 1520L1381 1523L1364 1513L1363 1501L1378 1500L1382 1502ZM1402 1497L1382 1502L1390 1520L1399 1520L1403 1498ZM1403 1498L1420 1503L1421 1518L1401 1521L1399 1520ZM962 1541L943 1535L940 1532L941 1520L943 1519L958 1515L962 1518ZM980 1534L963 1542L962 1541L962 1518L977 1516ZM1041 1517L1026 1512L1017 1518L1021 1535L1026 1538L1038 1536ZM1065 1517L1061 1514L1044 1514L1041 1517L1038 1536L1045 1540L1062 1536ZM1127 1536L1125 1540L1106 1541L1108 1523L1120 1520ZM1147 1531L1146 1518L1126 1512L1120 1520L1127 1536L1144 1533ZM1170 1523L1164 1540L1147 1531L1146 1518L1146 1518L1164 1516ZM1170 1523L1164 1540L1164 1541L1180 1541L1185 1520ZM1185 1520L1180 1541L1185 1544L1204 1533L1203 1526L1202 1523L1185 1520ZM1203 1526L1225 1522L1229 1525L1228 1536L1223 1541L1207 1537L1204 1533ZM1240 1522L1229 1525L1228 1536L1246 1542L1246 1542ZM1263 1524L1245 1517L1240 1522L1246 1542L1261 1533ZM1286 1521L1286 1536L1278 1544L1272 1546L1261 1533L1263 1524L1267 1520L1283 1520ZM1286 1521L1294 1518L1307 1525L1306 1546L1304 1548L1286 1536ZM1306 1546L1322 1544L1326 1537L1324 1520L1323 1520L1307 1525ZM1347 1541L1326 1537L1324 1520L1335 1518L1339 1520L1351 1539ZM1357 1539L1357 1539L1362 1516L1364 1513L1381 1523L1377 1538ZM1403 1541L1401 1521L1399 1520L1390 1520L1381 1523L1377 1538L1379 1542ZM1404 1543L1425 1535L1426 1522L1421 1518L1401 1521L1403 1541ZM1425 1535L1426 1522L1438 1518L1443 1523L1450 1538L1450 1538L1431 1541ZM1046 1559L1045 1540L1038 1536L1026 1538L1023 1554L1031 1563ZM1070 1555L1067 1557L1047 1560L1046 1559L1045 1540L1062 1536L1063 1537ZM1081 1557L1084 1536L1063 1537L1070 1555ZM1164 1541L1164 1540L1147 1531L1144 1533L1139 1554L1145 1560L1160 1559ZM1180 1541L1164 1541L1160 1559L1161 1560L1178 1564L1188 1554L1185 1544ZM1185 1544L1188 1554L1202 1559L1204 1557L1207 1537L1204 1533ZM1223 1541L1207 1537L1204 1557L1226 1557ZM1245 1560L1246 1559L1246 1542L1228 1536L1223 1541L1226 1557L1229 1559ZM1272 1546L1265 1559L1246 1559L1246 1542L1246 1542L1261 1533ZM1278 1544L1291 1560L1287 1567L1268 1562L1265 1559L1272 1546ZM1304 1548L1302 1554L1305 1557L1328 1561L1330 1558L1322 1544L1306 1546ZM1330 1558L1322 1544L1326 1537L1347 1541L1339 1557ZM1360 1560L1361 1557L1357 1539L1357 1539L1351 1539L1347 1541L1339 1557L1348 1566ZM1380 1556L1361 1557L1357 1539L1377 1538L1379 1542ZM1380 1556L1379 1542L1403 1541L1404 1543L1405 1549L1385 1563ZM1431 1541L1450 1538L1447 1560L1445 1564L1426 1558ZM1467 1541L1464 1558L1447 1560L1450 1538L1450 1538L1462 1536ZM1467 1541L1464 1558L1468 1563L1485 1555L1481 1545ZM921 1575L537 1627L502 1629L-280 1643L-1471 1648L-1312 1502L-90 1505L657 1524L879 1545L920 1559ZM941 1579L942 1557L925 1554L920 1559L921 1575L925 1580L939 1581ZM941 1579L959 1574L964 1557L963 1556L943 1557L942 1557ZM1104 1555L1108 1579L1106 1580L1086 1577L1087 1562L1103 1554ZM1161 1560L1160 1580L1140 1579L1136 1575L1145 1560L1160 1559ZM1242 1582L1225 1580L1221 1574L1229 1559L1245 1560L1246 1577ZM1246 1577L1266 1585L1268 1562L1265 1559L1246 1559L1245 1560ZM1287 1567L1268 1562L1266 1585L1267 1586L1286 1582L1288 1575ZM1370 1579L1346 1575L1348 1566L1360 1560L1371 1579ZM1380 1556L1361 1557L1360 1560L1371 1579L1385 1578L1385 1578L1385 1563ZM1385 1563L1385 1578L1404 1579L1409 1553L1405 1549ZM1426 1558L1421 1575L1423 1577L1443 1581L1447 1576L1445 1564L1426 1558ZM1467 1581L1468 1581L1468 1563L1464 1558L1447 1560L1445 1564L1447 1576ZM939 1581L946 1599L940 1605L922 1603L917 1596L925 1580ZM1027 1572L1042 1581L1040 1595L1021 1592L1021 1577ZM1042 1581L1051 1574L1064 1580L1066 1582L1060 1597L1044 1599L1040 1595ZM1060 1597L1066 1582L1083 1580L1087 1594L1084 1602L1061 1597ZM1106 1580L1104 1596L1087 1594L1083 1580L1086 1577ZM1108 1579L1121 1578L1124 1600L1106 1598L1104 1596L1106 1580ZM1191 1578L1203 1577L1204 1578L1207 1591L1200 1600L1186 1604L1182 1598ZM1242 1582L1241 1597L1265 1597L1267 1586L1266 1585L1246 1577ZM1291 1591L1280 1604L1268 1602L1265 1597L1267 1586L1286 1582ZM1370 1579L1358 1597L1352 1598L1344 1578L1346 1575ZM1212 1615L1200 1600L1186 1604L1184 1616L1185 1618L1210 1618ZM1268 1602L1263 1615L1264 1617L1281 1627L1291 1619L1280 1604ZM1383 1613L1387 1610L1387 1602L1386 1598L1363 1601L1369 1615ZM1410 1616L1404 1622L1387 1610L1387 1602L1409 1599ZM1080 1621L1073 1620L1059 1639L1066 1648L1084 1631ZM1210 1631L1196 1639L1192 1637L1186 1631L1185 1618L1210 1618ZM1262 1643L1264 1617L1281 1627L1279 1637L1276 1641L1265 1645ZM1279 1637L1281 1627L1291 1619L1296 1618L1304 1638L1302 1641ZM1326 1634L1324 1619L1299 1616L1296 1618L1304 1638L1323 1639ZM1084 1631L1066 1648L1067 1652L1078 1658L1087 1654L1093 1638ZM1265 1645L1276 1641L1290 1655L1283 1667L1265 1658ZM1279 1637L1302 1641L1298 1653L1290 1655L1276 1641ZM1323 1639L1304 1638L1302 1641L1298 1653L1303 1658L1322 1659L1323 1656ZM1400 1636L1410 1656L1401 1666L1386 1653L1388 1640ZM961 1664L965 1675L961 1684L946 1688L940 1678L949 1661ZM980 1655L972 1653L961 1664L965 1675L984 1676L987 1662ZM1013 1679L1011 1679L985 1677L984 1676L987 1662L1004 1656L1007 1660ZM1046 1681L1062 1686L1068 1676L1056 1662L1047 1664ZM1079 1673L1078 1658L1067 1652L1056 1662L1068 1676ZM1149 1677L1150 1660L1143 1656L1130 1659L1129 1660L1131 1678L1140 1682ZM1160 1680L1162 1679L1170 1657L1166 1654L1150 1660L1149 1677ZM1236 1681L1226 1683L1221 1660L1239 1657L1239 1657L1241 1675ZM1284 1673L1283 1667L1290 1655L1298 1653L1303 1658L1301 1675ZM1307 1681L1322 1672L1322 1659L1303 1658L1301 1675ZM1344 1657L1344 1677L1331 1679L1322 1672L1322 1659L1323 1656L1344 1657ZM1362 1656L1366 1662L1364 1672L1346 1678L1344 1677L1344 1657ZM1386 1653L1379 1660L1389 1678L1391 1679L1398 1678L1401 1666ZM1141 1694L1124 1700L1119 1682L1131 1678L1140 1682ZM1160 1680L1149 1677L1140 1682L1141 1694L1143 1697L1162 1696ZM1197 1679L1203 1677L1225 1684L1224 1692L1204 1699ZM1131 1720L1123 1703L1124 1700L1141 1694L1143 1697L1144 1719L1144 1719ZM1162 1696L1164 1697L1157 1721L1144 1719L1143 1697ZM1243 1715L1249 1702L1225 1696L1225 1715L1229 1717L1239 1719ZM1044 1741L1043 1743L1024 1745L1023 1743L1023 1724L1042 1722ZM1058 1721L1060 1737L1063 1740L1080 1741L1083 1737L1082 1719L1059 1721ZM1108 1722L1106 1737L1106 1738L1083 1737L1082 1719L1083 1717L1104 1716ZM1144 1719L1144 1719L1157 1721L1160 1722L1163 1736L1157 1744L1147 1745L1141 1742ZM1225 1715L1211 1718L1207 1738L1217 1743L1225 1740L1229 1717ZM1243 1715L1265 1722L1266 1732L1246 1738L1239 1719ZM1049 1755L1043 1743L1024 1745L1024 1751L1029 1758L1046 1758ZM1031 1772L1029 1758L1046 1758L1042 1777ZM1063 1772L1066 1766L1058 1756L1049 1755L1046 1758L1042 1777L1043 1779ZM1143 1766L1142 1766L1144 1779L1147 1783L1165 1779L1168 1764L1162 1760ZM1182 1759L1183 1760L1185 1778L1181 1782L1170 1784L1165 1779L1168 1764ZM1043 1779L1042 1777L1031 1772L1021 1776L1024 1793L1027 1795L1043 1794ZM1066 1778L1062 1797L1046 1798L1043 1794L1043 1779L1063 1772ZM1066 1778L1079 1783L1081 1798L1078 1801L1070 1801L1062 1797ZM1118 1780L1108 1777L1102 1781L1098 1796L1104 1804L1124 1800L1120 1782ZM1144 1779L1147 1783L1146 1793L1141 1797L1125 1801L1124 1800L1120 1782ZM1165 1779L1170 1784L1168 1800L1164 1802L1146 1793L1147 1783ZM1170 1784L1168 1800L1182 1805L1187 1802L1181 1782ZM1043 1794L1027 1795L1021 1816L1024 1818L1042 1819L1044 1817L1046 1798ZM1046 1798L1044 1817L1062 1822L1070 1801L1062 1797ZM1101 1818L1104 1804L1124 1800L1125 1801L1126 1820ZM1141 1797L1146 1793L1164 1802L1158 1819L1148 1821ZM1182 1805L1168 1800L1164 1802L1158 1819L1168 1825L1183 1818ZM1062 1822L1044 1817L1042 1819L1041 1835L1043 1839L1059 1841L1067 1834L1065 1826ZM1081 1843L1080 1853L1059 1863L1059 1863L1059 1841L1067 1834ZM1146 1856L1145 1847L1124 1840L1118 1860L1118 1860ZM1081 1855L1080 1853L1059 1863L1064 1876L1067 1879L1079 1881L1084 1877ZM1106 1904L1102 1899L1084 1898L1082 1901L1081 1914L1086 1919L1102 1919Z" fill="#993404" stroke="#1a1a1a" stroke-width="0.7" stroke-linejoin="round"/>
<path d="M974 1276L1001 1397L1001 1398L1017 1398L1030 1366L1060 636L1053 -870L979 -793L973 1252ZM1044 1403L1023 1406L1017 1398L1030 1366L1046 1399ZM981 1425L966 1413L969 1404L979 1400L983 1401L987 1416ZM1000 1418L1001 1418L1001 1398L1001 1397L983 1401L987 1416ZM1022 1415L1023 1406L1017 1398L1001 1398L1001 1418L1019 1419ZM1044 1403L1023 1406L1022 1415L1040 1426L1050 1419ZM944 1440L959 1434L960 1419L946 1413L937 1422L943 1440ZM959 1434L960 1419L966 1413L981 1425L982 1438L974 1440ZM999 1434L1000 1418L987 1416L981 1425L982 1438L985 1439ZM1017 1434L1019 1419L1001 1418L1000 1418L999 1434L1003 1436ZM1020 1437L1037 1436L1040 1426L1022 1415L1019 1419L1017 1434ZM923 1462L939 1464L946 1454L944 1440L943 1440L921 1442L918 1456ZM966 1462L946 1454L944 1440L959 1434L974 1440L966 1462ZM966 1462L974 1440L982 1438L985 1439L993 1460L984 1466ZM1003 1436L999 1434L985 1439L993 1460L1001 1462L1007 1458ZM1020 1437L1020 1456L1007 1458L1003 1436L1017 1434ZM1104 1464L1104 1465L1086 1458L1090 1441L1100 1439ZM1124 1455L1124 1445L1121 1439L1103 1437L1100 1439L1104 1464ZM1124 1456L1124 1455L1124 1445L1147 1444L1150 1460L1144 1465ZM1160 1461L1168 1438L1165 1437L1149 1440L1147 1444L1150 1460L1160 1461ZM1160 1461L1168 1438L1179 1438L1181 1439L1181 1459L1179 1462ZM966 1462L946 1454L939 1464L941 1473L951 1483L961 1480ZM980 1486L984 1481L984 1466L966 1462L966 1462L961 1480L964 1483ZM984 1466L993 1460L1001 1462L1006 1482L984 1481ZM1027 1474L1019 1481L1008 1484L1006 1482L1001 1462L1007 1458L1020 1456L1021 1457ZM1042 1476L1044 1457L1042 1452L1021 1457L1027 1474L1041 1477ZM1064 1462L1057 1476L1062 1481L1080 1478L1077 1463L1069 1459ZM1077 1463L1086 1458L1104 1465L1103 1471L1083 1481L1080 1478ZM1125 1477L1120 1480L1108 1478L1103 1471L1104 1465L1104 1464L1124 1455L1124 1456ZM1125 1477L1142 1481L1144 1465L1124 1456ZM1142 1481L1142 1482L1164 1480L1160 1461L1150 1460L1144 1465ZM1182 1483L1179 1462L1160 1461L1160 1461L1164 1480L1167 1483ZM1041 1477L1042 1493L1042 1494L1029 1497L1019 1481L1027 1474ZM1082 1515L1087 1496L1085 1494L1062 1495L1061 1496L1061 1514L1065 1517ZM1087 1520L1104 1520L1103 1496L1087 1496L1082 1515ZM1123 1501L1103 1496L1103 1496L1104 1520L1108 1523L1120 1520L1126 1512L1124 1502ZM941 1520L922 1514L920 1515L919 1534L927 1539L940 1532ZM925 1554L927 1539L919 1534L879 1545L920 1559ZM925 1554L927 1539L940 1532L943 1535L943 1557L942 1557ZM963 1542L963 1556L943 1557L943 1535L962 1541ZM1144 1533L1139 1554L1128 1552L1125 1540L1127 1536ZM1404 1543L1425 1535L1431 1541L1426 1558L1426 1558L1409 1553L1405 1549ZM1128 1552L1139 1554L1145 1560L1136 1575L1124 1575L1120 1558ZM1426 1558L1421 1575L1406 1580L1404 1579L1409 1553ZM925 1580L917 1596L759 1620L537 1627L921 1575ZM1140 1579L1136 1575L1124 1575L1121 1578L1124 1600L1126 1602L1141 1597ZM1164 1590L1160 1580L1140 1579L1141 1597L1148 1600L1161 1594L1165 1590ZM1297 1594L1302 1602L1323 1597L1324 1595L1323 1581L1313 1578ZM1411 1595L1409 1599L1387 1602L1386 1598L1385 1578L1385 1578L1404 1579L1406 1580ZM919 1621L918 1622L878 1626L759 1620L917 1596L922 1603ZM1291 1591L1280 1604L1291 1619L1296 1618L1299 1616L1302 1602L1297 1594ZM1302 1602L1299 1616L1324 1619L1325 1616L1323 1597ZM927 1640L922 1644L878 1626L918 1622ZM1003 1637L1005 1625L1029 1621L1028 1638L1022 1644L1007 1645ZM1210 1631L1210 1618L1212 1615L1221 1612L1231 1622L1221 1637ZM1400 1636L1403 1632L1404 1622L1387 1610L1383 1613L1382 1638L1388 1640ZM1007 1660L1004 1656L1007 1645L1022 1644L1032 1659ZM1170 1657L1166 1654L1164 1639L1186 1631L1192 1637L1176 1659ZM1185 1667L1202 1652L1196 1639L1192 1637L1176 1659ZM1210 1631L1196 1639L1202 1652L1212 1657L1216 1657L1222 1639L1221 1637ZM1239 1657L1242 1644L1222 1639L1216 1657L1221 1660ZM1239 1657L1242 1644L1247 1640L1262 1643L1265 1645L1265 1658L1261 1663L1239 1657ZM1225 1684L1226 1683L1221 1660L1216 1657L1212 1657L1203 1677ZM1011 1679L985 1677L985 1695L997 1696ZM1104 1680L1103 1678L1084 1677L1076 1699L1080 1702L1102 1693ZM1305 1695L1307 1681L1301 1675L1284 1673L1280 1681L1292 1695ZM1305 1695L1306 1696L1328 1696L1331 1679L1322 1672L1307 1681ZM1179 1697L1180 1697L1201 1705L1203 1712L1186 1721L1179 1716ZM1201 1705L1204 1699L1224 1692L1225 1696L1225 1715L1211 1718L1203 1712ZM1284 1704L1292 1695L1305 1695L1306 1696L1308 1714L1288 1718L1283 1712ZM1308 1714L1313 1719L1323 1720L1323 1720L1333 1703L1328 1696L1306 1696ZM1130 1720L1108 1722L1106 1737L1125 1740ZM1203 1712L1211 1718L1207 1738L1205 1738L1187 1734L1186 1721ZM1239 1719L1229 1717L1225 1740L1243 1745L1246 1738ZM1044 1741L1043 1743L1049 1755L1058 1756L1063 1740L1060 1737ZM1129 1745L1127 1756L1131 1761L1142 1766L1143 1766L1147 1745L1141 1742ZM1157 1744L1163 1736L1179 1741L1182 1759L1168 1764L1162 1760ZM1219 1760L1224 1762L1241 1758L1245 1753L1243 1745L1225 1740L1217 1743ZM1066 1778L1079 1783L1089 1774L1082 1759L1066 1766L1063 1772ZM1196 1759L1205 1766L1205 1781L1202 1785L1185 1778L1183 1760ZM1205 1766L1205 1781L1222 1784L1226 1781L1224 1762L1219 1760ZM1128 1822L1146 1823L1148 1842L1145 1847L1124 1840L1123 1836ZM1148 1861L1162 1861L1166 1863L1163 1884L1143 1876Z" fill="#d95f0e" stroke="#1a1a1a" stroke-width="0.7" stroke-linejoin="round"/>
<path d="M1017 1518L1005 1514L1004 1498L1006 1497L1025 1501L1026 1512ZM992 1541L980 1534L977 1516L979 1514L999 1518L997 1539ZM997 1539L1001 1540L1021 1535L1017 1518L1005 1514L999 1518ZM992 1541L983 1558L1003 1570L1004 1569L1009 1558L1001 1540L997 1539ZM1023 1554L1026 1538L1021 1535L1001 1540L1009 1558ZM1286 1536L1304 1548L1302 1554L1291 1560L1278 1544ZM968 1587L959 1574L964 1557L979 1560L980 1583ZM981 1583L1001 1573L1003 1570L983 1558L979 1560L980 1583ZM1027 1572L1031 1563L1023 1554L1009 1558L1004 1569L1021 1577ZM1104 1555L1108 1579L1121 1578L1124 1575L1120 1558ZM1182 1573L1178 1564L1188 1554L1202 1559L1203 1577L1191 1578ZM1229 1559L1226 1557L1204 1557L1202 1559L1203 1577L1204 1578L1221 1574ZM1291 1560L1287 1567L1288 1575L1312 1577L1305 1557L1302 1554ZM1328 1561L1305 1557L1312 1577L1313 1578L1323 1581L1323 1580ZM964 1597L968 1587L959 1574L941 1579L939 1581L946 1599L960 1601ZM990 1595L981 1583L980 1583L968 1587L964 1597L982 1602ZM1002 1597L1001 1573L981 1583L990 1595ZM1225 1580L1224 1598L1207 1591L1204 1578L1221 1574ZM1242 1582L1241 1597L1240 1598L1226 1599L1224 1598L1225 1580ZM1288 1575L1286 1582L1291 1591L1297 1594L1313 1578L1312 1577ZM1370 1579L1358 1597L1363 1601L1386 1598L1385 1578L1371 1579ZM963 1611L960 1601L946 1599L940 1605L939 1619L942 1625L957 1625ZM983 1616L981 1618L963 1611L960 1601L964 1597L982 1602ZM1224 1598L1207 1591L1200 1600L1212 1615L1221 1612L1226 1599ZM1369 1615L1363 1601L1358 1597L1352 1598L1350 1599L1346 1613L1351 1621L1364 1625ZM965 1637L943 1650L937 1641L942 1625L957 1625ZM1158 1634L1161 1620L1167 1616L1184 1616L1185 1618L1186 1631L1164 1639ZM1221 1637L1222 1639L1242 1644L1247 1640L1244 1623L1231 1622ZM1262 1643L1264 1617L1263 1615L1246 1619L1244 1623L1247 1640ZM1383 1613L1382 1638L1369 1637L1364 1625L1369 1615ZM966 1638L972 1653L961 1664L949 1661L944 1653L943 1650L965 1637ZM1343 1639L1340 1636L1326 1634L1323 1639L1323 1656L1344 1657ZM1388 1640L1382 1638L1369 1637L1364 1642L1362 1656L1366 1662L1379 1660L1386 1653ZM1185 1681L1162 1679L1170 1657L1176 1659L1185 1667L1188 1678ZM1188 1678L1197 1679L1203 1677L1212 1657L1202 1652L1185 1667ZM1379 1660L1366 1662L1364 1672L1368 1677L1389 1678ZM965 1675L961 1684L971 1698L984 1696L985 1695L985 1677L984 1676ZM1160 1680L1162 1679L1185 1681L1180 1697L1179 1697L1164 1697L1162 1696ZM1225 1696L1224 1692L1225 1684L1226 1683L1236 1681L1252 1699L1249 1702ZM1284 1704L1292 1695L1280 1681L1266 1686L1265 1691ZM969 1700L971 1698L984 1696L986 1713L980 1719L963 1717ZM1045 1719L1042 1722L1023 1724L1022 1724L1023 1702L1042 1702ZM1179 1697L1179 1716L1160 1722L1157 1721L1164 1697ZM1179 1741L1182 1759L1183 1760L1196 1759L1205 1738L1187 1734ZM1196 1759L1205 1766L1219 1760L1217 1743L1207 1738L1205 1738ZM1131 1761L1118 1780L1108 1777L1108 1759L1127 1756ZM1131 1761L1118 1780L1120 1782L1144 1779L1142 1766ZM1202 1785L1199 1798L1187 1802L1181 1782L1185 1778ZM1078 1801L1083 1817L1090 1821L1100 1819L1101 1818L1104 1804L1098 1796L1081 1798ZM1100 1819L1106 1835L1123 1836L1128 1822L1126 1820L1101 1818ZM1146 1823L1148 1842L1168 1839L1168 1825L1158 1819L1148 1821ZM1146 1856L1145 1847L1148 1842L1168 1839L1169 1840L1162 1861L1148 1861ZM1143 1876L1163 1884L1165 1886L1167 1898L1164 1902L1141 1894L1142 1877ZM1119 1903L1125 1899L1136 1900L1142 1919L1140 1921L1126 1922ZM1141 1894L1136 1900L1142 1919L1161 1916L1164 1902ZM1126 1922L1140 1921L1141 1937L1124 1946L1120 1943L1122 1924Z" fill="#fe9929" stroke="#1a1a1a" stroke-width="0.7" stroke-linejoin="round"/>
<path d="M1351 1539L1339 1520L1362 1516L1357 1539ZM992 1541L983 1558L979 1560L964 1557L963 1556L963 1542L980 1534ZM1081 1557L1087 1562L1103 1554L1103 1544L1086 1534L1084 1536ZM1128 1552L1120 1558L1104 1555L1103 1554L1103 1544L1106 1541L1125 1540ZM1027 1572L1031 1563L1046 1559L1047 1560L1051 1574L1042 1581ZM1047 1560L1067 1557L1064 1580L1051 1574ZM1081 1557L1087 1562L1086 1577L1083 1580L1066 1582L1064 1580L1067 1557L1070 1555ZM1182 1573L1178 1564L1161 1560L1160 1580L1164 1590ZM1182 1573L1164 1590L1165 1590L1182 1598L1191 1578ZM919 1621L939 1619L940 1605L922 1603ZM1108 1619L1101 1612L1106 1598L1124 1600L1126 1602L1125 1614L1124 1615ZM1148 1600L1141 1597L1126 1602L1125 1614L1140 1621L1150 1613ZM1240 1598L1246 1619L1244 1623L1231 1622L1221 1612L1226 1599ZM1240 1598L1246 1619L1263 1615L1268 1602L1265 1597L1241 1597ZM1350 1599L1346 1613L1325 1616L1323 1597L1324 1595ZM942 1625L939 1619L919 1621L918 1622L927 1640L937 1641ZM1144 1635L1158 1634L1161 1620L1150 1613L1140 1621L1144 1635ZM1340 1636L1351 1621L1346 1613L1325 1616L1324 1619L1326 1634ZM1364 1642L1369 1637L1364 1625L1351 1621L1340 1636L1343 1639ZM943 1650L944 1653L921 1665L915 1660L922 1644L927 1640L937 1641ZM1130 1659L1123 1639L1125 1638L1144 1635L1144 1635L1143 1656ZM1166 1654L1164 1639L1158 1634L1144 1635L1143 1656L1150 1660ZM1362 1656L1344 1657L1344 1657L1343 1639L1364 1642ZM1119 1682L1104 1680L1103 1678L1105 1666L1108 1663L1129 1660L1131 1678ZM1018 1681L1020 1683L1020 1699L1005 1704L997 1696L1011 1679L1013 1679ZM1042 1702L1023 1702L1020 1699L1020 1683L1043 1683L1043 1701ZM1043 1701L1043 1683L1046 1681L1062 1686L1066 1697L1062 1701ZM1076 1699L1084 1677L1079 1673L1068 1676L1062 1686L1066 1697ZM1124 1700L1119 1682L1104 1680L1102 1693L1107 1704L1123 1703ZM1185 1681L1180 1697L1201 1705L1204 1699L1197 1679L1188 1678ZM1002 1720L986 1713L984 1696L985 1695L997 1696L1005 1704ZM1022 1724L1003 1721L1002 1720L1005 1704L1020 1699L1023 1702ZM1059 1721L1082 1719L1083 1717L1080 1702L1076 1699L1066 1697L1062 1701ZM1102 1693L1080 1702L1083 1717L1104 1716L1107 1704ZM1131 1720L1123 1703L1107 1704L1104 1716L1108 1722L1130 1720ZM1179 1716L1186 1721L1187 1734L1179 1741L1163 1736L1160 1722ZM1058 1756L1063 1740L1080 1741L1083 1759L1082 1759L1066 1766ZM1105 1756L1083 1759L1080 1741L1083 1737L1106 1738ZM1129 1745L1127 1756L1108 1759L1105 1756L1106 1738L1106 1737L1125 1740ZM1102 1862L1097 1876L1084 1877L1081 1855ZM1146 1856L1118 1860L1124 1876L1142 1877L1143 1876L1148 1861ZM1097 1876L1104 1884L1102 1899L1084 1898L1079 1881L1084 1877ZM1142 1877L1141 1894L1136 1900L1125 1899L1120 1881L1124 1876ZM1119 1903L1126 1922L1122 1924L1103 1921L1102 1919L1106 1904ZM1122 1924L1120 1943L1105 1941L1102 1937L1103 1921Z" fill="#fed98e" stroke="#1a1a1a" stroke-width="0.7" stroke-linejoin="round"/>
<path d="M1103 1496L1103 1496L1087 1496L1085 1494L1083 1481L1103 1471L1108 1478ZM1123 1501L1103 1496L1108 1478L1120 1480ZM1125 1477L1120 1480L1123 1501L1124 1502L1142 1490L1142 1482L1142 1481ZM1167 1483L1164 1480L1142 1482L1142 1490L1150 1500L1159 1498ZM1182 1483L1167 1483L1159 1498L1168 1505L1181 1501L1183 1498L1183 1483ZM999 1518L1005 1514L1004 1498L983 1497L980 1502L979 1514ZM1084 1536L1086 1534L1087 1520L1082 1515L1065 1517L1062 1536L1063 1537ZM1103 1544L1086 1534L1087 1520L1104 1520L1108 1523L1106 1541ZM1348 1566L1339 1557L1330 1558L1328 1561L1323 1580L1344 1578L1346 1575ZM1005 1599L1016 1597L1021 1592L1021 1577L1004 1569L1003 1570L1001 1573L1002 1597ZM1323 1580L1323 1581L1324 1595L1350 1599L1352 1598L1344 1578ZM1421 1575L1406 1580L1411 1595L1426 1596L1423 1577ZM1439 1598L1443 1581L1423 1577L1426 1596L1430 1598ZM1442 1602L1460 1604L1467 1594L1467 1581L1447 1576L1443 1581L1439 1598ZM1005 1599L1001 1617L983 1616L982 1602L990 1595L1002 1597ZM1005 1599L1016 1597L1030 1620L1029 1621L1005 1625L1001 1617ZM1021 1592L1016 1597L1030 1620L1039 1618L1044 1599L1040 1595ZM1044 1599L1060 1597L1061 1597L1065 1616L1045 1622L1039 1618ZM1065 1616L1073 1620L1080 1621L1085 1614L1084 1602L1061 1597ZM1085 1614L1084 1602L1087 1594L1104 1596L1106 1598L1101 1612ZM1161 1594L1167 1616L1161 1620L1150 1613L1148 1600ZM1182 1598L1186 1604L1184 1616L1167 1616L1161 1594L1165 1590ZM1421 1616L1410 1616L1409 1599L1411 1595L1426 1596L1430 1598ZM966 1638L977 1631L981 1618L963 1611L957 1625L965 1637ZM983 1616L981 1618L977 1631L989 1638L1003 1637L1005 1625L1001 1617ZM1029 1621L1030 1620L1039 1618L1045 1622L1050 1636L1043 1644L1028 1638ZM1045 1622L1050 1636L1059 1639L1073 1620L1065 1616ZM1104 1637L1093 1638L1084 1631L1080 1621L1085 1614L1101 1612L1108 1619ZM1123 1639L1108 1641L1104 1637L1108 1619L1124 1615L1125 1638ZM1144 1635L1140 1621L1125 1614L1124 1615L1125 1638ZM1431 1624L1421 1616L1410 1616L1404 1622L1403 1632L1425 1636ZM966 1638L972 1653L980 1655L989 1638L977 1631ZM1003 1637L989 1638L980 1655L987 1662L1004 1656L1007 1645ZM1033 1659L1041 1659L1043 1644L1028 1638L1022 1644L1032 1659ZM1041 1659L1043 1644L1050 1636L1059 1639L1066 1648L1067 1652L1056 1662L1047 1664ZM1108 1663L1105 1666L1087 1654L1093 1638L1104 1637L1108 1641ZM1130 1659L1123 1639L1108 1641L1108 1663L1129 1660ZM1018 1681L1033 1659L1032 1659L1007 1660L1013 1679ZM1018 1681L1020 1683L1043 1683L1046 1681L1047 1664L1041 1659L1033 1659ZM1103 1678L1084 1677L1079 1673L1078 1658L1087 1654L1105 1666ZM1241 1675L1239 1657L1261 1663L1258 1674ZM1280 1681L1266 1686L1258 1674L1261 1663L1265 1658L1283 1667L1284 1673ZM1260 1697L1252 1699L1236 1681L1241 1675L1258 1674L1266 1686L1265 1691ZM1058 1721L1045 1719L1042 1702L1043 1701L1062 1701L1059 1721ZM1269 1714L1265 1722L1243 1715L1249 1702L1252 1699L1260 1697ZM1284 1704L1265 1691L1260 1697L1269 1714L1283 1712ZM1058 1721L1060 1737L1044 1741L1042 1722L1045 1719ZM1131 1720L1144 1719L1141 1742L1129 1745L1125 1740L1130 1720ZM1283 1712L1288 1718L1286 1737L1282 1739L1271 1736L1266 1732L1265 1722L1269 1714ZM1147 1745L1143 1766L1162 1760L1157 1744ZM1108 1777L1102 1781L1089 1774L1082 1759L1083 1759L1105 1756L1108 1759ZM1081 1798L1098 1796L1102 1781L1089 1774L1079 1783ZM1078 1801L1083 1817L1065 1826L1062 1822L1070 1801ZM1128 1822L1146 1823L1148 1821L1141 1797L1125 1801L1126 1820ZM1065 1826L1067 1834L1081 1843L1084 1841L1090 1821L1083 1817ZM1100 1819L1090 1821L1084 1841L1101 1843L1106 1835ZM1084 1841L1081 1843L1080 1853L1081 1855L1102 1862L1106 1859L1101 1843ZM1106 1835L1101 1843L1106 1859L1118 1860L1124 1840L1123 1836ZM1118 1860L1118 1860L1106 1859L1102 1862L1097 1876L1104 1884L1120 1881L1124 1876ZM1119 1903L1125 1899L1120 1881L1104 1884L1102 1899L1106 1904ZM1102 1919L1086 1919L1079 1937L1081 1939L1102 1937L1103 1921Z" fill="#ffffd4" stroke="#1a1a1a" stroke-width="0.7" stroke-linejoin="round"/>
<path d="M1113.8,1558.4 1118.5,1553.1 1122.4,1565.0 1124.4,1579.5 1132.4,1587.5 1142.9,1598.0 1140.3,1602.0 1129.7,1594.1 1120.5,1587.5 1115.2,1579.5 1112.5,1568.9Z" fill="#fff" fill-rule="evenodd" stroke="#222" stroke-width="0.6"/>
<path d="M1082.9,1554.1 1090.9,1551.4 1102.8,1550.1 1108.1,1559.4 1105.4,1566.0 1097.5,1572.6 1089.6,1580.5 1084.3,1585.8 1081.6,1575.2 1080.3,1562.0Z" fill="#fff" fill-rule="evenodd" stroke="#222" stroke-width="0.6"/>
<path d="M938.6,1454.3 939.6,1446.4 948.6,1444.4 949.6,1437.5 950.5,1428.5 959.5,1426.5 965.4,1422.6 973.4,1420.6 977.3,1415.6 985.3,1411.7 991.2,1417.6 997.2,1416.6 1000.2,1408.7 1008.1,1401.7 1011.1,1397.8 1019.0,1391.8 1028.9,1389.8 1044.8,1388.8 1052.7,1388.8 1062.7,1384.9 1071.6,1386.9 1075.5,1388.8 1079.5,1394.8 1080.5,1405.7 1086.5,1407.7 1094.4,1410.7 1102.3,1415.6 1112.3,1417.6 1120.2,1417.6 1127.1,1420.6 1129.1,1426.5 1132.1,1434.5 1140.0,1440.4 1150.0,1443.4 1159.9,1444.4 1166.8,1450.3 1171.8,1452.3 1175.7,1458.3 1175.7,1470.2 1179.7,1472.2 1177.7,1480.1 1182.7,1488.0 1183.7,1498.0 1185.7,1507.9 1187.2,1507.4 1183.2,1510.0 1189.8,1514.0 1196.4,1516.6 1203.0,1515.3 1211.0,1519.3 1218.9,1520.6 1224.2,1519.3 1228.2,1525.9 1229.5,1531.2 1233.5,1533.8 1242.7,1532.5 1250.7,1536.5 1252.7,1547.0 1269.2,1548.4 1284.0,1548.4 1295.1,1544.6 1298.1,1547.6 1295.1,1557.5 1289.2,1562.5 1287.2,1573.4 1283.2,1587.3 1279.2,1593.2 1277.3,1587.3 1279.2,1567.4 1277.3,1565.4 1263.4,1564.4 1255.4,1565.4 1253.3,1564.2 1250.7,1555.0 1240.1,1556.3 1229.5,1552.3 1226.9,1548.4 1220.2,1549.0 1211.0,1547.0 1203.0,1545.7 1197.8,1549.7 1189.8,1556.3 1187.2,1557.6 1184.5,1547.0 1183.2,1535.1 1176.6,1532.5 1168.7,1537.8 1166.0,1548.4 1163.4,1553.7 1162.0,1561.6 1168.7,1574.8 1176.6,1584.1 1187.2,1596.0 1200.4,1606.6 1216.3,1611.9 1224.2,1615.8 1224.2,1619.8 1211.0,1619.8 1200.4,1618.5 1189.8,1617.1 1184.5,1614.5 1176.6,1609.2 1168.7,1601.3 1163.4,1594.7 1158.1,1588.0 1156.1,1574.8 1156.8,1561.6 1158.1,1548.4 1158.1,1532.5 1160.1,1519.3 1155.4,1515.3 1144.8,1511.3 1140.9,1504.7 1136.9,1506.0 1134.3,1499.4 1127.7,1494.1 1117.1,1495.5 1114.4,1483.6 1101.2,1469.0 1096.4,1462.3 1090.4,1456.3 1079.5,1448.4 1075.5,1447.4 1072.6,1434.5 1064.6,1432.5 1058.7,1428.5 1050.7,1427.5 1041.8,1430.5 1035.9,1437.5 1032.9,1445.4 1030.9,1451.3 1021.0,1454.3 1013.0,1456.3 1005.1,1456.3 997.2,1458.3 991.2,1456.3 981.3,1450.3 973.4,1450.3 970.4,1452.3 961.5,1459.3 953.5,1459.3 945.6,1457.3 940.6,1456.3ZM998.2,1440.4 1005.1,1428.5 1013.0,1420.6 1021.0,1412.7 1028.9,1411.7 1029.9,1420.6 1027.9,1432.5 1023.0,1440.4 1013.0,1443.4 1011.1,1447.4 1008.1,1445.4Z" fill="#fff" fill-rule="evenodd" stroke="#222" stroke-width="0.6"/>
<path d="M937.7,1511.3 952.2,1509.3 962.1,1510.0 964.1,1513.3 971.4,1516.0 972.7,1521.9 974.7,1527.9 966.8,1537.8 968.1,1548.4 970.7,1555.0 974.7,1561.6 965.4,1572.8 978.7,1563.6 990.6,1555.0 999.8,1547.0 1005.1,1547.0 1007.8,1532.5 1011.7,1524.6 1026.3,1517.9 1039.5,1514.0 1052.7,1509.3 1060.0,1506.0 1066.0,1508.0 1071.2,1513.3 1079.2,1517.9 1088.4,1521.2 1079.2,1529.8 1071.2,1536.5 1060.7,1541.8 1050.7,1545.1 1058.0,1547.0 1060.7,1550.3 1064.6,1555.0 1067.3,1564.2 1069.9,1573.5 1075.2,1580.1 1069.9,1584.1 1059.3,1582.8 1051.4,1577.5 1040.8,1582.8 1039.5,1585.4 1044.8,1594.7 1032.9,1594.7 1021.0,1597.3 1007.8,1600.0 999.8,1603.9 998.5,1609.2 986.6,1607.9 974.7,1617.1 973.4,1622.4 976.0,1627.7 986.6,1630.4 998.5,1627.7 1006.4,1626.4 1013.0,1631.7 1026.3,1635.7 1035.5,1637.0 1034.2,1641.0 1026.3,1654.2 1021.0,1662.1 1017.0,1669.0 989.2,1669.0 986.6,1664.8 976.0,1664.8 965.4,1659.5 957.5,1652.9 956.2,1656.8 949.6,1654.2 939.0,1650.2 933.7,1644.9 929.7,1635.7 920.5,1633.0 910.5,1623.1 911.2,1607.9 909.2,1596.0 915.2,1578.8 913.8,1573.5 915.2,1568.2 919.1,1558.9 923.1,1548.4 927.1,1537.8 931.0,1531.2 932.4,1524.6 936.3,1519.3ZM922.4,1548.4 927.1,1535.1 933.7,1533.8 944.9,1537.8 942.9,1551.0 941.6,1569.5 939.0,1576.1 931.0,1581.4 925.7,1578.8 919.1,1569.5 915.8,1566.9 920.5,1555.0ZM908.6,1596.0 915.2,1582.8 920.5,1584.1 925.7,1593.3 932.4,1602.6 937.7,1613.2 937.7,1627.7 929.7,1635.7 920.5,1633.0 910.5,1623.1 909.9,1607.9ZM937.7,1650.2 941.6,1641.0 937.7,1621.1 937.7,1613.2 944.3,1602.6 950.9,1598.6 956.2,1588.0 960.1,1586.7 977.3,1588.0 973.4,1598.6 968.1,1614.5 957.5,1611.9 956.2,1627.7 946.9,1641.0 942.9,1650.9Z" fill="#fff" fill-rule="evenodd" stroke="#222" stroke-width="0.6"/>
<path d="M1228.2,1584.1 1236.1,1585.4 1246.7,1582.8 1250.7,1584.1 1258.6,1588.0 1261.2,1596.0 1266.5,1606.6 1269.2,1614.5 1269.2,1622.4 1259.9,1621.1 1250.7,1614.5 1242.7,1609.2 1236.1,1601.3 1230.8,1593.3Z" fill="#fff" fill-rule="evenodd" stroke="#222" stroke-width="0.6"/>
<path d="M1238.8,1623.8 1248.0,1622.4 1259.9,1622.4 1269.2,1625.1 1269.2,1638.3 1259.9,1641.0 1249.3,1643.6 1241.4,1647.6 1238.8,1641.0 1241.4,1631.7Z" fill="#fff" fill-rule="evenodd" stroke="#222" stroke-width="0.6"/>
<path d="M1247.5,1624.6 1258.1,1623.3 1268.7,1625.9 1268.7,1640.5 1262.0,1641.8 1247.5,1643.1 1243.5,1648.4 1238.2,1647.1 1242.2,1637.8 1246.2,1629.9Z" fill="#fff" fill-rule="evenodd" stroke="#222" stroke-width="0.6"/>
<path d="M956.5,1625.9 965.7,1618.0 973.7,1619.3 973.7,1627.2 989.6,1628.6 1008.1,1625.9 1013.4,1631.2 1023.9,1635.2 1034.5,1636.5 1029.2,1649.7 1025.3,1657.7 1013.4,1666.9 1004.1,1674.8 1000.8,1685.4 997.5,1685.4 994.8,1674.8 990.9,1668.2 991.0,1664.8 989.4,1661.6 979.1,1664.0 969.6,1664.8 961.6,1658.4 956.9,1651.3 945.9,1651.0 943.3,1648.4 949.9,1640.5Z" fill="#fff" fill-rule="evenodd" stroke="#222" stroke-width="0.6"/>
<path d="M1408.2,1515.8 1412.2,1519.8 1424.1,1521.8 1432.0,1525.7 1440.0,1531.7 1449.9,1539.6 1455.8,1543.6 1459.8,1547.6 1461.8,1553.5 1467.7,1559.5 1463.8,1567.4 1461.8,1571.4 1451.9,1575.3 1449.9,1579.3 1445.9,1571.4 1447.9,1559.5 1443.9,1551.5 1438.0,1545.6 1436.0,1539.6 1426.1,1533.7 1416.1,1535.7 1412.2,1527.7 1408.2,1521.8Z" fill="#fff" fill-rule="evenodd" stroke="#222" stroke-width="0.6"/>
<path d="M1305.0,1548.6 1322.9,1547.6 1342.7,1551.5 1358.6,1555.5 1362.6,1559.5 1358.6,1565.4 1342.7,1567.4 1322.9,1569.4 1313.0,1571.4 1309.0,1565.4 1307.0,1557.5Z" fill="#fff" fill-rule="evenodd" stroke="#222" stroke-width="0.6"/>
<path d="M1370.5,1557.5 1380.4,1559.5 1382.4,1565.4 1378.4,1573.4 1372.5,1575.3 1369.5,1567.4Z" fill="#fff" fill-rule="evenodd" stroke="#222" stroke-width="0.6"/>
<path d="M1305.0,1530.7 1320.9,1528.7 1326.9,1533.7 1322.9,1539.6 1313.0,1541.6 1306.0,1537.7Z" fill="#fff" fill-rule="evenodd" stroke="#222" stroke-width="0.6"/>
<path d="M1384.4,1510.9 1394.3,1513.8 1408.2,1516.8 1402.3,1522.8 1390.3,1523.8 1382.4,1521.8Z" fill="#fff" fill-rule="evenodd" stroke="#222" stroke-width="0.6"/>
<path d="M1306.3,1651.9 1314.3,1651.3 1321.5,1654.6 1324.8,1659.2 1330.1,1664.5 1334.1,1665.8 1335.4,1669.8 1332.8,1673.1 1327.5,1673.8 1323.5,1675.7 1322.2,1681.0 1320.9,1683.7 1310.3,1683.0 1305.0,1683.7 1301.0,1685.0 1298.4,1686.3 1300.4,1681.0 1305.0,1671.8 1306.3,1663.8 1305.0,1657.2Z" fill="#fff" fill-rule="evenodd" stroke="#222" stroke-width="0.6"/>
<path d="M1244.8,1729.1 1255.4,1719.8 1258.1,1723.8 1259.4,1729.1 1252.8,1733.0 1244.8,1735.7Z" fill="#fff" fill-rule="evenodd" stroke="#222" stroke-width="0.6"/>
<path d="M1170.8,1775.9 1182.7,1774.6 1189.3,1781.2 1192.0,1787.8 1182.7,1793.1 1174.8,1798.4 1170.8,1803.7 1169.5,1793.1 1170.8,1783.8Z" fill="#fff" fill-rule="evenodd" stroke="#222" stroke-width="0.6"/>
<clipPath id="wclip3"><path clip-rule="evenodd" d="M1113.8,1558.4 1118.5,1553.1 1122.4,1565.0 1124.4,1579.5 1132.4,1587.5 1142.9,1598.0 1140.3,1602.0 1129.7,1594.1 1120.5,1587.5 1115.2,1579.5 1112.5,1568.9Z"/><path clip-rule="evenodd" d="M1082.9,1554.1 1090.9,1551.4 1102.8,1550.1 1108.1,1559.4 1105.4,1566.0 1097.5,1572.6 1089.6,1580.5 1084.3,1585.8 1081.6,1575.2 1080.3,1562.0Z"/><path clip-rule="evenodd" d="M938.6,1454.3 939.6,1446.4 948.6,1444.4 949.6,1437.5 950.5,1428.5 959.5,1426.5 965.4,1422.6 973.4,1420.6 977.3,1415.6 985.3,1411.7 991.2,1417.6 997.2,1416.6 1000.2,1408.7 1008.1,1401.7 1011.1,1397.8 1019.0,1391.8 1028.9,1389.8 1044.8,1388.8 1052.7,1388.8 1062.7,1384.9 1071.6,1386.9 1075.5,1388.8 1079.5,1394.8 1080.5,1405.7 1086.5,1407.7 1094.4,1410.7 1102.3,1415.6 1112.3,1417.6 1120.2,1417.6 1127.1,1420.6 1129.1,1426.5 1132.1,1434.5 1140.0,1440.4 1150.0,1443.4 1159.9,1444.4 1166.8,1450.3 1171.8,1452.3 1175.7,1458.3 1175.7,1470.2 1179.7,1472.2 1177.7,1480.1 1182.7,1488.0 1183.7,1498.0 1185.7,1507.9 1187.2,1507.4 1183.2,1510.0 1189.8,1514.0 1196.4,1516.6 1203.0,1515.3 1211.0,1519.3 1218.9,1520.6 1224.2,1519.3 1228.2,1525.9 1229.5,1531.2 1233.5,1533.8 1242.7,1532.5 1250.7,1536.5 1252.7,1547.0 1269.2,1548.4 1284.0,1548.4 1295.1,1544.6 1298.1,1547.6 1295.1,1557.5 1289.2,1562.5 1287.2,1573.4 1283.2,1587.3 1279.2,1593.2 1277.3,1587.3 1279.2,1567.4 1277.3,1565.4 1263.4,1564.4 1255.4,1565.4 1253.3,1564.2 1250.7,1555.0 1240.1,1556.3 1229.5,1552.3 1226.9,1548.4 1220.2,1549.0 1211.0,1547.0 1203.0,1545.7 1197.8,1549.7 1189.8,1556.3 1187.2,1557.6 1184.5,1547.0 1183.2,1535.1 1176.6,1532.5 1168.7,1537.8 1166.0,1548.4 1163.4,1553.7 1162.0,1561.6 1168.7,1574.8 1176.6,1584.1 1187.2,1596.0 1200.4,1606.6 1216.3,1611.9 1224.2,1615.8 1224.2,1619.8 1211.0,1619.8 1200.4,1618.5 1189.8,1617.1 1184.5,1614.5 1176.6,1609.2 1168.7,1601.3 1163.4,1594.7 1158.1,1588.0 1156.1,1574.8 1156.8,1561.6 1158.1,1548.4 1158.1,1532.5 1160.1,1519.3 1155.4,1515.3 1144.8,1511.3 1140.9,1504.7 1136.9,1506.0 1134.3,1499.4 1127.7,1494.1 1117.1,1495.5 1114.4,1483.6 1101.2,1469.0 1096.4,1462.3 1090.4,1456.3 1079.5,1448.4 1075.5,1447.4 1072.6,1434.5 1064.6,1432.5 1058.7,1428.5 1050.7,1427.5 1041.8,1430.5 1035.9,1437.5 1032.9,1445.4 1030.9,1451.3 1021.0,1454.3 1013.0,1456.3 1005.1,1456.3 997.2,1458.3 991.2,1456.3 981.3,1450.3 973.4,1450.3 970.4,1452.3 961.5,1459.3 953.5,1459.3 945.6,1457.3 940.6,1456.3ZM998.2,1440.4 1005.1,1428.5 1013.0,1420.6 1021.0,1412.7 1028.9,1411.7 1029.9,1420.6 1027.9,1432.5 1023.0,1440.4 1013.0,1443.4 1011.1,1447.4 1008.1,1445.4Z"/><path clip-rule="evenodd" d="M937.7,1511.3 952.2,1509.3 962.1,1510.0 964.1,1513.3 971.4,1516.0 972.7,1521.9 974.7,1527.9 966.8,1537.8 968.1,1548.4 970.7,1555.0 974.7,1561.6 965.4,1572.8 978.7,1563.6 990.6,1555.0 999.8,1547.0 1005.1,1547.0 1007.8,1532.5 1011.7,1524.6 1026.3,1517.9 1039.5,1514.0 1052.7,1509.3 1060.0,1506.0 1066.0,1508.0 1071.2,1513.3 1079.2,1517.9 1088.4,1521.2 1079.2,1529.8 1071.2,1536.5 1060.7,1541.8 1050.7,1545.1 1058.0,1547.0 1060.7,1550.3 1064.6,1555.0 1067.3,1564.2 1069.9,1573.5 1075.2,1580.1 1069.9,1584.1 1059.3,1582.8 1051.4,1577.5 1040.8,1582.8 1039.5,1585.4 1044.8,1594.7 1032.9,1594.7 1021.0,1597.3 1007.8,1600.0 999.8,1603.9 998.5,1609.2 986.6,1607.9 974.7,1617.1 973.4,1622.4 976.0,1627.7 986.6,1630.4 998.5,1627.7 1006.4,1626.4 1013.0,1631.7 1026.3,1635.7 1035.5,1637.0 1034.2,1641.0 1026.3,1654.2 1021.0,1662.1 1017.0,1669.0 989.2,1669.0 986.6,1664.8 976.0,1664.8 965.4,1659.5 957.5,1652.9 956.2,1656.8 949.6,1654.2 939.0,1650.2 933.7,1644.9 929.7,1635.7 920.5,1633.0 910.5,1623.1 911.2,1607.9 909.2,1596.0 915.2,1578.8 913.8,1573.5 915.2,1568.2 919.1,1558.9 923.1,1548.4 927.1,1537.8 931.0,1531.2 932.4,1524.6 936.3,1519.3ZM922.4,1548.4 927.1,1535.1 933.7,1533.8 944.9,1537.8 942.9,1551.0 941.6,1569.5 939.0,1576.1 931.0,1581.4 925.7,1578.8 919.1,1569.5 915.8,1566.9 920.5,1555.0ZM908.6,1596.0 915.2,1582.8 920.5,1584.1 925.7,1593.3 932.4,1602.6 937.7,1613.2 937.7,1627.7 929.7,1635.7 920.5,1633.0 910.5,1623.1 909.9,1607.9ZM937.7,1650.2 941.6,1641.0 937.7,1621.1 937.7,1613.2 944.3,1602.6 950.9,1598.6 956.2,1588.0 960.1,1586.7 977.3,1588.0 973.4,1598.6 968.1,1614.5 957.5,1611.9 956.2,1627.7 946.9,1641.0 942.9,1650.9Z"/><path clip-rule="evenodd" d="M1228.2,1584.1 1236.1,1585.4 1246.7,1582.8 1250.7,1584.1 1258.6,1588.0 1261.2,1596.0 1266.5,1606.6 1269.2,1614.5 1269.2,1622.4 1259.9,1621.1 1250.7,1614.5 1242.7,1609.2 1236.1,1601.3 1230.8,1593.3Z"/><path clip-rule="evenodd" d="M1238.8,1623.8 1248.0,1622.4 1259.9,1622.4 1269.2,1625.1 1269.2,1638.3 1259.9,1641.0 1249.3,1643.6 1241.4,1647.6 1238.8,1641.0 1241.4,1631.7Z"/><path clip-rule="evenodd" d="M1247.5,1624.6 1258.1,1623.3 1268.7,1625.9 1268.7,1640.5 1262.0,1641.8 1247.5,1643.1 1243.5,1648.4 1238.2,1647.1 1242.2,1637.8 1246.2,1629.9Z"/><path clip-rule="evenodd" d="M956.5,1625.9 965.7,1618.0 973.7,1619.3 973.7,1627.2 989.6,1628.6 1008.1,1625.9 1013.4,1631.2 1023.9,1635.2 1034.5,1636.5 1029.2,1649.7 1025.3,1657.7 1013.4,1666.9 1004.1,1674.8 1000.8,1685.4 997.5,1685.4 994.8,1674.8 990.9,1668.2 991.0,1664.8 989.4,1661.6 979.1,1664.0 969.6,1664.8 961.6,1658.4 956.9,1651.3 945.9,1651.0 943.3,1648.4 949.9,1640.5Z"/><path clip-rule="evenodd" d="M1408.2,1515.8 1412.2,1519.8 1424.1,1521.8 1432.0,1525.7 1440.0,1531.7 1449.9,1539.6 1455.8,1543.6 1459.8,1547.6 1461.8,1553.5 1467.7,1559.5 1463.8,1567.4 1461.8,1571.4 1451.9,1575.3 1449.9,1579.3 1445.9,1571.4 1447.9,1559.5 1443.9,1551.5 1438.0,1545.6 1436.0,1539.6 1426.1,1533.7 1416.1,1535.7 1412.2,1527.7 1408.2,1521.8Z"/><path clip-rule="evenodd" d="M1305.0,1548.6 1322.9,1547.6 1342.7,1551.5 1358.6,1555.5 1362.6,1559.5 1358.6,1565.4 1342.7,1567.4 1322.9,1569.4 1313.0,1571.4 1309.0,1565.4 1307.0,1557.5Z"/><path clip-rule="evenodd" d="M1370.5,1557.5 1380.4,1559.5 1382.4,1565.4 1378.4,1573.4 1372.5,1575.3 1369.5,1567.4Z"/><path clip-rule="evenodd" d="M1305.0,1530.7 1320.9,1528.7 1326.9,1533.7 1322.9,1539.6 1313.0,1541.6 1306.0,1537.7Z"/><path clip-rule="evenodd" d="M1384.4,1510.9 1394.3,1513.8 1408.2,1516.8 1402.3,1522.8 1390.3,1523.8 1382.4,1521.8Z"/><path clip-rule="evenodd" d="M1306.3,1651.9 1314.3,1651.3 1321.5,1654.6 1324.8,1659.2 1330.1,1664.5 1334.1,1665.8 1335.4,1669.8 1332.8,1673.1 1327.5,1673.8 1323.5,1675.7 1322.2,1681.0 1320.9,1683.7 1310.3,1683.0 1305.0,1683.7 1301.0,1685.0 1298.4,1686.3 1300.4,1681.0 1305.0,1671.8 1306.3,1663.8 1305.0,1657.2Z"/><path clip-rule="evenodd" d="M1244.8,1729.1 1255.4,1719.8 1258.1,1723.8 1259.4,1729.1 1252.8,1733.0 1244.8,1735.7Z"/><path clip-rule="evenodd" d="M1170.8,1775.9 1182.7,1774.6 1189.3,1781.2 1192.0,1787.8 1182.7,1793.1 1174.8,1798.4 1170.8,1803.7 1169.5,1793.1 1170.8,1783.8Z"/></clipPath>
<path clip-path="url(#wclip3)" d="M969 1426L973 1441M969 1426L979 1419M979 1419L987 1424M987 1424L977 1442M977 1442L974 1441M973 1441L974 1441M942 1444L937 1455M936 1584L936 1582M923 1593L936 1584M920 1574L916 1579M1218 1532L1220 1522M1221 1536L1236 1531M1218 1532L1221 1536M936 1584L944 1591M944 1591L932 1607M1248 1546L1250 1532M1248 1546L1238 1546M1238 1546L1237 1532M1253 1551L1248 1546M1253 1551L1265 1548M1253 1551L1250 1559M1235 1549L1240 1561M1235 1549L1238 1546M1223 1548L1235 1549M1221 1536L1223 1548M1326 1669L1340 1671M979 1418L979 1419M969 1426L966 1425M956 1440L955 1431M956 1440L973 1441M966 1425L955 1431M953 1444L956 1440M955 1431L950 1428M979 1418L983 1411M987 1424L995 1425M980 1444L993 1444M977 1442L980 1444M993 1444L995 1425M1208 1532L1218 1532M1205 1548L1208 1532M1223 1548L1222 1548M1250 1645L1252 1639M1252 1639L1237 1634M1264 1636L1265 1638M1255 1634L1252 1639M1255 1634L1264 1636M1255 1634L1253 1626M1253 1626L1238 1625M963 1653L955 1651M955 1651L949 1654M967 1668L963 1653M983 1663L983 1655M983 1655L979 1651M963 1653L968 1649M968 1649L979 1651M955 1651L954 1638M954 1638L952 1637M936 1635L937 1652M936 1582L948 1573M948 1573L946 1562M946 1562L939 1560M1330 1560L1326 1567M1330 1560L1327 1548M1311 1558L1326 1567M1311 1558L1311 1557M1311 1557L1315 1547M1265 1548L1268 1561M1268 1561L1267 1564M1250 1559L1256 1567M1395 1515L1389 1515M1399 1520L1395 1515M1296 1548L1293 1551M1293 1551L1283 1549M1283 1549L1283 1549M1308 1532L1312 1544M1298 1558L1293 1551M1268 1561L1281 1559M1281 1559L1283 1549M1194 1548L1178 1549M1175 1474L1176 1482M1178 1484L1176 1482M1194 1548L1192 1533M1205 1548L1194 1548M1208 1532L1203 1530M1192 1533L1203 1530M1203 1530L1203 1514M1077 1382L1072 1397M1072 1397L1087 1403M1040 1395L1039 1384M1058 1381L1058 1394M1040 1395L1043 1397M1043 1397L1058 1394M1070 1398L1072 1397M1070 1398L1059 1395M1059 1395L1058 1394M1040 1395L1027 1400M1023 1387L1023 1397M1023 1397L1027 1400M995 1425L997 1424M997 1424L998 1411M1023 1397L1012 1399M1100 1414L1097 1425M1103 1427L1097 1425M1103 1427L1116 1421M983 1663L994 1667M994 1667L996 1669M996 1669L997 1676M997 1676L997 1676M1010 1661L996 1669M1010 1661L1010 1658M994 1667L998 1650M1010 1658L998 1650M983 1655L997 1649M998 1650L997 1649M1223 1624L1219 1609M1206 1621L1213 1608M1248 1595L1235 1593M1248 1595L1252 1608M1252 1608L1252 1609M1233 1591L1235 1593M1256 1620L1252 1609M1253 1626L1256 1620M1193 1607L1192 1596M1192 1608L1195 1617M1192 1608L1193 1607M1311 1664L1317 1669M1325 1667L1317 1669M1311 1664L1312 1651M1325 1667L1326 1669M1263 1603L1252 1608M1256 1620L1270 1619M1264 1636L1274 1621M1330 1560L1341 1561M1385 1561L1371 1563M1371 1563L1372 1575M969 1574L978 1577M969 1574L965 1560M984 1562L978 1577M963 1457L957 1456M957 1456L954 1459M974 1441L963 1457M979 1456L980 1444M953 1444L957 1456M997 1649L998 1642M979 1651L984 1639M984 1639L998 1642M949 1592L953 1595M949 1592L953 1577M963 1588L966 1576M953 1577L966 1576M948 1573L953 1577M936 1582L936 1582M944 1591L949 1592M978 1607L981 1603M977 1594L981 1603M978 1607L967 1606M969 1637L980 1633M969 1637L964 1634M964 1634L962 1621M980 1633L982 1623M965 1619L962 1621M965 1619L979 1621M968 1649L969 1637M984 1639L980 1633M954 1638L964 1634M954 1620L962 1621M999 1640L998 1642M993 1621L999 1640M978 1607L979 1621M994 1603L981 1603M936 1635L936 1634M936 1634L936 1627M969 1574L966 1576M965 1560L965 1560M946 1562L948 1560M948 1560L965 1560M1281 1559L1285 1566M1311 1558L1308 1574M1252 1590L1264 1595M1248 1595L1252 1590M1345 1558L1358 1563M1345 1558L1343 1548M1358 1563L1360 1561M1341 1561L1345 1558M1136 1491L1133 1503M1136 1491L1149 1491M1149 1491L1152 1499M1152 1499L1141 1507M1141 1507L1133 1503M1151 1516L1157 1512M1159 1503L1157 1512M1159 1503L1152 1499M1134 1487L1136 1491M1134 1487L1118 1487M1116 1498L1118 1487M1175 1474L1175 1474M1175 1474L1172 1454M1157 1443L1163 1454M1163 1454L1172 1454M1157 1512L1165 1518M1157 1531L1162 1529M1165 1518L1162 1529M1317 1669L1312 1680M1299 1680L1312 1680M1087 1547L1086 1561M1165 1559L1162 1547M1157 1531L1160 1546M1101 1446L1107 1442M1101 1446L1087 1435M1107 1442L1103 1427M1087 1435L1086 1428M1097 1425L1087 1427M1087 1427L1086 1428M1087 1427L1087 1406M1043 1397L1045 1412M1059 1395L1056 1412M1045 1412L1056 1412M1045 1412L1044 1413M1027 1400L1028 1410M1028 1410L1044 1413M984 1461L997 1450M1000 1453L997 1450M993 1444L996 1447M997 1450L996 1447M1007 1455L1000 1453M1007 1455L1008 1455M1119 1473L1121 1457M1119 1473L1138 1472M1138 1472L1138 1471M1138 1471L1134 1460M1134 1460L1129 1456M1129 1456L1122 1455M1121 1457L1122 1455M1139 1440L1129 1456M1146 1441L1147 1452M1147 1452L1134 1460M1087 1435L1081 1444M1099 1452L1087 1456M1101 1446L1099 1452M1087 1456L1081 1444M1081 1444L1074 1445M1115 1442L1117 1443M1115 1442L1119 1424M1117 1443L1134 1437M1119 1424L1130 1425M1099 1452L1105 1461M1105 1461L1121 1457M1107 1442L1115 1442M1122 1455L1117 1443M1116 1421L1119 1424M1139 1440L1134 1437M999 1640L1011 1637M1010 1658L1016 1652M1016 1652L1011 1637M1013 1635L1011 1637M1010 1661L1014 1667M997 1676L1009 1679M1013 1635L1028 1640M1016 1652L1027 1651M1028 1640L1027 1651M1029 1653L1027 1651M1194 1548L1194 1548M1389 1515L1388 1517M1004 1575L995 1570M1004 1575L993 1590M995 1570L981 1579M993 1590L983 1584M983 1584L981 1579M978 1577L981 1579M984 1562L987 1559M994 1561L987 1559M994 1561L995 1570M996 1596L996 1600M996 1600L994 1603M977 1594L983 1584M996 1596L993 1590M1010 1545L1000 1546M1010 1545L1013 1564M1000 1546L997 1558M1013 1564L997 1558M1014 1566L1013 1564M1014 1566L1025 1562M1025 1562L1029 1557M1026 1548L1029 1557M1026 1548L1012 1544M1012 1544L1010 1545M994 1561L997 1558M1010 1575L1014 1566M1010 1575L1004 1575M996 1596L1011 1589M1010 1575L1012 1578M1012 1578L1011 1589M936 1634L925 1636M963 1532L968 1529M972 1518L968 1529M965 1560L967 1552M1285 1566L1281 1574M1279 1575L1281 1574M1102 1470L1104 1469M1104 1469L1119 1474M1119 1474L1118 1486M1118 1487L1118 1486M1105 1461L1104 1469M1119 1473L1119 1474M1134 1487L1138 1472M1165 1490L1176 1482M1165 1490L1157 1485M1175 1474L1166 1473M1166 1473L1157 1485M1166 1500L1165 1490M1159 1503L1166 1500M1149 1491L1153 1485M1153 1485L1157 1485M1160 1546L1162 1547M1162 1529L1173 1533M1192 1533L1191 1532M1175 1536L1191 1532M1312 1680L1312 1680M1324 1686L1312 1680M1089 1564L1087 1574M1072 1579L1070 1577M1086 1561L1089 1564M1066 1563L1070 1577M1070 1577L1056 1581M1058 1431L1071 1431M1057 1429L1060 1415M1071 1431L1078 1427M1078 1427L1071 1415M1060 1415L1070 1414M1070 1414L1071 1415M1044 1413L1042 1425M1042 1425L1057 1429M1056 1412L1060 1415M1086 1428L1078 1427M1087 1405L1071 1415M1070 1398L1070 1414M1012 1399L1013 1409M1026 1414L1013 1409M998 1411L1011 1412M1011 1412L1013 1409M1042 1425L1041 1426M1028 1640L1030 1638M948 1560L950 1541M938 1545L950 1541M963 1532L952 1532M967 1552L951 1540M952 1532L951 1540M950 1541L951 1540M1012 1544L1013 1537M1013 1537L1007 1529M1011 1589L1013 1593M1013 1593L1012 1604M1308 1532L1310 1528M1163 1471L1146 1473M1163 1471L1159 1458M1152 1459L1159 1458M1152 1459L1144 1471M1144 1471L1146 1473M1166 1473L1163 1471M1153 1485L1146 1473M1163 1454L1159 1458M1147 1452L1152 1459M1138 1471L1144 1471M1187 1517L1187 1517M1187 1517L1178 1515M1177 1514L1178 1515M1177 1514L1175 1504M1176 1502L1175 1504M1191 1532L1187 1517M1173 1533L1178 1515M1165 1518L1177 1514M1166 1500L1175 1504M1178 1484L1176 1502M971 1517L972 1518M1026 1548L1027 1548M1029 1557L1038 1559M1027 1548L1043 1542M1038 1559L1044 1546M1043 1542L1044 1546M1056 1527L1055 1520M1056 1527L1069 1530M1059 1514L1055 1520M1059 1514L1075 1515M1075 1515L1071 1528M1071 1528L1069 1530M1053 1530L1059 1545M1053 1530L1056 1527M1072 1543L1069 1530M1057 1503L1059 1514M1044 1515L1055 1520M1088 1530L1071 1528M1025 1562L1030 1574M1012 1578L1025 1582M1030 1574L1025 1582M1049 1575L1060 1563M1049 1575L1044 1575M1043 1573L1044 1575M1043 1573L1041 1562M1041 1562L1053 1557M1053 1557L1060 1563M1066 1563L1060 1563M1056 1581L1049 1575M1038 1559L1041 1562M1030 1574L1043 1573M1044 1546L1053 1550M1053 1550L1053 1557M1059 1545L1053 1550M1087 1574L1090 1579M1119 1560L1120 1561M1120 1561L1113 1575M1102 1559L1098 1562M1117 1549L1119 1560M1102 1545L1102 1559M1120 1582L1113 1575M1089 1564L1098 1562M1121 1587L1120 1582M1192 1608L1175 1610M1179 1592L1172 1606M1165 1576L1149 1573M1165 1576L1162 1562M1029 1428L1029 1437M1029 1437L1022 1444M1022 1444L1016 1442M1041 1426L1029 1428M1011 1412L1014 1425M1007 1455L1016 1442M997 1424L1010 1428M1022 1444L1027 1456M1413 1533L1417 1515M1414 1534L1431 1532M1432 1530L1431 1532M1257 1726L1255 1723M1043 1536L1047 1532M1043 1536L1030 1532M1047 1532L1037 1519M1030 1532L1026 1527M1026 1527L1026 1524M1026 1524L1031 1518M1031 1518L1037 1519M1053 1530L1047 1532M1043 1542L1043 1536M1027 1548L1030 1532M1044 1515L1037 1519M1013 1537L1026 1527M1015 1518L1026 1524M1025 1593L1027 1587M1027 1587L1040 1588M1043 1594L1040 1588M1013 1593L1025 1593M1025 1582L1027 1587M1044 1575L1040 1588M1121 1587L1134 1592M1133 1602L1134 1592M1134 1592L1135 1591M1165 1576L1165 1576M1179 1592L1178 1588M1433 1544L1443 1546M1460 1576L1457 1562M1457 1562L1447 1562M1462 1555L1449 1540M1457 1562L1460 1559M1460 1559L1462 1555M1443 1546L1449 1540M934 1519L933 1529M934 1519L939 1515M933 1529L951 1531M939 1515L952 1517M951 1531L953 1519M953 1519L952 1517M933 1530L933 1529M952 1532L951 1531M953 1507L952 1517M971 1517L953 1519M1175 1800L1167 1798M1257 1726L1253 1737M1192 1785L1177 1784M1177 1784L1177 1799M1173 1781L1177 1784M1178 1588L1159 1593M1165 1576L1159 1592" fill="none" stroke="#d2d2d2" stroke-width="0.7"/>
</g>
<path d="M1296.4,1697.3 1297.0,1691.6 1301.0,1689.0 1306.0,1684.0 1311.0,1682.5 1316.0,1681.0 1320.0,1678.0 1323.5,1677.0 1324.0,1688.0 1323.0,1694.7 1311.0,1697.3Z" fill="#fff"/><path d="M1296.5 1697.0L1296.1 1693.9L1296.9 1690.7L1295.0 1688.6M1297.7 1696.9L1299.2 1694.5L1298.7 1691.5L1298.1 1688.6M1298.6 1696.9L1298.7 1693.2L1299.1 1689.7M1299.4 1696.9L1298.8 1693.7L1300.5 1691.6L1300.1 1688.7M1300.7 1696.8L1300.4 1692.9L1300.5 1689.3M1301.9 1696.7L1300.8 1694.5L1303.3 1692.1L1302.3 1689.2M1302.9 1696.7L1302.4 1693.9L1303.1 1690.7L1303.4 1686.9M1304.1 1696.6L1304.7 1692.6L1305.2 1690.3L1305.4 1686.4M1305.2 1696.6L1306.2 1694.1L1304.6 1691.0L1306.3 1688.9L1304.0 1684.9M1306.4 1696.5L1305.8 1694.2L1307.6 1690.7L1306.8 1688.6L1307.1 1686.5L1307.6 1683.8M1307.7 1696.4L1307.2 1692.4L1308.0 1690.3L1306.8 1688.2L1308.1 1685.4M1308.6 1696.4L1308.0 1692.7L1309.8 1688.7L1308.5 1686.0L1309.0 1682.9M1309.7 1696.3L1311.0 1693.1L1309.5 1690.1L1308.9 1686.6L1311.1 1684.0M1310.8 1696.3L1310.5 1694.3L1309.3 1691.1L1311.2 1687.9L1311.1 1685.8L1311.3 1682.8M1311.7 1696.2L1310.3 1692.8L1312.3 1690.6L1311.0 1686.7L1312.0 1683.8M1312.7 1696.2L1312.3 1693.6L1312.1 1690.4L1313.5 1687.6L1312.9 1685.6L1312.1 1682.1M1313.6 1696.1L1312.7 1693.7L1314.2 1690.8L1313.1 1688.6L1314.6 1685.9L1314.7 1683.0M1314.5 1696.1L1315.6 1692.8L1313.7 1689.9L1314.6 1687.7L1315.4 1685.3L1313.5 1681.6L1315.4 1679.0M1315.6 1696.0L1314.5 1693.4L1316.5 1690.8L1315.2 1688.2L1315.4 1685.4L1316.9 1682.6M1316.5 1696.0L1317.6 1692.1L1316.3 1688.1L1317.8 1684.2L1317.2 1681.8L1317.0 1678.1M1317.6 1695.9L1316.7 1693.3L1317.8 1691.1L1318.5 1688.6L1318.8 1686.5L1318.8 1683.1L1318.7 1679.3M1318.6 1695.9L1317.7 1692.4L1319.1 1689.8L1318.4 1686.8L1319.0 1682.9L1317.9 1680.2L1318.6 1676.5M1319.8 1695.8L1319.9 1693.4L1318.8 1689.8L1321.1 1686.2L1320.8 1682.6L1320.2 1680.6L1318.5 1676.9M1320.8 1695.8L1320.5 1692.7L1321.6 1689.8L1319.4 1687.8L1319.6 1685.5L1322.2 1683.4L1319.5 1679.7L1320.2 1676.7M1321.7 1695.7L1322.0 1692.4L1320.8 1689.7L1320.6 1687.1L1322.4 1684.0L1320.5 1681.2L1321.3 1678.8L1322.6 1675.6M1322.7 1695.7L1322.5 1692.4L1322.7 1689.7L1322.5 1686.3L1322.6 1682.9L1322.8 1680.4L1321.4 1677.0M1323.7 1695.6L1325.0 1691.9L1324.9 1689.1L1323.0 1685.5L1322.6 1682.6L1324.2 1679.0L1324.6 1675.2" fill="none" stroke="#000" stroke-width="1.2"/>
<path d="M938.6,1454.3 939.6,1446.4 948.6,1444.4 949.6,1437.5 950.5,1428.5 959.5,1426.5 965.4,1422.6 973.4,1420.6 977.3,1415.6 985.3,1411.7 991.2,1417.6 997.2,1416.6 1000.2,1408.7 1008.1,1401.7 1011.1,1397.8 1019.0,1391.8 1028.9,1389.8 1044.8,1388.8 1052.7,1388.8 1062.7,1384.9 1071.6,1386.9 1075.5,1388.8 1079.5,1394.8 1080.5,1405.7 1086.5,1407.7 1094.4,1410.7 1102.3,1415.6 1112.3,1417.6 1120.2,1417.6 1127.1,1420.6 1129.1,1426.5 1132.1,1434.5 1140.0,1440.4 1150.0,1443.4 1159.9,1444.4 1166.8,1450.3 1171.8,1452.3 1175.7,1458.3 1175.7,1470.2 1179.7,1472.2 1177.7,1480.1 1182.7,1488.0 1183.7,1498.0 1185.7,1507.9 1187.2,1507.4 1183.2,1510.0 1189.8,1514.0 1196.4,1516.6 1203.0,1515.3 1211.0,1519.3 1218.9,1520.6 1224.2,1519.3 1228.2,1525.9 1229.5,1531.2 1233.5,1533.8 1242.7,1532.5 1249.3,1536.5 1256.0,1537.1 1269.2,1536.5 1279.8,1532.5 1281.2,1527.7 1301.1,1525.7 1305.0,1529.7 1311.0,1528.7 1320.9,1527.7 1326.9,1529.7 1330.8,1533.7 1334.8,1527.7 1346.7,1523.8 1356.6,1515.8 1362.6,1515.8 1372.5,1511.9 1382.4,1507.9 1388.4,1509.9 1394.3,1513.8 1408.2,1515.8 1412.2,1519.8 1424.1,1521.8 1432.0,1525.7 1440.0,1531.7 1449.9,1539.6 1455.8,1543.6 1459.8,1547.6 1461.8,1553.5 1467.7,1559.5 1463.8,1567.4 1461.8,1571.4 1451.9,1575.3 1452.8,1583.3 1455.8,1590.2 1447.9,1587.3 1441.9,1585.3 1434.0,1589.2 1426.1,1597.2 1420.1,1603.1 1410.2,1607.1 1408.2,1617.0 1406.2,1625.0 1402.3,1630.9 1398.3,1634.9 1394.3,1642.8 1392.3,1650.7 1390.3,1658.7 1386.1,1660.7 1381.3,1670.6 1379.8,1672.2 1375.8,1669.6 1371.8,1660.3 1359.9,1659.0 1356.0,1661.6 1353.3,1670.9 1358.6,1681.5 1349.3,1678.8 1342.7,1670.9 1340.1,1664.3 1334.8,1664.3 1334.8,1670.9 1329.5,1676.2 1329.5,1692.0 1322.9,1694.7 1311.0,1697.3 1296.4,1697.3 1297.8,1690.7 1296.4,1688.1 1287.2,1696.0 1279.2,1700.0 1276.6,1706.6 1280.6,1711.9 1275.3,1714.5 1273.9,1719.8 1268.7,1723.8 1260.7,1729.1 1252.8,1733.0 1244.8,1735.7 1240.9,1739.7 1234.3,1746.3 1227.7,1754.2 1221.0,1759.5 1214.4,1766.1 1203.8,1772.7 1174.8,1798.4 1169.5,1803.7 1158.9,1806.3 1157.6,1810.3 1158.9,1822.2 1158.9,1832.8 1161.6,1843.4 1160.2,1856.6 1156.3,1869.8 1153.6,1883.0 1154.3,1901.6 1148.3,1902.9 1143.0,1906.9 1137.8,1916.1 1140.4,1918.8 1145.7,1921.4 1140.4,1920.1 1133.8,1921.4 1128.5,1924.1 1124.5,1932.0 1119.2,1937.3 1113.9,1940.6 1108.7,1938.6 1102.0,1932.0 1095.4,1922.7 1091.5,1913.5 1088.8,1902.9 1084.8,1891.0 1079.6,1880.4 1072.9,1869.8 1066.3,1856.6 1062.4,1846.0 1057.1,1832.8 1051.8,1820.9 1046.5,1810.3 1041.2,1797.1 1037.2,1777.2 1034.6,1764.0 1033.2,1759.5 1031.9,1752.9 1030.6,1746.3 1029.2,1739.7 1027.9,1733.0 1026.6,1726.4 1027.9,1717.2 1029.2,1711.9 1026.6,1706.6 1025.3,1700.0 1023.9,1693.4 1022.6,1688.1 1023.9,1686.8 1022.6,1690.7 1021.3,1696.0 1018.7,1702.6 1010.7,1707.9 1002.8,1711.9 996.2,1713.2 989.6,1710.6 980.3,1703.9 973.7,1696.0 967.1,1688.1 961.8,1682.8 962.4,1681.5 964.8,1679.9 968.0,1679.1 974.3,1677.5 980.7,1676.7 985.4,1673.5 989.4,1668.0 987.0,1669.6 982.3,1672.7 974.3,1674.3 964.8,1671.9 958.4,1668.0 955.3,1663.2 953.7,1658.4 952.1,1655.3 947.3,1653.7 939.4,1652.1 935.4,1648.9 933.8,1642.6 931.5,1637.8 925.9,1636.2 921.1,1633.8 918.8,1629.9 914.0,1622.3 910.5,1623.1 911.2,1607.9 909.2,1596.0 915.2,1578.8 913.8,1573.5 915.2,1568.2 919.1,1558.9 923.1,1548.4 927.1,1537.8 931.0,1531.2 932.4,1524.6 936.3,1519.3 937.7,1511.3 942.9,1507.4 946.9,1499.4 949.6,1491.5 954.8,1483.6 962.8,1474.3 964.4,1464.2 967.4,1458.3 961.5,1459.3 953.5,1459.3 945.6,1457.3 940.6,1456.3Z" fill="none" stroke="#000" stroke-width="1.3" stroke-linejoin="round"/>
<path d="M921.4 1634.4L923.5 1635.8L924.9 1636.5L924.7 1636.1L928.9 1637.1L930.7 1636.3L931.4 1637.1L932.4 1639.6L931.8 1640.3L933.2 1643.7L934.9 1643.3L935.4 1644.8L935.3 1646.4L934.1 1649.9L936.0 1649.2L939.3 1652.0L938.9 1653.3L941.1 1652.9L941.8 1653.9L944.6 1654.3L946.7 1652.9L946.9 1652.8L948.0 1653.1L950.0 1655.0L950.8 1655.8L952.5 1656.4L954.5 1658.3L953.8 1660.0L955.3 1660.4L956.5 1662.0L957.0 1665.7L956.1 1667.1L958.4 1668.0" fill="none" stroke="#000" stroke-width="1.8"/>
<path d="M962.4 1683.8L963.2 1680.8L963.5 1680.3L966.3 1680.2L967.7 1679.8L969.0 1679.5L971.7 1678.1L972.8 1678.4L973.5 1677.6L976.7 1676.7L978.3 1677.6L980.0 1676.5L979.6 1677.5L983.1 1675.5L982.8 1673.8L985.4 1673.5" fill="none" stroke="#000" stroke-width="1.8"/>
<line x1="141.4" y1="61.2" x2="141.4" y2="70.2" stroke="#000" stroke-width="1.3"/>
<line x1="141.4" y1="675.4" x2="141.4" y2="684.4" stroke="#000" stroke-width="1.3"/>
<text x="141.4" y="53.5" text-anchor="middle" stroke="#000">68°</text>
<line x1="316.8" y1="61.2" x2="316.8" y2="70.2" stroke="#000" stroke-width="1.3"/>
<line x1="316.8" y1="675.4" x2="316.8" y2="684.4" stroke="#000" stroke-width="1.3"/>
<text x="316.8" y="53.5" text-anchor="middle" stroke="#000">78°</text>
<line x1="492.2" y1="61.2" x2="492.2" y2="70.2" stroke="#000" stroke-width="1.3"/>
<line x1="492.2" y1="675.4" x2="492.2" y2="684.4" stroke="#000" stroke-width="1.3"/>
<text x="492.2" y="53.5" text-anchor="middle" stroke="#000">88°</text>
<line x1="667.6" y1="61.2" x2="667.6" y2="70.2" stroke="#000" stroke-width="1.3"/>
<line x1="667.6" y1="675.4" x2="667.6" y2="684.4" stroke="#000" stroke-width="1.3"/>
<text x="667.6" y="53.5" text-anchor="middle" stroke="#000">98°</text>
<line x1="71.5" y1="81.0" x2="80.5" y2="81.0" stroke="#000" stroke-width="1.3"/>
<line x1="684.7" y1="81.0" x2="693.7" y2="81.0" stroke="#000" stroke-width="1.3"/>
<text x="64.0" y="93.0" text-anchor="end" stroke="#000">38°</text>
<text x="701.7" y="93.0" text-anchor="start" stroke="#000">38°</text>
<line x1="71.5" y1="289.4" x2="80.5" y2="289.4" stroke="#000" stroke-width="1.3"/>
<line x1="684.7" y1="289.4" x2="693.7" y2="289.4" stroke="#000" stroke-width="1.3"/>
<text x="64.0" y="301.4" text-anchor="end" stroke="#000">28°</text>
<text x="701.7" y="301.4" text-anchor="start" stroke="#000">28°</text>
<line x1="71.5" y1="478.8" x2="80.5" y2="478.8" stroke="#000" stroke-width="1.3"/>
<line x1="684.7" y1="478.8" x2="693.7" y2="478.8" stroke="#000" stroke-width="1.3"/>
<text x="64.0" y="490.8" text-anchor="end" stroke="#000">18°</text>
<text x="701.7" y="490.8" text-anchor="start" stroke="#000">18°</text>
<line x1="71.5" y1="657.6" x2="80.5" y2="657.6" stroke="#000" stroke-width="1.3"/>
<line x1="684.7" y1="657.6" x2="693.7" y2="657.6" stroke="#000" stroke-width="1.3"/>
<text x="64.0" y="669.6" text-anchor="end" stroke="#000">8°</text>
<text x="701.7" y="669.6" text-anchor="start" stroke="#000">8°</text>
<rect x="80.5" y="70.2" width="604.2" height="605.2" fill="none" stroke="#000" stroke-width="2.6"/>
<text x="35.5" y="25.0" text-anchor="start" stroke="#000">(a)</text>
<rect x="140.2" y="699.7" width="94.56" height="15.9" fill="#ffffcc"/>
<rect x="234.8" y="699.7" width="94.56" height="15.9" fill="#a1dab4"/>
<rect x="329.3" y="699.7" width="94.56" height="15.9" fill="#41b6c4"/>
<rect x="423.9" y="699.7" width="94.56" height="15.9" fill="#2c7fb8"/>
<rect x="518.4" y="699.7" width="94.56" height="15.9" fill="#253494"/>
<line x1="234.8" y1="699.7" x2="234.8" y2="715.6" stroke="#333" stroke-width="1.0"/>
<line x1="329.3" y1="699.7" x2="329.3" y2="715.6" stroke="#333" stroke-width="1.0"/>
<line x1="423.9" y1="699.7" x2="423.9" y2="715.6" stroke="#333" stroke-width="1.0"/>
<line x1="518.4" y1="699.7" x2="518.4" y2="715.6" stroke="#333" stroke-width="1.0"/>
<rect x="140.2" y="699.7" width="472.8" height="15.9" fill="none" stroke="#000" stroke-width="2.0"/>
<line x1="140.2" y1="715.6" x2="140.2" y2="724.1" stroke="#000" stroke-width="1.2"/>
<text x="140.2" y="756.8" text-anchor="middle" stroke="#000">50.0</text>
<line x1="234.8" y1="715.6" x2="234.8" y2="724.1" stroke="#000" stroke-width="1.2"/>
<text x="234.8" y="756.8" text-anchor="middle" stroke="#000">90.0</text>
<line x1="329.3" y1="715.6" x2="329.3" y2="724.1" stroke="#000" stroke-width="1.2"/>
<text x="329.3" y="756.8" text-anchor="middle" stroke="#000">95.0</text>
<line x1="423.9" y1="715.6" x2="423.9" y2="724.1" stroke="#000" stroke-width="1.2"/>
<text x="423.9" y="756.8" text-anchor="middle" stroke="#000">99.0</text>
<line x1="518.4" y1="715.6" x2="518.4" y2="724.1" stroke="#000" stroke-width="1.2"/>
<text x="518.4" y="756.8" text-anchor="middle" stroke="#000">99.9</text>
<line x1="613.0" y1="715.6" x2="613.0" y2="724.1" stroke="#000" stroke-width="1.2"/>
<text x="613.0" y="756.8" text-anchor="middle" stroke="#000">100.0</text>
<text x="387.5" y="797.9" text-anchor="middle" stroke="#000">Precipitation percentile (%)</text>
<line x1="945.4" y1="61.2" x2="945.4" y2="70.2" stroke="#000" stroke-width="1.3"/>
<line x1="945.4" y1="675.4" x2="945.4" y2="684.4" stroke="#000" stroke-width="1.3"/>
<text x="945.4" y="53.5" text-anchor="middle" stroke="#000">68°</text>
<line x1="1120.8" y1="61.2" x2="1120.8" y2="70.2" stroke="#000" stroke-width="1.3"/>
<line x1="1120.8" y1="675.4" x2="1120.8" y2="684.4" stroke="#000" stroke-width="1.3"/>
<text x="1120.8" y="53.5" text-anchor="middle" stroke="#000">78°</text>
<line x1="1296.2" y1="61.2" x2="1296.2" y2="70.2" stroke="#000" stroke-width="1.3"/>
<line x1="1296.2" y1="675.4" x2="1296.2" y2="684.4" stroke="#000" stroke-width="1.3"/>
<text x="1296.2" y="53.5" text-anchor="middle" stroke="#000">88°</text>
<line x1="1471.6" y1="61.2" x2="1471.6" y2="70.2" stroke="#000" stroke-width="1.3"/>
<line x1="1471.6" y1="675.4" x2="1471.6" y2="684.4" stroke="#000" stroke-width="1.3"/>
<text x="1471.6" y="53.5" text-anchor="middle" stroke="#000">98°</text>
<line x1="875.5" y1="81.0" x2="884.5" y2="81.0" stroke="#000" stroke-width="1.3"/>
<line x1="1488.7" y1="81.0" x2="1497.7" y2="81.0" stroke="#000" stroke-width="1.3"/>
<text x="868.0" y="93.0" text-anchor="end" stroke="#000">38°</text>
<text x="1505.7" y="93.0" text-anchor="start" stroke="#000">38°</text>
<line x1="875.5" y1="289.4" x2="884.5" y2="289.4" stroke="#000" stroke-width="1.3"/>
<line x1="1488.7" y1="289.4" x2="1497.7" y2="289.4" stroke="#000" stroke-width="1.3"/>
<text x="868.0" y="301.4" text-anchor="end" stroke="#000">28°</text>
<text x="1505.7" y="301.4" text-anchor="start" stroke="#000">28°</text>
<line x1="875.5" y1="478.8" x2="884.5" y2="478.8" stroke="#000" stroke-width="1.3"/>
<line x1="1488.7" y1="478.8" x2="1497.7" y2="478.8" stroke="#000" stroke-width="1.3"/>
<text x="868.0" y="490.8" text-anchor="end" stroke="#000">18°</text>
<text x="1505.7" y="490.8" text-anchor="start" stroke="#000">18°</text>
<line x1="875.5" y1="657.6" x2="884.5" y2="657.6" stroke="#000" stroke-width="1.3"/>
<line x1="1488.7" y1="657.6" x2="1497.7" y2="657.6" stroke="#000" stroke-width="1.3"/>
<text x="868.0" y="669.6" text-anchor="end" stroke="#000">8°</text>
<text x="1505.7" y="669.6" text-anchor="start" stroke="#000">8°</text>
<rect x="884.5" y="70.2" width="604.2" height="605.2" fill="none" stroke="#000" stroke-width="2.6"/>
<text x="839.5" y="25.0" text-anchor="start" stroke="#000">(b)</text>
<rect x="944.2" y="699.7" width="94.56" height="15.9" fill="#ffffcc"/>
<rect x="1038.8" y="699.7" width="94.56" height="15.9" fill="#a1dab4"/>
<rect x="1133.3" y="699.7" width="94.56" height="15.9" fill="#41b6c4"/>
<rect x="1227.9" y="699.7" width="94.56" height="15.9" fill="#2c7fb8"/>
<rect x="1322.4" y="699.7" width="94.56" height="15.9" fill="#253494"/>
<line x1="1038.8" y1="699.7" x2="1038.8" y2="715.6" stroke="#333" stroke-width="1.0"/>
<line x1="1133.3" y1="699.7" x2="1133.3" y2="715.6" stroke="#333" stroke-width="1.0"/>
<line x1="1227.9" y1="699.7" x2="1227.9" y2="715.6" stroke="#333" stroke-width="1.0"/>
<line x1="1322.4" y1="699.7" x2="1322.4" y2="715.6" stroke="#333" stroke-width="1.0"/>
<rect x="944.2" y="699.7" width="472.8" height="15.9" fill="none" stroke="#000" stroke-width="2.0"/>
<line x1="944.2" y1="715.6" x2="944.2" y2="724.1" stroke="#000" stroke-width="1.2"/>
<text x="944.2" y="756.8" text-anchor="middle" stroke="#000">50.0</text>
<line x1="1038.8" y1="715.6" x2="1038.8" y2="724.1" stroke="#000" stroke-width="1.2"/>
<text x="1038.8" y="756.8" text-anchor="middle" stroke="#000">90.0</text>
<line x1="1133.3" y1="715.6" x2="1133.3" y2="724.1" stroke="#000" stroke-width="1.2"/>
<text x="1133.3" y="756.8" text-anchor="middle" stroke="#000">95.0</text>
<line x1="1227.9" y1="715.6" x2="1227.9" y2="724.1" stroke="#000" stroke-width="1.2"/>
<text x="1227.9" y="756.8" text-anchor="middle" stroke="#000">99.0</text>
<line x1="1322.4" y1="715.6" x2="1322.4" y2="724.1" stroke="#000" stroke-width="1.2"/>
<text x="1322.4" y="756.8" text-anchor="middle" stroke="#000">99.9</text>
<line x1="1417.0" y1="715.6" x2="1417.0" y2="724.1" stroke="#000" stroke-width="1.2"/>
<text x="1417.0" y="756.8" text-anchor="middle" stroke="#000">100.0</text>
<text x="1191.5" y="797.9" text-anchor="middle" stroke="#000">Precipitation percentile (%)</text>
<line x1="141.4" y1="1345.2" x2="141.4" y2="1354.2" stroke="#000" stroke-width="1.3"/>
<line x1="141.4" y1="1959.4" x2="141.4" y2="1968.4" stroke="#000" stroke-width="1.3"/>
<text x="141.4" y="1337.5" text-anchor="middle" stroke="#000">68°</text>
<line x1="316.8" y1="1345.2" x2="316.8" y2="1354.2" stroke="#000" stroke-width="1.3"/>
<line x1="316.8" y1="1959.4" x2="316.8" y2="1968.4" stroke="#000" stroke-width="1.3"/>
<text x="316.8" y="1337.5" text-anchor="middle" stroke="#000">78°</text>
<line x1="492.2" y1="1345.2" x2="492.2" y2="1354.2" stroke="#000" stroke-width="1.3"/>
<line x1="492.2" y1="1959.4" x2="492.2" y2="1968.4" stroke="#000" stroke-width="1.3"/>
<text x="492.2" y="1337.5" text-anchor="middle" stroke="#000">88°</text>
<line x1="667.6" y1="1345.2" x2="667.6" y2="1354.2" stroke="#000" stroke-width="1.3"/>
<line x1="667.6" y1="1959.4" x2="667.6" y2="1968.4" stroke="#000" stroke-width="1.3"/>
<text x="667.6" y="1337.5" text-anchor="middle" stroke="#000">98°</text>
<line x1="71.5" y1="1365.0" x2="80.5" y2="1365.0" stroke="#000" stroke-width="1.3"/>
<line x1="684.7" y1="1365.0" x2="693.7" y2="1365.0" stroke="#000" stroke-width="1.3"/>
<text x="64.0" y="1377.0" text-anchor="end" stroke="#000">38°</text>
<text x="701.7" y="1377.0" text-anchor="start" stroke="#000">38°</text>
<line x1="71.5" y1="1573.4" x2="80.5" y2="1573.4" stroke="#000" stroke-width="1.3"/>
<line x1="684.7" y1="1573.4" x2="693.7" y2="1573.4" stroke="#000" stroke-width="1.3"/>
<text x="64.0" y="1585.4" text-anchor="end" stroke="#000">28°</text>
<text x="701.7" y="1585.4" text-anchor="start" stroke="#000">28°</text>
<line x1="71.5" y1="1762.8" x2="80.5" y2="1762.8" stroke="#000" stroke-width="1.3"/>
<line x1="684.7" y1="1762.8" x2="693.7" y2="1762.8" stroke="#000" stroke-width="1.3"/>
<text x="64.0" y="1774.8" text-anchor="end" stroke="#000">18°</text>
<text x="701.7" y="1774.8" text-anchor="start" stroke="#000">18°</text>
<line x1="71.5" y1="1941.6" x2="80.5" y2="1941.6" stroke="#000" stroke-width="1.3"/>
<line x1="684.7" y1="1941.6" x2="693.7" y2="1941.6" stroke="#000" stroke-width="1.3"/>
<text x="64.0" y="1953.6" text-anchor="end" stroke="#000">8°</text>
<text x="701.7" y="1953.6" text-anchor="start" stroke="#000">8°</text>
<rect x="80.5" y="1354.2" width="604.2" height="605.2" fill="none" stroke="#000" stroke-width="2.6"/>
<text x="35.5" y="1309.0" text-anchor="start" stroke="#000">(e)</text>
<rect x="140.2" y="1983.7" width="94.56" height="15.9" fill="#993404"/>
<rect x="234.8" y="1983.7" width="94.56" height="15.9" fill="#d95f0e"/>
<rect x="329.3" y="1983.7" width="94.56" height="15.9" fill="#fe9929"/>
<rect x="423.9" y="1983.7" width="94.56" height="15.9" fill="#fed98e"/>
<rect x="518.4" y="1983.7" width="94.56" height="15.9" fill="#ffffd4"/>
<line x1="234.8" y1="1983.7" x2="234.8" y2="1999.6" stroke="#333" stroke-width="1.0"/>
<line x1="329.3" y1="1983.7" x2="329.3" y2="1999.6" stroke="#333" stroke-width="1.0"/>
<line x1="423.9" y1="1983.7" x2="423.9" y2="1999.6" stroke="#333" stroke-width="1.0"/>
<line x1="518.4" y1="1983.7" x2="518.4" y2="1999.6" stroke="#333" stroke-width="1.0"/>
<rect x="140.2" y="1983.7" width="472.8" height="15.9" fill="none" stroke="#000" stroke-width="2.0"/>
<line x1="140.2" y1="1999.6" x2="140.2" y2="2008.1" stroke="#000" stroke-width="1.2"/>
<text x="140.2" y="2040.8" text-anchor="middle" stroke="#000">0</text>
<line x1="234.8" y1="1999.6" x2="234.8" y2="2008.1" stroke="#000" stroke-width="1.2"/>
<text x="234.8" y="2040.8" text-anchor="middle" stroke="#000">3</text>
<line x1="329.3" y1="1999.6" x2="329.3" y2="2008.1" stroke="#000" stroke-width="1.2"/>
<text x="329.3" y="2040.8" text-anchor="middle" stroke="#000">6</text>
<line x1="423.9" y1="1999.6" x2="423.9" y2="2008.1" stroke="#000" stroke-width="1.2"/>
<text x="423.9" y="2040.8" text-anchor="middle" stroke="#000">15</text>
<line x1="518.4" y1="1999.6" x2="518.4" y2="2008.1" stroke="#000" stroke-width="1.2"/>
<text x="518.4" y="2040.8" text-anchor="middle" stroke="#000">20</text>
<line x1="613.0" y1="1999.6" x2="613.0" y2="2008.1" stroke="#000" stroke-width="1.2"/>
<text x="613.0" y="2040.8" text-anchor="middle" stroke="#000">24</text>
<text x="387.5" y="2081.9" text-anchor="middle" stroke="#000">Lag (hour)</text>
<line x1="945.4" y1="1345.2" x2="945.4" y2="1354.2" stroke="#000" stroke-width="1.3"/>
<line x1="945.4" y1="1959.4" x2="945.4" y2="1968.4" stroke="#000" stroke-width="1.3"/>
<text x="945.4" y="1337.5" text-anchor="middle" stroke="#000">68°</text>
<line x1="1120.8" y1="1345.2" x2="1120.8" y2="1354.2" stroke="#000" stroke-width="1.3"/>
<line x1="1120.8" y1="1959.4" x2="1120.8" y2="1968.4" stroke="#000" stroke-width="1.3"/>
<text x="1120.8" y="1337.5" text-anchor="middle" stroke="#000">78°</text>
<line x1="1296.2" y1="1345.2" x2="1296.2" y2="1354.2" stroke="#000" stroke-width="1.3"/>
<line x1="1296.2" y1="1959.4" x2="1296.2" y2="1968.4" stroke="#000" stroke-width="1.3"/>
<text x="1296.2" y="1337.5" text-anchor="middle" stroke="#000">88°</text>
<line x1="1471.6" y1="1345.2" x2="1471.6" y2="1354.2" stroke="#000" stroke-width="1.3"/>
<line x1="1471.6" y1="1959.4" x2="1471.6" y2="1968.4" stroke="#000" stroke-width="1.3"/>
<text x="1471.6" y="1337.5" text-anchor="middle" stroke="#000">98°</text>
<line x1="875.5" y1="1365.0" x2="884.5" y2="1365.0" stroke="#000" stroke-width="1.3"/>
<line x1="1488.7" y1="1365.0" x2="1497.7" y2="1365.0" stroke="#000" stroke-width="1.3"/>
<text x="868.0" y="1377.0" text-anchor="end" stroke="#000">38°</text>
<text x="1505.7" y="1377.0" text-anchor="start" stroke="#000">38°</text>
<line x1="875.5" y1="1573.4" x2="884.5" y2="1573.4" stroke="#000" stroke-width="1.3"/>
<line x1="1488.7" y1="1573.4" x2="1497.7" y2="1573.4" stroke="#000" stroke-width="1.3"/>
<text x="868.0" y="1585.4" text-anchor="end" stroke="#000">28°</text>
<text x="1505.7" y="1585.4" text-anchor="start" stroke="#000">28°</text>
<line x1="875.5" y1="1762.8" x2="884.5" y2="1762.8" stroke="#000" stroke-width="1.3"/>
<line x1="1488.7" y1="1762.8" x2="1497.7" y2="1762.8" stroke="#000" stroke-width="1.3"/>
<text x="868.0" y="1774.8" text-anchor="end" stroke="#000">18°</text>
<text x="1505.7" y="1774.8" text-anchor="start" stroke="#000">18°</text>
<line x1="875.5" y1="1941.6" x2="884.5" y2="1941.6" stroke="#000" stroke-width="1.3"/>
<line x1="1488.7" y1="1941.6" x2="1497.7" y2="1941.6" stroke="#000" stroke-width="1.3"/>
<text x="868.0" y="1953.6" text-anchor="end" stroke="#000">8°</text>
<text x="1505.7" y="1953.6" text-anchor="start" stroke="#000">8°</text>
<rect x="884.5" y="1354.2" width="604.2" height="605.2" fill="none" stroke="#000" stroke-width="2.6"/>
<text x="839.5" y="1309.0" text-anchor="start" stroke="#000">(f)</text>
<rect x="944.2" y="1983.7" width="94.56" height="15.9" fill="#993404"/>
<rect x="1038.8" y="1983.7" width="94.56" height="15.9" fill="#d95f0e"/>
<rect x="1133.3" y="1983.7" width="94.56" height="15.9" fill="#fe9929"/>
<rect x="1227.9" y="1983.7" width="94.56" height="15.9" fill="#fed98e"/>
<rect x="1322.4" y="1983.7" width="94.56" height="15.9" fill="#ffffd4"/>
<line x1="1038.8" y1="1983.7" x2="1038.8" y2="1999.6" stroke="#333" stroke-width="1.0"/>
<line x1="1133.3" y1="1983.7" x2="1133.3" y2="1999.6" stroke="#333" stroke-width="1.0"/>
<line x1="1227.9" y1="1983.7" x2="1227.9" y2="1999.6" stroke="#333" stroke-width="1.0"/>
<line x1="1322.4" y1="1983.7" x2="1322.4" y2="1999.6" stroke="#333" stroke-width="1.0"/>
<rect x="944.2" y="1983.7" width="472.8" height="15.9" fill="none" stroke="#000" stroke-width="2.0"/>
<line x1="944.2" y1="1999.6" x2="944.2" y2="2008.1" stroke="#000" stroke-width="1.2"/>
<text x="944.2" y="2040.8" text-anchor="middle" stroke="#000">0</text>
<line x1="1038.8" y1="1999.6" x2="1038.8" y2="2008.1" stroke="#000" stroke-width="1.2"/>
<text x="1038.8" y="2040.8" text-anchor="middle" stroke="#000">24</text>
<line x1="1133.3" y1="1999.6" x2="1133.3" y2="2008.1" stroke="#000" stroke-width="1.2"/>
<text x="1133.3" y="2040.8" text-anchor="middle" stroke="#000">36</text>
<line x1="1227.9" y1="1999.6" x2="1227.9" y2="2008.1" stroke="#000" stroke-width="1.2"/>
<text x="1227.9" y="2040.8" text-anchor="middle" stroke="#000">48</text>
<line x1="1322.4" y1="1999.6" x2="1322.4" y2="2008.1" stroke="#000" stroke-width="1.2"/>
<text x="1322.4" y="2040.8" text-anchor="middle" stroke="#000">60</text>
<line x1="1417.0" y1="1999.6" x2="1417.0" y2="2008.1" stroke="#000" stroke-width="1.2"/>
<text x="1417.0" y="2040.8" text-anchor="middle" stroke="#000">72</text>
<text x="1191.5" y="2081.9" text-anchor="middle" stroke="#000">Lag (hour)</text>
<rect x="152.2" y="1088.2" width="70.6" height="7.4" fill="#2c7fb8" stroke="#1a4466" stroke-width="0.8"/>
<rect x="237.7" y="1051.2" width="70.6" height="44.4" fill="#2c7fb8" stroke="#1a4466" stroke-width="0.8"/>
<rect x="323.1" y="1064.9" width="70.6" height="30.7" fill="#2c7fb8" stroke="#1a4466" stroke-width="0.8"/>
<rect x="408.6" y="1013.1" width="70.6" height="82.5" fill="#2c7fb8" stroke="#1a4466" stroke-width="0.8"/>
<rect x="494.0" y="1014.1" width="70.6" height="81.5" fill="#2c7fb8" stroke="#1a4466" stroke-width="0.8"/>
<rect x="579.5" y="865.4" width="70.6" height="230.2" fill="#2c7fb8" stroke="#1a4466" stroke-width="0.8"/>
<line x1="107.6" y1="1095.6" x2="116.1" y2="1095.6" stroke="#000" stroke-width="1.3"/>
<line x1="686.3" y1="1095.6" x2="694.8" y2="1095.6" stroke="#000" stroke-width="1.3"/>
<text x="99.1" y="1107.6" text-anchor="end" stroke="#000">0</text>
<line x1="107.6" y1="983.7" x2="116.1" y2="983.7" stroke="#000" stroke-width="1.3"/>
<line x1="686.3" y1="983.7" x2="694.8" y2="983.7" stroke="#000" stroke-width="1.3"/>
<text x="99.1" y="995.7" text-anchor="end" stroke="#000">350</text>
<line x1="107.6" y1="871.8" x2="116.1" y2="871.8" stroke="#000" stroke-width="1.3"/>
<line x1="686.3" y1="871.8" x2="694.8" y2="871.8" stroke="#000" stroke-width="1.3"/>
<text x="99.1" y="883.8" text-anchor="end" stroke="#000">700</text>
<line x1="187.5" y1="847.3" x2="187.5" y2="855.8" stroke="#000" stroke-width="1.3"/>
<line x1="187.5" y1="1095.6" x2="187.5" y2="1104.1" stroke="#000" stroke-width="1.3"/>
<line x1="273.0" y1="847.3" x2="273.0" y2="855.8" stroke="#000" stroke-width="1.3"/>
<line x1="273.0" y1="1095.6" x2="273.0" y2="1104.1" stroke="#000" stroke-width="1.3"/>
<line x1="358.4" y1="847.3" x2="358.4" y2="855.8" stroke="#000" stroke-width="1.3"/>
<line x1="358.4" y1="1095.6" x2="358.4" y2="1104.1" stroke="#000" stroke-width="1.3"/>
<line x1="443.9" y1="847.3" x2="443.9" y2="855.8" stroke="#000" stroke-width="1.3"/>
<line x1="443.9" y1="1095.6" x2="443.9" y2="1104.1" stroke="#000" stroke-width="1.3"/>
<line x1="529.3" y1="847.3" x2="529.3" y2="855.8" stroke="#000" stroke-width="1.3"/>
<line x1="529.3" y1="1095.6" x2="529.3" y2="1104.1" stroke="#000" stroke-width="1.3"/>
<line x1="614.8" y1="847.3" x2="614.8" y2="855.8" stroke="#000" stroke-width="1.3"/>
<line x1="614.8" y1="1095.6" x2="614.8" y2="1104.1" stroke="#000" stroke-width="1.3"/>
<rect x="116.1" y="855.8" width="570.2" height="239.8" fill="none" stroke="#000" stroke-width="2.0"/>
<text x="192.4" y="1131.8" text-anchor="end" stroke="#000" transform="rotate(-60 192.4 1131.8)">50-70</text>
<text x="285.6" y="1131.8" text-anchor="end" stroke="#000" transform="rotate(-60 285.6 1131.8)">70-90</text>
<text x="376.9" y="1131.8" text-anchor="end" stroke="#000" transform="rotate(-60 376.9 1131.8)">90-95</text>
<text x="467.2" y="1133.7" text-anchor="end" stroke="#000" transform="rotate(-60 467.2 1133.7)">95-99</text>
<text x="569.6" y="1127.8" text-anchor="end" stroke="#000" transform="rotate(-60 569.6 1127.8)">99-99.9</text>
<text x="672.5" y="1119.9" text-anchor="end" stroke="#000" transform="rotate(-60 672.5 1119.9)">99.9-100</text>
<text x="405.2" y="1269.5" text-anchor="middle" stroke="#000">Precipitation percentile (%)</text>
<text x="25.3" y="980.1" text-anchor="middle" stroke="#000" transform="rotate(-90 25.3 980.1)" textLength="209.5" lengthAdjust="spacingAndGlyphs">No. of events</text>
<text x="36.5" y="826.5" text-anchor="start" stroke="#000">(c)</text>
<rect x="940.7" y="1093.2" width="70.8" height="2.4" fill="#2c7fb8" stroke="#1a4466" stroke-width="0.8"/>
<rect x="1032.3" y="1086.4" width="70.8" height="9.2" fill="#2c7fb8" stroke="#1a4466" stroke-width="0.8"/>
<rect x="1123.9" y="1087.6" width="70.8" height="8.0" fill="#2c7fb8" stroke="#1a4466" stroke-width="0.8"/>
<rect x="1215.4" y="1071.6" width="70.8" height="24.0" fill="#2c7fb8" stroke="#1a4466" stroke-width="0.8"/>
<rect x="1307.0" y="1058.0" width="70.8" height="37.6" fill="#2c7fb8" stroke="#1a4466" stroke-width="0.8"/>
<rect x="1398.6" y="878.1" width="70.8" height="217.5" fill="#2c7fb8" stroke="#1a4466" stroke-width="0.8"/>
<line x1="912.0" y1="1095.6" x2="920.5" y2="1095.6" stroke="#000" stroke-width="1.3"/>
<line x1="1489.5" y1="1095.6" x2="1498.0" y2="1095.6" stroke="#000" stroke-width="1.3"/>
<text x="903.5" y="1107.6" text-anchor="end" stroke="#000">0</text>
<line x1="912.0" y1="1035.6" x2="920.5" y2="1035.6" stroke="#000" stroke-width="1.3"/>
<line x1="1489.5" y1="1035.6" x2="1498.0" y2="1035.6" stroke="#000" stroke-width="1.3"/>
<text x="903.5" y="1047.6" text-anchor="end" stroke="#000">300</text>
<line x1="912.0" y1="975.6" x2="920.5" y2="975.6" stroke="#000" stroke-width="1.3"/>
<line x1="1489.5" y1="975.6" x2="1498.0" y2="975.6" stroke="#000" stroke-width="1.3"/>
<text x="903.5" y="987.6" text-anchor="end" stroke="#000">600</text>
<line x1="912.0" y1="915.7" x2="920.5" y2="915.7" stroke="#000" stroke-width="1.3"/>
<line x1="1489.5" y1="915.7" x2="1498.0" y2="915.7" stroke="#000" stroke-width="1.3"/>
<text x="903.5" y="927.7" text-anchor="end" stroke="#000">900</text>
<line x1="912.0" y1="855.7" x2="920.5" y2="855.7" stroke="#000" stroke-width="1.3"/>
<line x1="1489.5" y1="855.7" x2="1498.0" y2="855.7" stroke="#000" stroke-width="1.3"/>
<text x="903.5" y="867.7" text-anchor="end" stroke="#000">1200</text>
<line x1="976.1" y1="847.2" x2="976.1" y2="855.7" stroke="#000" stroke-width="1.3"/>
<line x1="976.1" y1="1095.6" x2="976.1" y2="1104.1" stroke="#000" stroke-width="1.3"/>
<line x1="1067.7" y1="847.2" x2="1067.7" y2="855.7" stroke="#000" stroke-width="1.3"/>
<line x1="1067.7" y1="1095.6" x2="1067.7" y2="1104.1" stroke="#000" stroke-width="1.3"/>
<line x1="1159.3" y1="847.2" x2="1159.3" y2="855.7" stroke="#000" stroke-width="1.3"/>
<line x1="1159.3" y1="1095.6" x2="1159.3" y2="1104.1" stroke="#000" stroke-width="1.3"/>
<line x1="1250.8" y1="847.2" x2="1250.8" y2="855.7" stroke="#000" stroke-width="1.3"/>
<line x1="1250.8" y1="1095.6" x2="1250.8" y2="1104.1" stroke="#000" stroke-width="1.3"/>
<line x1="1342.4" y1="847.2" x2="1342.4" y2="855.7" stroke="#000" stroke-width="1.3"/>
<line x1="1342.4" y1="1095.6" x2="1342.4" y2="1104.1" stroke="#000" stroke-width="1.3"/>
<line x1="1434.0" y1="847.2" x2="1434.0" y2="855.7" stroke="#000" stroke-width="1.3"/>
<line x1="1434.0" y1="1095.6" x2="1434.0" y2="1104.1" stroke="#000" stroke-width="1.3"/>
<rect x="920.5" y="855.7" width="569.0" height="239.9" fill="none" stroke="#000" stroke-width="2.0"/>
<text x="998.2" y="1131.8" text-anchor="end" stroke="#000" transform="rotate(-60 998.2 1131.8)">50-70</text>
<text x="1089.5" y="1131.8" text-anchor="end" stroke="#000" transform="rotate(-60 1089.5 1131.8)">70-90</text>
<text x="1180.8" y="1131.0" text-anchor="end" stroke="#000" transform="rotate(-60 1180.8 1131.0)">90-95</text>
<text x="1273.0" y="1133.0" text-anchor="end" stroke="#000" transform="rotate(-60 1273.0 1133.0)">95-99</text>
<text x="1375.4" y="1126.6" text-anchor="end" stroke="#000" transform="rotate(-60 1375.4 1126.6)">99-99.9</text>
<text x="1476.4" y="1119.9" text-anchor="end" stroke="#000" transform="rotate(-60 1476.4 1119.9)">99.9-100</text>
<text x="1209.0" y="1269.5" text-anchor="middle" stroke="#000">Precipitation percentile (%)</text>
<text x="829.1" y="980.1" text-anchor="middle" stroke="#000" transform="rotate(-90 829.1 980.1)" textLength="209.5" lengthAdjust="spacingAndGlyphs">No. of events</text>
<text x="839.5" y="826.5" text-anchor="start" stroke="#000">(d)</text>
<rect x="149.0" y="2220.1" width="21.6" height="159.8" fill="#d95f0e" stroke="#6b2f07" stroke-width="0.6"/>
<rect x="170.6" y="2257.7" width="21.6" height="122.2" fill="#2c7fb8" stroke="#1a4466" stroke-width="0.4"/>
<rect x="214.9" y="2204.1" width="21.6" height="175.8" fill="#d95f0e" stroke="#6b2f07" stroke-width="0.6"/>
<rect x="236.5" y="2228.9" width="21.6" height="151.0" fill="#2c7fb8" stroke="#1a4466" stroke-width="0.4"/>
<rect x="280.8" y="2255.3" width="21.6" height="124.6" fill="#d95f0e" stroke="#6b2f07" stroke-width="0.6"/>
<rect x="302.4" y="2279.2" width="21.6" height="100.7" fill="#2c7fb8" stroke="#1a4466" stroke-width="0.4"/>
<rect x="346.7" y="2222.5" width="21.6" height="157.4" fill="#d95f0e" stroke="#6b2f07" stroke-width="0.6"/>
<rect x="368.3" y="2244.5" width="21.6" height="135.4" fill="#2c7fb8" stroke="#1a4466" stroke-width="0.4"/>
<rect x="412.5" y="2263.6" width="21.6" height="116.3" fill="#d95f0e" stroke="#6b2f07" stroke-width="0.6"/>
<rect x="434.1" y="2282.8" width="21.6" height="97.1" fill="#2c7fb8" stroke="#1a4466" stroke-width="0.4"/>
<rect x="478.0" y="2258.9" width="21.6" height="121.0" fill="#d95f0e" stroke="#6b2f07" stroke-width="0.6"/>
<rect x="499.6" y="2278.0" width="21.6" height="101.9" fill="#2c7fb8" stroke="#1a4466" stroke-width="0.4"/>
<rect x="543.9" y="2272.0" width="21.6" height="107.9" fill="#d95f0e" stroke="#6b2f07" stroke-width="0.6"/>
<rect x="565.5" y="2294.8" width="21.6" height="85.1" fill="#2c7fb8" stroke="#1a4466" stroke-width="0.4"/>
<rect x="609.7" y="2151.6" width="21.6" height="228.3" fill="#d95f0e" stroke="#6b2f07" stroke-width="0.6"/>
<rect x="631.3" y="2183.3" width="21.6" height="196.6" fill="#2c7fb8" stroke="#1a4466" stroke-width="0.4"/>
<line x1="107.8" y1="2379.9" x2="116.3" y2="2379.9" stroke="#000" stroke-width="1.3"/>
<text x="98.3" y="2391.9" text-anchor="end" stroke="#000">0</text>
<line x1="107.8" y1="2260.1" x2="116.3" y2="2260.1" stroke="#000" stroke-width="1.3"/>
<text x="98.3" y="2272.1" text-anchor="end" stroke="#000">150</text>
<line x1="107.8" y1="2140.2" x2="116.3" y2="2140.2" stroke="#000" stroke-width="1.3"/>
<text x="98.3" y="2152.2" text-anchor="end" stroke="#000">300</text>
<line x1="111.8" y1="2320.0" x2="116.3" y2="2320.0" stroke="#000" stroke-width="1.2"/>
<line x1="111.8" y1="2200.1" x2="116.3" y2="2200.1" stroke="#000" stroke-width="1.2"/>
<line x1="686.4" y1="2379.9" x2="694.9" y2="2379.9" stroke="#000" stroke-width="1.3"/>
<text x="739.9" y="2391.9" text-anchor="end" stroke="#000">0</text>
<line x1="686.4" y1="2260.1" x2="694.9" y2="2260.1" stroke="#000" stroke-width="1.3"/>
<text x="739.9" y="2272.1" text-anchor="end" stroke="#000">10</text>
<line x1="686.4" y1="2140.2" x2="694.9" y2="2140.2" stroke="#000" stroke-width="1.3"/>
<text x="739.9" y="2152.2" text-anchor="end" stroke="#000">20</text>
<line x1="686.4" y1="2320.0" x2="690.9" y2="2320.0" stroke="#000" stroke-width="1.2"/>
<line x1="686.4" y1="2200.1" x2="690.9" y2="2200.1" stroke="#000" stroke-width="1.2"/>
<line x1="170.6" y1="2131.7" x2="170.6" y2="2140.2" stroke="#000" stroke-width="1.3"/>
<line x1="170.6" y1="2379.9" x2="170.6" y2="2388.4" stroke="#000" stroke-width="1.3"/>
<line x1="236.5" y1="2131.7" x2="236.5" y2="2140.2" stroke="#000" stroke-width="1.3"/>
<line x1="236.5" y1="2379.9" x2="236.5" y2="2388.4" stroke="#000" stroke-width="1.3"/>
<line x1="302.4" y1="2131.7" x2="302.4" y2="2140.2" stroke="#000" stroke-width="1.3"/>
<line x1="302.4" y1="2379.9" x2="302.4" y2="2388.4" stroke="#000" stroke-width="1.3"/>
<line x1="368.3" y1="2131.7" x2="368.3" y2="2140.2" stroke="#000" stroke-width="1.3"/>
<line x1="368.3" y1="2379.9" x2="368.3" y2="2388.4" stroke="#000" stroke-width="1.3"/>
<line x1="434.1" y1="2131.7" x2="434.1" y2="2140.2" stroke="#000" stroke-width="1.3"/>
<line x1="434.1" y1="2379.9" x2="434.1" y2="2388.4" stroke="#000" stroke-width="1.3"/>
<line x1="499.6" y1="2131.7" x2="499.6" y2="2140.2" stroke="#000" stroke-width="1.3"/>
<line x1="499.6" y1="2379.9" x2="499.6" y2="2388.4" stroke="#000" stroke-width="1.3"/>
<line x1="565.5" y1="2131.7" x2="565.5" y2="2140.2" stroke="#000" stroke-width="1.3"/>
<line x1="565.5" y1="2379.9" x2="565.5" y2="2388.4" stroke="#000" stroke-width="1.3"/>
<line x1="631.3" y1="2131.7" x2="631.3" y2="2140.2" stroke="#000" stroke-width="1.3"/>
<line x1="631.3" y1="2379.9" x2="631.3" y2="2388.4" stroke="#000" stroke-width="1.3"/>
<rect x="116.3" y="2140.2" width="570.1" height="239.7" fill="none" stroke="#000" stroke-width="2.3"/>
<text x="176.4" y="2416.0" text-anchor="end" stroke="#000" transform="rotate(-60 176.4 2416.0)">0-3</text>
<text x="243.9" y="2415.8" text-anchor="end" stroke="#000" transform="rotate(-60 243.9 2415.8)">3-6</text>
<text x="313.1" y="2414.8" text-anchor="end" stroke="#000" transform="rotate(-60 313.1 2414.8)">6-9</text>
<text x="382.7" y="2419.0" text-anchor="end" stroke="#000" transform="rotate(-60 382.7 2419.0)">9-12</text>
<text x="453.0" y="2416.8" text-anchor="end" stroke="#000" transform="rotate(-60 453.0 2416.8)">12-15</text>
<text x="521.7" y="2415.8" text-anchor="end" stroke="#000" transform="rotate(-60 521.7 2415.8)">15-18</text>
<text x="588.3" y="2412.8" text-anchor="end" stroke="#000" transform="rotate(-60 588.3 2412.8)">18-21</text>
<text x="659.5" y="2414.8" text-anchor="end" stroke="#000" transform="rotate(-60 659.5 2414.8)">21-24</text>
<text x="405.1" y="2528.8" text-anchor="middle" stroke="#000">Lag (hour)</text>
<text x="31.1" y="2260.0" text-anchor="middle" font-weight="bold" fill="#d95f0e" transform="rotate(-90 31.1 2260.0)">No. of events</text>
<text x="780.0" y="2259.6" text-anchor="middle" font-weight="bold" fill="#2c7fb8" transform="rotate(-90 780.0 2259.6)">Extreme events (%)</text>
<text x="50.0" y="2110.5" text-anchor="start" stroke="#000">(g)</text>
<rect x="941.1" y="2156.4" width="21.6" height="223.5" fill="#d95f0e" stroke="#6b2f07" stroke-width="0.6"/>
<rect x="962.7" y="2188.9" width="21.6" height="191.0" fill="#2c7fb8" stroke="#1a4466" stroke-width="0.4"/>
<rect x="1010.1" y="2217.5" width="21.6" height="162.4" fill="#d95f0e" stroke="#6b2f07" stroke-width="0.6"/>
<rect x="1031.7" y="2244.9" width="21.6" height="135.0" fill="#2c7fb8" stroke="#1a4466" stroke-width="0.4"/>
<rect x="1079.6" y="2292.1" width="21.6" height="87.8" fill="#d95f0e" stroke="#6b2f07" stroke-width="0.6"/>
<rect x="1101.2" y="2305.6" width="21.6" height="74.3" fill="#2c7fb8" stroke="#1a4466" stroke-width="0.4"/>
<rect x="1148.6" y="2281.6" width="21.6" height="98.3" fill="#d95f0e" stroke="#6b2f07" stroke-width="0.6"/>
<rect x="1170.2" y="2297.6" width="21.6" height="82.3" fill="#2c7fb8" stroke="#1a4466" stroke-width="0.4"/>
<rect x="1218.1" y="2293.6" width="21.6" height="86.3" fill="#d95f0e" stroke="#6b2f07" stroke-width="0.6"/>
<rect x="1239.7" y="2307.5" width="21.6" height="72.4" fill="#2c7fb8" stroke="#1a4466" stroke-width="0.4"/>
<rect x="1287.1" y="2300.8" width="21.6" height="79.1" fill="#d95f0e" stroke="#6b2f07" stroke-width="0.6"/>
<rect x="1308.7" y="2314.4" width="21.6" height="65.5" fill="#2c7fb8" stroke="#1a4466" stroke-width="0.4"/>
<rect x="1356.6" y="2315.4" width="21.6" height="64.5" fill="#d95f0e" stroke="#6b2f07" stroke-width="0.6"/>
<rect x="1378.2" y="2328.8" width="21.6" height="51.1" fill="#2c7fb8" stroke="#1a4466" stroke-width="0.4"/>
<rect x="1426.0" y="2288.4" width="21.6" height="91.5" fill="#d95f0e" stroke="#6b2f07" stroke-width="0.6"/>
<rect x="1447.6" y="2304.0" width="21.6" height="75.9" fill="#2c7fb8" stroke="#1a4466" stroke-width="0.4"/>
<line x1="912.1" y1="2379.9" x2="920.6" y2="2379.9" stroke="#000" stroke-width="1.3"/>
<text x="902.6" y="2391.9" text-anchor="end" stroke="#000">0</text>
<line x1="912.1" y1="2260.0" x2="920.6" y2="2260.0" stroke="#000" stroke-width="1.3"/>
<text x="902.6" y="2272.0" text-anchor="end" stroke="#000">200</text>
<line x1="912.1" y1="2140.2" x2="920.6" y2="2140.2" stroke="#000" stroke-width="1.3"/>
<text x="902.6" y="2152.2" text-anchor="end" stroke="#000">400</text>
<line x1="916.1" y1="2320.0" x2="920.6" y2="2320.0" stroke="#000" stroke-width="1.2"/>
<line x1="916.1" y1="2200.1" x2="920.6" y2="2200.1" stroke="#000" stroke-width="1.2"/>
<line x1="1490.3" y1="2379.9" x2="1498.8" y2="2379.9" stroke="#000" stroke-width="1.3"/>
<text x="1543.8" y="2391.9" text-anchor="end" stroke="#000">0</text>
<line x1="1490.3" y1="2260.1" x2="1498.8" y2="2260.1" stroke="#000" stroke-width="1.3"/>
<text x="1543.8" y="2272.1" text-anchor="end" stroke="#000">15</text>
<line x1="1490.3" y1="2140.2" x2="1498.8" y2="2140.2" stroke="#000" stroke-width="1.3"/>
<text x="1543.8" y="2152.2" text-anchor="end" stroke="#000">30</text>
<line x1="1490.3" y1="2320.0" x2="1494.8" y2="2320.0" stroke="#000" stroke-width="1.2"/>
<line x1="1490.3" y1="2200.1" x2="1494.8" y2="2200.1" stroke="#000" stroke-width="1.2"/>
<line x1="962.7" y1="2131.7" x2="962.7" y2="2140.2" stroke="#000" stroke-width="1.3"/>
<line x1="962.7" y1="2379.9" x2="962.7" y2="2388.4" stroke="#000" stroke-width="1.3"/>
<line x1="1031.7" y1="2131.7" x2="1031.7" y2="2140.2" stroke="#000" stroke-width="1.3"/>
<line x1="1031.7" y1="2379.9" x2="1031.7" y2="2388.4" stroke="#000" stroke-width="1.3"/>
<line x1="1101.2" y1="2131.7" x2="1101.2" y2="2140.2" stroke="#000" stroke-width="1.3"/>
<line x1="1101.2" y1="2379.9" x2="1101.2" y2="2388.4" stroke="#000" stroke-width="1.3"/>
<line x1="1170.2" y1="2131.7" x2="1170.2" y2="2140.2" stroke="#000" stroke-width="1.3"/>
<line x1="1170.2" y1="2379.9" x2="1170.2" y2="2388.4" stroke="#000" stroke-width="1.3"/>
<line x1="1239.7" y1="2131.7" x2="1239.7" y2="2140.2" stroke="#000" stroke-width="1.3"/>
<line x1="1239.7" y1="2379.9" x2="1239.7" y2="2388.4" stroke="#000" stroke-width="1.3"/>
<line x1="1308.7" y1="2131.7" x2="1308.7" y2="2140.2" stroke="#000" stroke-width="1.3"/>
<line x1="1308.7" y1="2379.9" x2="1308.7" y2="2388.4" stroke="#000" stroke-width="1.3"/>
<line x1="1378.2" y1="2131.7" x2="1378.2" y2="2140.2" stroke="#000" stroke-width="1.3"/>
<line x1="1378.2" y1="2379.9" x2="1378.2" y2="2388.4" stroke="#000" stroke-width="1.3"/>
<line x1="1447.6" y1="2131.7" x2="1447.6" y2="2140.2" stroke="#000" stroke-width="1.3"/>
<line x1="1447.6" y1="2379.9" x2="1447.6" y2="2388.4" stroke="#000" stroke-width="1.3"/>
<rect x="920.6" y="2140.2" width="569.7" height="239.7" fill="none" stroke="#000" stroke-width="2.3"/>
<text x="980.2" y="2416.0" text-anchor="end" stroke="#000" transform="rotate(-60 980.2 2416.0)">0-9</text>
<text x="1047.8" y="2415.0" text-anchor="end" stroke="#000" transform="rotate(-60 1047.8 2415.0)">9-18</text>
<text x="1119.3" y="2417.0" text-anchor="end" stroke="#000" transform="rotate(-60 1119.3 2417.0)">18-27</text>
<text x="1186.7" y="2415.0" text-anchor="end" stroke="#000" transform="rotate(-60 1186.7 2415.0)">27-36</text>
<text x="1254.2" y="2415.0" text-anchor="end" stroke="#000" transform="rotate(-60 1254.2 2415.0)">36-42</text>
<text x="1323.4" y="2414.0" text-anchor="end" stroke="#000" transform="rotate(-60 1323.4 2414.0)">42-54</text>
<text x="1395.0" y="2414.0" text-anchor="end" stroke="#000" transform="rotate(-60 1395.0 2414.0)">54-63</text>
<text x="1464.5" y="2415.0" text-anchor="end" stroke="#000" transform="rotate(-60 1464.5 2415.0)">63-72</text>
<text x="1209.2" y="2528.8" text-anchor="middle" stroke="#000">Lag (hour)</text>
<text x="836.1" y="2260.0" text-anchor="middle" font-weight="bold" fill="#d95f0e" transform="rotate(-90 836.1 2260.0)">No. of events</text>
<text x="1582.8" y="2259.6" text-anchor="middle" font-weight="bold" fill="#2c7fb8" transform="rotate(-90 1582.8 2259.6)">Extreme events (%)</text>
<text x="855.0" y="2110.5" text-anchor="start" stroke="#000">(h)</text>
</svg>
</body></html>
